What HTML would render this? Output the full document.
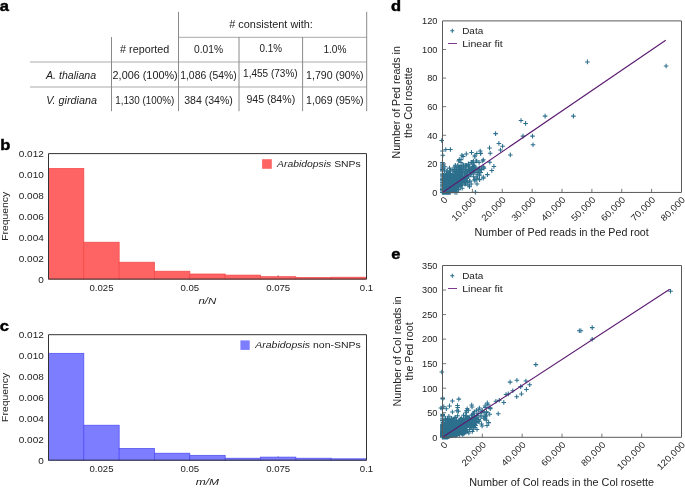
<!DOCTYPE html>
<html><head><meta charset="utf-8"><style>
html,body{margin:0;padding:0;background:#fff;overflow:hidden;}
svg{display:block;will-change:transform;}
text{font-family:"Liberation Sans", sans-serif;fill:#222;}
</style></head><body>
<svg width="685" height="488" viewBox="0 0 685 488">
<text x="-0.30" y="10.90" font-size="15" font-weight="bold" style="fill:#000;stroke:#000;stroke-width:0.45" textLength="9.18" lengthAdjust="spacingAndGlyphs">a</text>
<text x="0.20" y="149.60" font-size="15" font-weight="bold" style="fill:#000;stroke:#000;stroke-width:0.45" textLength="10.08" lengthAdjust="spacingAndGlyphs">b</text>
<text x="-0.20" y="331.00" font-size="15" font-weight="bold" style="fill:#000;stroke:#000;stroke-width:0.45" textLength="9.18" lengthAdjust="spacingAndGlyphs">c</text>
<text x="391.00" y="10.80" font-size="15" font-weight="bold" style="fill:#000;stroke:#000;stroke-width:0.45" textLength="10.08" lengthAdjust="spacingAndGlyphs">d</text>
<text x="391.20" y="258.90" font-size="15" font-weight="bold" style="fill:#000;stroke:#000;stroke-width:0.45" textLength="9.18" lengthAdjust="spacingAndGlyphs">e</text>
<line x1="178.50" y1="37.30" x2="366.70" y2="37.30" stroke="#ababab" stroke-width="1"/>
<line x1="30.00" y1="62.00" x2="366.70" y2="62.00" stroke="#ababab" stroke-width="1"/>
<line x1="30.00" y1="87.00" x2="366.70" y2="87.00" stroke="#ababab" stroke-width="1"/>
<line x1="111.50" y1="37.00" x2="111.50" y2="111.20" stroke="#8a8a8a" stroke-width="1"/>
<line x1="178.50" y1="11.80" x2="178.50" y2="111.20" stroke="#8a8a8a" stroke-width="1"/>
<line x1="239.00" y1="37.00" x2="239.00" y2="111.20" stroke="#8a8a8a" stroke-width="1"/>
<line x1="302.60" y1="37.00" x2="302.60" y2="111.20" stroke="#8a8a8a" stroke-width="1"/>
<line x1="366.70" y1="11.80" x2="366.70" y2="111.20" stroke="#8a8a8a" stroke-width="1"/>
<text x="229.30" y="28.20" font-size="10.2" textLength="83.50" lengthAdjust="spacingAndGlyphs"># consistent with:</text>
<text x="120.10" y="53.40" font-size="10.2" textLength="49.10" lengthAdjust="spacingAndGlyphs"># reported</text>
<text x="194.00" y="53.20" font-size="10.2" textLength="29.10" lengthAdjust="spacingAndGlyphs">0.01%</text>
<text x="259.50" y="51.80" font-size="10.2" textLength="22.50" lengthAdjust="spacingAndGlyphs">0.1%</text>
<text x="323.40" y="53.20" font-size="10.2" textLength="23.10" lengthAdjust="spacingAndGlyphs">1.0%</text>
<text x="46.00" y="78.60" font-size="10.2" font-style="italic" textLength="50.20" lengthAdjust="spacingAndGlyphs">A. thaliana</text>
<text x="46.20" y="103.80" font-size="10.2" font-style="italic" textLength="50.70" lengthAdjust="spacingAndGlyphs">V. girdiana</text>
<text x="112.60" y="78.80" font-size="10.2" textLength="65.10" lengthAdjust="spacingAndGlyphs">2,006 (100%)</text>
<text x="180.20" y="78.80" font-size="10.2" textLength="56.60" lengthAdjust="spacingAndGlyphs">1,086 (54%)</text>
<text x="243.10" y="77.40" font-size="10.2" textLength="54.60" lengthAdjust="spacingAndGlyphs">1,455 (73%)</text>
<text x="306.10" y="79.00" font-size="10.2" textLength="57.50" lengthAdjust="spacingAndGlyphs">1,790 (90%)</text>
<text x="115.20" y="104.00" font-size="10.2" textLength="59.10" lengthAdjust="spacingAndGlyphs">1,130 (100%)</text>
<text x="184.20" y="104.00" font-size="10.2" textLength="48.70" lengthAdjust="spacingAndGlyphs">384 (34%)</text>
<text x="246.40" y="102.50" font-size="10.2" textLength="48.80" lengthAdjust="spacingAndGlyphs">945 (84%)</text>
<text x="306.10" y="104.00" font-size="10.2" textLength="57.50" lengthAdjust="spacingAndGlyphs">1,069 (95%)</text>
<line x1="101.50" y1="279.10" x2="101.50" y2="275.30" stroke="#444" stroke-width="0.8"/>
<line x1="189.83" y1="279.10" x2="189.83" y2="275.30" stroke="#444" stroke-width="0.8"/>
<line x1="278.17" y1="279.10" x2="278.17" y2="275.30" stroke="#444" stroke-width="0.8"/>
<rect x="48.50" y="168.40" width="35.33" height="110.70" fill="#ff6464" stroke="#f24646" stroke-width="0.7"/>
<rect x="83.83" y="242.20" width="35.33" height="36.90" fill="#ff6464" stroke="#f24646" stroke-width="0.7"/>
<rect x="119.17" y="262.20" width="35.33" height="16.90" fill="#ff6464" stroke="#f24646" stroke-width="0.7"/>
<rect x="154.50" y="271.20" width="35.33" height="7.90" fill="#ff6464" stroke="#f24646" stroke-width="0.7"/>
<rect x="189.83" y="274.00" width="35.33" height="5.10" fill="#ff6464" stroke="#f24646" stroke-width="0.7"/>
<rect x="225.17" y="275.10" width="35.33" height="4.00" fill="#ff6464" stroke="#f24646" stroke-width="0.7"/>
<rect x="260.50" y="276.70" width="35.33" height="2.40" fill="#ff6464" stroke="#f24646" stroke-width="0.7"/>
<rect x="295.83" y="277.40" width="35.33" height="1.70" fill="#ff6464" stroke="#f24646" stroke-width="0.7"/>
<rect x="331.17" y="277.20" width="35.33" height="1.90" fill="#ff6464" stroke="#f24646" stroke-width="0.7"/>
<path d="M48.5 153.6 H366.5 V279.1 H48.5 Z" fill="none" stroke="#333" stroke-width="1"/>
<text x="101.50" y="290.80" font-size="9.6" text-anchor="middle" textLength="24.02" lengthAdjust="spacingAndGlyphs">0.025</text>
<text x="189.83" y="290.80" font-size="9.6" text-anchor="middle" textLength="18.68" lengthAdjust="spacingAndGlyphs">0.05</text>
<text x="278.17" y="290.80" font-size="9.6" text-anchor="middle" textLength="24.02" lengthAdjust="spacingAndGlyphs">0.075</text>
<text x="366.50" y="290.80" font-size="9.6" text-anchor="middle" textLength="13.34" lengthAdjust="spacingAndGlyphs">0.1</text>
<text x="43.80" y="282.60" font-size="9.8" text-anchor="end" textLength="5.56" lengthAdjust="spacingAndGlyphs">0</text>
<text x="43.80" y="261.68" font-size="9.8" text-anchor="end" textLength="25.01" lengthAdjust="spacingAndGlyphs">0.002</text>
<text x="43.80" y="240.77" font-size="9.8" text-anchor="end" textLength="25.01" lengthAdjust="spacingAndGlyphs">0.004</text>
<text x="43.80" y="219.85" font-size="9.8" text-anchor="end" textLength="25.01" lengthAdjust="spacingAndGlyphs">0.006</text>
<text x="43.80" y="198.93" font-size="9.8" text-anchor="end" textLength="25.01" lengthAdjust="spacingAndGlyphs">0.008</text>
<text x="43.80" y="178.02" font-size="9.8" text-anchor="end" textLength="25.01" lengthAdjust="spacingAndGlyphs">0.010</text>
<text x="43.80" y="157.10" font-size="9.8" text-anchor="end" textLength="25.01" lengthAdjust="spacingAndGlyphs">0.012</text>
<text x="0.00" y="0.00" font-size="9.3" text-anchor="middle" textLength="49.00" lengthAdjust="spacingAndGlyphs" transform="translate(8.1 216.3) rotate(-90)">Frequency</text>
<rect x="262.10" y="159.20" width="9.70" height="9.60" fill="#ff6464"/>
<text x="277.00" y="166.50" font-size="9.3" textLength="83.70" lengthAdjust="spacingAndGlyphs"><tspan font-style="italic">Arabidopsis</tspan> SNPs</text>
<text x="198.50" y="304.00" font-size="9.6" font-style="italic" textLength="17.80" lengthAdjust="spacingAndGlyphs">n/N</text>
<line x1="101.50" y1="460.20" x2="101.50" y2="456.40" stroke="#444" stroke-width="0.8"/>
<line x1="189.83" y1="460.20" x2="189.83" y2="456.40" stroke="#444" stroke-width="0.8"/>
<line x1="278.17" y1="460.20" x2="278.17" y2="456.40" stroke="#444" stroke-width="0.8"/>
<rect x="48.50" y="353.30" width="35.33" height="106.90" fill="#7d7dff" stroke="#4a4af2" stroke-width="0.7"/>
<rect x="83.83" y="425.20" width="35.33" height="35.00" fill="#7d7dff" stroke="#4a4af2" stroke-width="0.7"/>
<rect x="119.17" y="448.40" width="35.33" height="11.80" fill="#7d7dff" stroke="#4a4af2" stroke-width="0.7"/>
<rect x="154.50" y="453.20" width="35.33" height="7.00" fill="#7d7dff" stroke="#4a4af2" stroke-width="0.7"/>
<rect x="189.83" y="455.30" width="35.33" height="4.90" fill="#7d7dff" stroke="#4a4af2" stroke-width="0.7"/>
<rect x="225.17" y="458.20" width="35.33" height="2.00" fill="#7d7dff" stroke="#4a4af2" stroke-width="0.7"/>
<rect x="260.50" y="457.10" width="35.33" height="3.10" fill="#7d7dff" stroke="#4a4af2" stroke-width="0.7"/>
<rect x="295.83" y="458.20" width="35.33" height="2.00" fill="#7d7dff" stroke="#4a4af2" stroke-width="0.7"/>
<rect x="331.17" y="458.80" width="35.33" height="1.40" fill="#7d7dff" stroke="#4a4af2" stroke-width="0.7"/>
<path d="M48.5 334.7 H366.5 V460.2 H48.5 Z" fill="none" stroke="#333" stroke-width="1"/>
<text x="101.50" y="471.90" font-size="9.6" text-anchor="middle" textLength="24.02" lengthAdjust="spacingAndGlyphs">0.025</text>
<text x="189.83" y="471.90" font-size="9.6" text-anchor="middle" textLength="18.68" lengthAdjust="spacingAndGlyphs">0.05</text>
<text x="278.17" y="471.90" font-size="9.6" text-anchor="middle" textLength="24.02" lengthAdjust="spacingAndGlyphs">0.075</text>
<text x="366.50" y="471.90" font-size="9.6" text-anchor="middle" textLength="13.34" lengthAdjust="spacingAndGlyphs">0.1</text>
<text x="43.80" y="463.70" font-size="9.8" text-anchor="end" textLength="5.56" lengthAdjust="spacingAndGlyphs">0</text>
<text x="43.80" y="442.78" font-size="9.8" text-anchor="end" textLength="25.01" lengthAdjust="spacingAndGlyphs">0.002</text>
<text x="43.80" y="421.87" font-size="9.8" text-anchor="end" textLength="25.01" lengthAdjust="spacingAndGlyphs">0.004</text>
<text x="43.80" y="400.95" font-size="9.8" text-anchor="end" textLength="25.01" lengthAdjust="spacingAndGlyphs">0.006</text>
<text x="43.80" y="380.03" font-size="9.8" text-anchor="end" textLength="25.01" lengthAdjust="spacingAndGlyphs">0.008</text>
<text x="43.80" y="359.12" font-size="9.8" text-anchor="end" textLength="25.01" lengthAdjust="spacingAndGlyphs">0.010</text>
<text x="43.80" y="338.20" font-size="9.8" text-anchor="end" textLength="25.01" lengthAdjust="spacingAndGlyphs">0.012</text>
<text x="0.00" y="0.00" font-size="9.3" text-anchor="middle" textLength="49.00" lengthAdjust="spacingAndGlyphs" transform="translate(8.1 397.4) rotate(-90)">Frequency</text>
<rect x="240.40" y="340.40" width="9.30" height="9.50" fill="#7d7dff"/>
<text x="255.30" y="348.20" font-size="9.3" textLength="105.50" lengthAdjust="spacingAndGlyphs"><tspan font-style="italic">Arabidopsis</tspan> non-SNPs</text>
<text x="195.70" y="485.20" font-size="9.6" font-style="italic" textLength="23.40" lengthAdjust="spacingAndGlyphs">m/M</text>
<line x1="472.38" y1="192.45" x2="472.38" y2="188.85" stroke="#555" stroke-width="0.8"/>
<line x1="502.25" y1="192.45" x2="502.25" y2="188.85" stroke="#555" stroke-width="0.8"/>
<line x1="532.12" y1="192.45" x2="532.12" y2="188.85" stroke="#555" stroke-width="0.8"/>
<line x1="562.00" y1="192.45" x2="562.00" y2="188.85" stroke="#555" stroke-width="0.8"/>
<line x1="591.88" y1="192.45" x2="591.88" y2="188.85" stroke="#555" stroke-width="0.8"/>
<line x1="621.75" y1="192.45" x2="621.75" y2="188.85" stroke="#555" stroke-width="0.8"/>
<line x1="651.62" y1="192.45" x2="651.62" y2="188.85" stroke="#555" stroke-width="0.8"/>
<line x1="442.50" y1="163.86" x2="446.10" y2="163.86" stroke="#555" stroke-width="0.8"/>
<line x1="442.50" y1="135.27" x2="446.10" y2="135.27" stroke="#555" stroke-width="0.8"/>
<line x1="442.50" y1="106.67" x2="446.10" y2="106.67" stroke="#555" stroke-width="0.8"/>
<line x1="442.50" y1="78.08" x2="446.10" y2="78.08" stroke="#555" stroke-width="0.8"/>
<line x1="442.50" y1="49.49" x2="446.10" y2="49.49" stroke="#555" stroke-width="0.8"/>
<path d="M441.4 189.6h4.6M443.7 187.3v4.6M447.1 183.9h4.6M449.4 181.6v4.6M444.1 185.3h4.6M446.4 183.0v4.6M448.0 189.6h4.6M450.3 187.3v4.6M448.4 186.7h4.6M450.7 184.4v4.6M467.6 169.6h4.6M469.9 167.3v4.6M440.3 189.6h4.6M442.6 187.3v4.6M445.1 182.4h4.6M447.4 180.1v4.6M444.6 186.7h4.6M446.9 184.4v4.6M447.6 188.2h4.6M449.9 185.9v4.6M449.4 178.2h4.6M451.7 175.9v4.6M443.4 186.7h4.6M445.7 184.4v4.6M443.1 191.0h4.6M445.4 188.7v4.6M444.7 186.7h4.6M447.0 184.4v4.6M445.6 188.2h4.6M447.9 185.9v4.6M448.0 176.7h4.6M450.3 174.4v4.6M445.0 185.3h4.6M447.3 183.0v4.6M448.3 182.4h4.6M450.6 180.1v4.6M447.8 188.2h4.6M450.1 185.9v4.6M457.8 186.7h4.6M460.1 184.4v4.6M442.1 192.4h4.6M444.4 190.1v4.6M441.0 192.4h4.6M443.3 190.1v4.6M453.0 165.3h4.6M455.3 163.0v4.6M471.6 169.6h4.6M473.9 167.3v4.6M443.4 192.4h4.6M445.7 190.1v4.6M442.6 191.0h4.6M444.9 188.7v4.6M446.2 179.6h4.6M448.5 177.3v4.6M450.7 185.3h4.6M453.0 183.0v4.6M442.1 192.4h4.6M444.4 190.1v4.6M452.6 191.0h4.6M454.9 188.7v4.6M458.9 183.9h4.6M461.2 181.6v4.6M444.7 192.4h4.6M447.0 190.1v4.6M441.3 189.6h4.6M443.6 187.3v4.6M446.3 188.2h4.6M448.6 185.9v4.6M446.2 185.3h4.6M448.5 183.0v4.6M446.3 188.2h4.6M448.6 185.9v4.6M449.8 181.0h4.6M452.1 178.7v4.6M443.9 185.3h4.6M446.2 183.0v4.6M447.7 186.7h4.6M450.0 184.4v4.6M443.6 191.0h4.6M445.9 188.7v4.6M446.7 186.7h4.6M449.0 184.4v4.6M449.8 186.7h4.6M452.1 184.4v4.6M443.7 188.2h4.6M446.0 185.9v4.6M454.2 181.0h4.6M456.5 178.7v4.6M455.1 182.4h4.6M457.4 180.1v4.6M446.6 172.4h4.6M448.9 170.1v4.6M448.8 182.4h4.6M451.1 180.1v4.6M448.8 189.6h4.6M451.1 187.3v4.6M477.3 179.6h4.6M479.6 177.3v4.6M442.8 186.7h4.6M445.1 184.4v4.6M479.2 169.6h4.6M481.5 167.3v4.6M443.8 183.9h4.6M446.1 181.6v4.6M464.7 166.7h4.6M467.0 164.4v4.6M442.7 189.6h4.6M445.0 187.3v4.6M441.5 192.4h4.6M443.8 190.1v4.6M441.8 189.6h4.6M444.1 187.3v4.6M444.3 189.6h4.6M446.6 187.3v4.6M448.1 176.7h4.6M450.4 174.4v4.6M476.8 168.1h4.6M479.1 165.8v4.6M450.8 183.9h4.6M453.1 181.6v4.6M441.7 182.4h4.6M444.0 180.1v4.6M443.7 188.2h4.6M446.0 185.9v4.6M442.4 192.4h4.6M444.7 190.1v4.6M441.2 191.0h4.6M443.5 188.7v4.6M441.1 192.4h4.6M443.4 190.1v4.6M459.7 178.2h4.6M462.0 175.9v4.6M445.8 188.2h4.6M448.1 185.9v4.6M441.4 192.4h4.6M443.7 190.1v4.6M455.2 179.6h4.6M457.5 177.3v4.6M441.4 192.4h4.6M443.7 190.1v4.6M446.3 183.9h4.6M448.6 181.6v4.6M462.0 175.3h4.6M464.3 173.0v4.6M443.4 189.6h4.6M445.7 187.3v4.6M443.3 185.3h4.6M445.6 183.0v4.6M443.4 186.7h4.6M445.7 184.4v4.6M442.4 186.7h4.6M444.7 184.4v4.6M440.8 188.2h4.6M443.1 185.9v4.6M447.9 191.0h4.6M450.2 188.7v4.6M440.5 192.4h4.6M442.8 190.1v4.6M453.5 185.3h4.6M455.8 183.0v4.6M451.8 175.3h4.6M454.1 173.0v4.6M442.6 192.4h4.6M444.9 190.1v4.6M441.8 183.9h4.6M444.1 181.6v4.6M446.2 191.0h4.6M448.5 188.7v4.6M451.2 188.2h4.6M453.5 185.9v4.6M449.6 185.3h4.6M451.9 183.0v4.6M445.6 191.0h4.6M447.9 188.7v4.6M443.5 192.4h4.6M445.8 190.1v4.6M449.5 178.2h4.6M451.8 175.9v4.6M462.6 181.0h4.6M464.9 178.7v4.6M446.9 189.6h4.6M449.2 187.3v4.6M449.8 186.7h4.6M452.1 184.4v4.6M466.1 171.0h4.6M468.4 168.7v4.6M446.1 188.2h4.6M448.4 185.9v4.6M443.1 186.7h4.6M445.4 184.4v4.6M465.8 182.4h4.6M468.1 180.1v4.6M445.5 189.6h4.6M447.8 187.3v4.6M442.7 188.2h4.6M445.0 185.9v4.6M441.5 189.6h4.6M443.8 187.3v4.6M446.9 183.9h4.6M449.2 181.6v4.6M443.2 192.4h4.6M445.5 190.1v4.6M443.3 188.2h4.6M445.6 185.9v4.6M446.7 186.7h4.6M449.0 184.4v4.6M463.7 181.0h4.6M466.0 178.7v4.6M448.1 186.7h4.6M450.4 184.4v4.6M442.4 192.4h4.6M444.7 190.1v4.6M446.2 186.7h4.6M448.5 184.4v4.6M443.4 179.6h4.6M445.7 177.3v4.6M457.4 169.6h4.6M459.7 167.3v4.6M454.7 175.3h4.6M457.0 173.0v4.6M447.6 186.7h4.6M449.9 184.4v4.6M459.6 155.3h4.6M461.9 153.0v4.6M442.9 191.0h4.6M445.2 188.7v4.6M441.7 192.4h4.6M444.0 190.1v4.6M442.2 192.4h4.6M444.5 190.1v4.6M470.0 171.0h4.6M472.3 168.7v4.6M468.9 169.6h4.6M471.2 167.3v4.6M442.3 192.4h4.6M444.6 190.1v4.6M448.5 185.3h4.6M450.8 183.0v4.6M442.0 189.6h4.6M444.3 187.3v4.6M451.6 189.6h4.6M453.9 187.3v4.6M445.5 188.2h4.6M447.8 185.9v4.6M451.6 173.9h4.6M453.9 171.6v4.6M441.5 191.0h4.6M443.8 188.7v4.6M444.4 191.0h4.6M446.7 188.7v4.6M444.6 182.4h4.6M446.9 180.1v4.6M440.9 191.0h4.6M443.2 188.7v4.6M442.6 183.9h4.6M444.9 181.6v4.6M442.8 191.0h4.6M445.1 188.7v4.6M448.7 181.0h4.6M451.0 178.7v4.6M455.6 183.9h4.6M457.9 181.6v4.6M442.2 191.0h4.6M444.5 188.7v4.6M441.5 191.0h4.6M443.8 188.7v4.6M449.9 186.7h4.6M452.2 184.4v4.6M446.3 186.7h4.6M448.6 184.4v4.6M447.6 185.3h4.6M449.9 183.0v4.6M448.9 186.7h4.6M451.2 184.4v4.6M462.5 173.9h4.6M464.8 171.6v4.6M450.1 179.6h4.6M452.4 177.3v4.6M442.6 191.0h4.6M444.9 188.7v4.6M443.1 188.2h4.6M445.4 185.9v4.6M443.2 191.0h4.6M445.5 188.7v4.6M440.8 191.0h4.6M443.1 188.7v4.6M450.2 186.7h4.6M452.5 184.4v4.6M464.6 178.2h4.6M466.9 175.9v4.6M442.7 191.0h4.6M445.0 188.7v4.6M443.4 189.6h4.6M445.7 187.3v4.6M442.1 191.0h4.6M444.4 188.7v4.6M444.8 192.4h4.6M447.1 190.1v4.6M440.9 191.0h4.6M443.2 188.7v4.6M448.0 182.4h4.6M450.3 180.1v4.6M450.7 186.7h4.6M453.0 184.4v4.6M443.1 191.0h4.6M445.4 188.7v4.6M449.3 186.7h4.6M451.6 184.4v4.6M443.4 189.6h4.6M445.7 187.3v4.6M450.7 183.9h4.6M453.0 181.6v4.6M442.0 186.7h4.6M444.3 184.4v4.6M443.3 186.7h4.6M445.6 184.4v4.6M443.2 191.0h4.6M445.5 188.7v4.6M443.3 191.0h4.6M445.6 188.7v4.6M444.8 178.2h4.6M447.1 175.9v4.6M442.5 186.7h4.6M444.8 184.4v4.6M441.3 188.2h4.6M443.6 185.9v4.6M442.3 192.4h4.6M444.6 190.1v4.6M442.7 192.4h4.6M445.0 190.1v4.6M443.9 183.9h4.6M446.2 181.6v4.6M445.6 188.2h4.6M447.9 185.9v4.6M444.4 182.4h4.6M446.7 180.1v4.6M441.2 188.2h4.6M443.5 185.9v4.6M444.8 183.9h4.6M447.1 181.6v4.6M447.4 183.9h4.6M449.7 181.6v4.6M445.5 188.2h4.6M447.8 185.9v4.6M441.6 188.2h4.6M443.9 185.9v4.6M446.8 181.0h4.6M449.1 178.7v4.6M446.4 189.6h4.6M448.7 187.3v4.6M444.1 191.0h4.6M446.4 188.7v4.6M444.0 189.6h4.6M446.3 187.3v4.6M448.5 173.9h4.6M450.8 171.6v4.6M447.9 183.9h4.6M450.2 181.6v4.6M442.6 186.7h4.6M444.9 184.4v4.6M444.9 191.0h4.6M447.2 188.7v4.6M444.6 181.0h4.6M446.9 178.7v4.6M454.3 175.3h4.6M456.6 173.0v4.6M455.4 181.0h4.6M457.7 178.7v4.6M443.7 189.6h4.6M446.0 187.3v4.6M441.1 192.4h4.6M443.4 190.1v4.6M442.5 191.0h4.6M444.8 188.7v4.6M442.7 191.0h4.6M445.0 188.7v4.6M442.3 192.4h4.6M444.6 190.1v4.6M440.5 189.6h4.6M442.8 187.3v4.6M446.2 186.7h4.6M448.5 184.4v4.6M450.0 179.6h4.6M452.3 177.3v4.6M443.0 191.0h4.6M445.3 188.7v4.6M441.6 191.0h4.6M443.9 188.7v4.6M441.3 175.3h4.6M443.6 173.0v4.6M444.2 186.7h4.6M446.5 184.4v4.6M442.2 171.0h4.6M444.5 168.7v4.6M466.1 163.9h4.6M468.4 161.6v4.6M450.5 185.3h4.6M452.8 183.0v4.6M446.0 185.3h4.6M448.3 183.0v4.6M443.9 191.0h4.6M446.2 188.7v4.6M443.6 189.6h4.6M445.9 187.3v4.6M442.7 192.4h4.6M445.0 190.1v4.6M442.3 192.4h4.6M444.6 190.1v4.6M442.6 191.0h4.6M444.9 188.7v4.6M450.1 181.0h4.6M452.4 178.7v4.6M447.7 181.0h4.6M450.0 178.7v4.6M443.7 186.7h4.6M446.0 184.4v4.6M447.9 183.9h4.6M450.2 181.6v4.6M449.7 183.9h4.6M452.0 181.6v4.6M441.9 191.0h4.6M444.2 188.7v4.6M440.6 189.6h4.6M442.9 187.3v4.6M441.9 189.6h4.6M444.2 187.3v4.6M443.1 191.0h4.6M445.4 188.7v4.6M441.3 189.6h4.6M443.6 187.3v4.6M441.5 192.4h4.6M443.8 190.1v4.6M443.7 192.4h4.6M446.0 190.1v4.6M459.2 185.3h4.6M461.5 183.0v4.6M443.1 192.4h4.6M445.4 190.1v4.6M451.8 185.3h4.6M454.1 183.0v4.6M441.7 191.0h4.6M444.0 188.7v4.6M458.5 173.9h4.6M460.8 171.6v4.6M457.0 179.6h4.6M459.3 177.3v4.6M442.7 186.7h4.6M445.0 184.4v4.6M442.4 189.6h4.6M444.7 187.3v4.6M441.8 186.7h4.6M444.1 184.4v4.6M453.2 185.3h4.6M455.5 183.0v4.6M444.5 182.4h4.6M446.8 180.1v4.6M456.0 176.7h4.6M458.3 174.4v4.6M443.6 188.2h4.6M445.9 185.9v4.6M442.1 192.4h4.6M444.4 190.1v4.6M441.2 182.4h4.6M443.5 180.1v4.6M446.6 192.4h4.6M448.9 190.1v4.6M441.3 189.6h4.6M443.6 187.3v4.6M449.1 185.3h4.6M451.4 183.0v4.6M448.0 178.2h4.6M450.3 175.9v4.6M445.5 185.3h4.6M447.8 183.0v4.6M442.0 189.6h4.6M444.3 187.3v4.6M457.3 182.4h4.6M459.6 180.1v4.6M440.6 191.0h4.6M442.9 188.7v4.6M449.5 186.7h4.6M451.8 184.4v4.6M442.0 185.3h4.6M444.3 183.0v4.6M449.3 182.4h4.6M451.6 180.1v4.6M452.8 183.9h4.6M455.1 181.6v4.6M447.3 188.2h4.6M449.6 185.9v4.6M440.8 191.0h4.6M443.1 188.7v4.6M443.3 188.2h4.6M445.6 185.9v4.6M442.3 191.0h4.6M444.6 188.7v4.6M442.1 191.0h4.6M444.4 188.7v4.6M449.9 181.0h4.6M452.2 178.7v4.6M449.7 188.2h4.6M452.0 185.9v4.6M443.3 191.0h4.6M445.6 188.7v4.6M456.0 181.0h4.6M458.3 178.7v4.6M440.5 192.4h4.6M442.8 190.1v4.6M449.3 188.2h4.6M451.6 185.9v4.6M467.0 166.7h4.6M469.3 164.4v4.6M443.8 183.9h4.6M446.1 181.6v4.6M440.5 192.4h4.6M442.8 190.1v4.6M441.3 185.3h4.6M443.6 183.0v4.6M448.1 183.9h4.6M450.4 181.6v4.6M444.2 192.4h4.6M446.5 190.1v4.6M444.3 185.3h4.6M446.6 183.0v4.6M443.4 191.0h4.6M445.7 188.7v4.6M455.8 181.0h4.6M458.1 178.7v4.6M445.4 189.6h4.6M447.7 187.3v4.6M454.2 169.6h4.6M456.5 167.3v4.6M457.2 178.2h4.6M459.5 175.9v4.6M448.6 191.0h4.6M450.9 188.7v4.6M445.8 185.3h4.6M448.1 183.0v4.6M450.4 181.0h4.6M452.7 178.7v4.6M454.4 185.3h4.6M456.7 183.0v4.6M443.9 188.2h4.6M446.2 185.9v4.6M443.3 188.2h4.6M445.6 185.9v4.6M460.0 178.2h4.6M462.3 175.9v4.6M462.7 181.0h4.6M465.0 178.7v4.6M457.7 178.2h4.6M460.0 175.9v4.6M456.7 178.2h4.6M459.0 175.9v4.6M481.0 166.7h4.6M483.3 164.4v4.6M446.8 176.7h4.6M449.1 174.4v4.6M442.3 192.4h4.6M444.6 190.1v4.6M444.8 191.0h4.6M447.1 188.7v4.6M444.4 183.9h4.6M446.7 181.6v4.6M440.4 191.0h4.6M442.7 188.7v4.6M448.8 185.3h4.6M451.1 183.0v4.6M441.3 192.4h4.6M443.6 190.1v4.6M442.5 191.0h4.6M444.8 188.7v4.6M440.3 192.4h4.6M442.6 190.1v4.6M448.9 181.0h4.6M451.2 178.7v4.6M441.9 189.6h4.6M444.2 187.3v4.6M457.7 172.4h4.6M460.0 170.1v4.6M455.9 185.3h4.6M458.2 183.0v4.6M443.5 186.7h4.6M445.8 184.4v4.6M451.2 176.7h4.6M453.5 174.4v4.6M444.0 189.6h4.6M446.3 187.3v4.6M445.4 186.7h4.6M447.7 184.4v4.6M459.5 172.4h4.6M461.8 170.1v4.6M442.6 189.6h4.6M444.9 187.3v4.6M445.6 186.7h4.6M447.9 184.4v4.6M444.9 182.4h4.6M447.2 180.1v4.6M447.8 183.9h4.6M450.1 181.6v4.6M464.0 165.3h4.6M466.3 163.0v4.6M446.9 185.3h4.6M449.2 183.0v4.6M442.3 176.7h4.6M444.6 174.4v4.6M456.6 173.9h4.6M458.9 171.6v4.6M472.5 156.7h4.6M474.8 154.4v4.6M455.7 178.2h4.6M458.0 175.9v4.6M442.0 192.4h4.6M444.3 190.1v4.6M443.3 191.0h4.6M445.6 188.7v4.6M441.0 191.0h4.6M443.3 188.7v4.6M446.1 183.9h4.6M448.4 181.6v4.6M442.0 188.2h4.6M444.3 185.9v4.6M442.6 186.7h4.6M444.9 184.4v4.6M472.6 155.3h4.6M474.9 153.0v4.6M442.2 192.4h4.6M444.5 190.1v4.6M441.5 192.4h4.6M443.8 190.1v4.6M442.6 191.0h4.6M444.9 188.7v4.6M442.0 192.4h4.6M444.3 190.1v4.6M447.8 191.0h4.6M450.1 188.7v4.6M454.6 178.2h4.6M456.9 175.9v4.6M445.6 189.6h4.6M447.9 187.3v4.6M443.2 191.0h4.6M445.5 188.7v4.6M441.3 188.2h4.6M443.6 185.9v4.6M441.3 179.6h4.6M443.6 177.3v4.6M440.6 192.4h4.6M442.9 190.1v4.6M443.3 192.4h4.6M445.6 190.1v4.6M443.3 181.0h4.6M445.6 178.7v4.6M444.7 182.4h4.6M447.0 180.1v4.6M448.5 182.4h4.6M450.8 180.1v4.6M442.5 191.0h4.6M444.8 188.7v4.6M446.4 181.0h4.6M448.7 178.7v4.6M443.8 191.0h4.6M446.1 188.7v4.6M447.3 186.7h4.6M449.6 184.4v4.6M443.6 189.6h4.6M445.9 187.3v4.6M446.2 185.3h4.6M448.5 183.0v4.6M452.4 181.0h4.6M454.7 178.7v4.6M466.5 176.7h4.6M468.8 174.4v4.6M444.2 189.6h4.6M446.5 187.3v4.6M443.1 188.2h4.6M445.4 185.9v4.6M441.5 186.7h4.6M443.8 184.4v4.6M447.0 191.0h4.6M449.3 188.7v4.6M445.9 191.0h4.6M448.2 188.7v4.6M443.9 189.6h4.6M446.2 187.3v4.6M456.3 182.4h4.6M458.6 180.1v4.6M452.1 185.3h4.6M454.4 183.0v4.6M442.7 191.0h4.6M445.0 188.7v4.6M443.9 189.6h4.6M446.2 187.3v4.6M441.1 188.2h4.6M443.4 185.9v4.6M442.8 182.4h4.6M445.1 180.1v4.6M442.7 192.4h4.6M445.0 190.1v4.6M455.1 181.0h4.6M457.4 178.7v4.6M450.2 191.0h4.6M452.5 188.7v4.6M454.1 178.2h4.6M456.4 175.9v4.6M448.8 185.3h4.6M451.1 183.0v4.6M459.0 176.7h4.6M461.3 174.4v4.6M445.6 189.6h4.6M447.9 187.3v4.6M441.5 192.4h4.6M443.8 190.1v4.6M445.0 188.2h4.6M447.3 185.9v4.6M444.1 185.3h4.6M446.4 183.0v4.6M440.6 192.4h4.6M442.9 190.1v4.6M442.0 188.2h4.6M444.3 185.9v4.6M442.3 189.6h4.6M444.6 187.3v4.6M440.3 189.6h4.6M442.6 187.3v4.6M441.8 192.4h4.6M444.1 190.1v4.6M441.2 191.0h4.6M443.5 188.7v4.6M447.4 192.4h4.6M449.7 190.1v4.6M442.7 192.4h4.6M445.0 190.1v4.6M444.5 189.6h4.6M446.8 187.3v4.6M477.0 168.1h4.6M479.3 165.8v4.6M455.6 175.3h4.6M457.9 173.0v4.6M447.2 189.6h4.6M449.5 187.3v4.6M444.7 188.2h4.6M447.0 185.9v4.6M450.6 182.4h4.6M452.9 180.1v4.6M441.5 191.0h4.6M443.8 188.7v4.6M451.6 183.9h4.6M453.9 181.6v4.6M446.9 188.2h4.6M449.2 185.9v4.6M448.5 186.7h4.6M450.8 184.4v4.6M446.1 189.6h4.6M448.4 187.3v4.6M442.3 191.0h4.6M444.6 188.7v4.6M443.4 192.4h4.6M445.7 190.1v4.6M445.9 186.7h4.6M448.2 184.4v4.6M443.9 188.2h4.6M446.2 185.9v4.6M441.0 192.4h4.6M443.3 190.1v4.6M450.4 189.6h4.6M452.7 187.3v4.6M450.1 176.7h4.6M452.4 174.4v4.6M441.0 191.0h4.6M443.3 188.7v4.6M445.4 181.0h4.6M447.7 178.7v4.6M443.1 189.6h4.6M445.4 187.3v4.6M441.8 191.0h4.6M444.1 188.7v4.6M445.9 186.7h4.6M448.2 184.4v4.6M442.2 191.0h4.6M444.5 188.7v4.6M441.3 192.4h4.6M443.6 190.1v4.6M447.2 188.2h4.6M449.5 185.9v4.6M451.3 191.0h4.6M453.6 188.7v4.6M464.2 175.3h4.6M466.5 173.0v4.6M443.7 189.6h4.6M446.0 187.3v4.6M443.8 183.9h4.6M446.1 181.6v4.6M445.1 188.2h4.6M447.4 185.9v4.6M447.3 186.7h4.6M449.6 184.4v4.6M445.4 185.3h4.6M447.7 183.0v4.6M444.2 186.7h4.6M446.5 184.4v4.6M443.9 183.9h4.6M446.2 181.6v4.6M448.0 182.4h4.6M450.3 180.1v4.6M440.6 192.4h4.6M442.9 190.1v4.6M448.5 186.7h4.6M450.8 184.4v4.6M441.8 188.2h4.6M444.1 185.9v4.6M442.5 191.0h4.6M444.8 188.7v4.6M443.9 192.4h4.6M446.2 190.1v4.6M448.6 185.3h4.6M450.9 183.0v4.6M441.6 192.4h4.6M443.9 190.1v4.6M440.8 189.6h4.6M443.1 187.3v4.6M441.4 191.0h4.6M443.7 188.7v4.6M445.4 185.3h4.6M447.7 183.0v4.6M447.7 181.0h4.6M450.0 178.7v4.6M448.8 186.7h4.6M451.1 184.4v4.6M444.3 189.6h4.6M446.6 187.3v4.6M461.5 166.7h4.6M463.8 164.4v4.6M442.2 191.0h4.6M444.5 188.7v4.6M446.6 185.3h4.6M448.9 183.0v4.6M448.1 185.3h4.6M450.4 183.0v4.6M442.1 188.2h4.6M444.4 185.9v4.6M460.6 165.3h4.6M462.9 163.0v4.6M442.1 192.4h4.6M444.4 190.1v4.6M468.7 172.4h4.6M471.0 170.1v4.6M455.2 185.3h4.6M457.5 183.0v4.6M443.8 183.9h4.6M446.1 181.6v4.6M443.8 182.4h4.6M446.1 180.1v4.6M440.6 192.4h4.6M442.9 190.1v4.6M446.7 189.6h4.6M449.0 187.3v4.6M440.8 189.6h4.6M443.1 187.3v4.6M448.7 175.3h4.6M451.0 173.0v4.6M446.6 185.3h4.6M448.9 183.0v4.6M443.4 189.6h4.6M445.7 187.3v4.6M443.1 181.0h4.6M445.4 178.7v4.6M460.7 171.0h4.6M463.0 168.7v4.6M443.4 191.0h4.6M445.7 188.7v4.6M442.3 185.3h4.6M444.6 183.0v4.6M452.9 186.7h4.6M455.2 184.4v4.6M444.9 186.7h4.6M447.2 184.4v4.6M453.8 172.4h4.6M456.1 170.1v4.6M441.7 181.0h4.6M444.0 178.7v4.6M444.6 191.0h4.6M446.9 188.7v4.6M441.6 191.0h4.6M443.9 188.7v4.6M445.1 189.6h4.6M447.4 187.3v4.6M442.2 188.2h4.6M444.5 185.9v4.6M445.6 186.7h4.6M447.9 184.4v4.6M475.4 178.2h4.6M477.7 175.9v4.6M441.3 191.0h4.6M443.6 188.7v4.6M440.9 192.4h4.6M443.2 190.1v4.6M444.6 189.6h4.6M446.9 187.3v4.6M442.7 189.6h4.6M445.0 187.3v4.6M443.5 192.4h4.6M445.8 190.1v4.6M443.4 192.4h4.6M445.7 190.1v4.6M454.1 183.9h4.6M456.4 181.6v4.6M446.9 191.0h4.6M449.2 188.7v4.6M446.2 186.7h4.6M448.5 184.4v4.6M443.6 185.3h4.6M445.9 183.0v4.6M445.6 191.0h4.6M447.9 188.7v4.6M440.3 186.7h4.6M442.6 184.4v4.6M461.5 178.2h4.6M463.8 175.9v4.6M441.0 189.6h4.6M443.3 187.3v4.6M446.0 191.0h4.6M448.3 188.7v4.6M445.9 189.6h4.6M448.2 187.3v4.6M450.1 186.7h4.6M452.4 184.4v4.6M448.2 183.9h4.6M450.5 181.6v4.6M448.1 186.7h4.6M450.4 184.4v4.6M446.5 192.4h4.6M448.8 190.1v4.6M440.9 191.0h4.6M443.2 188.7v4.6M443.0 186.7h4.6M445.3 184.4v4.6M442.4 191.0h4.6M444.7 188.7v4.6M442.6 192.4h4.6M444.9 190.1v4.6M452.2 173.9h4.6M454.5 171.6v4.6M452.1 189.6h4.6M454.4 187.3v4.6M448.9 182.4h4.6M451.2 180.1v4.6M465.5 182.4h4.6M467.8 180.1v4.6M445.1 189.6h4.6M447.4 187.3v4.6M442.1 188.2h4.6M444.4 185.9v4.6M446.3 181.0h4.6M448.6 178.7v4.6M444.0 185.3h4.6M446.3 183.0v4.6M441.3 188.2h4.6M443.6 185.9v4.6M441.5 191.0h4.6M443.8 188.7v4.6M442.3 192.4h4.6M444.6 190.1v4.6M442.5 185.3h4.6M444.8 183.0v4.6M448.7 185.3h4.6M451.0 183.0v4.6M450.7 186.7h4.6M453.0 184.4v4.6M450.9 178.2h4.6M453.2 175.9v4.6M442.1 191.0h4.6M444.4 188.7v4.6M441.4 192.4h4.6M443.7 190.1v4.6M440.8 191.0h4.6M443.1 188.7v4.6M442.0 192.4h4.6M444.3 190.1v4.6M441.2 192.4h4.6M443.5 190.1v4.6M443.8 186.7h4.6M446.1 184.4v4.6M459.9 188.2h4.6M462.2 185.9v4.6M444.3 191.0h4.6M446.6 188.7v4.6M447.9 192.4h4.6M450.2 190.1v4.6M440.4 192.4h4.6M442.7 190.1v4.6M440.8 191.0h4.6M443.1 188.7v4.6M442.8 185.3h4.6M445.1 183.0v4.6M443.7 192.4h4.6M446.0 190.1v4.6M441.1 192.4h4.6M443.4 190.1v4.6M441.2 191.0h4.6M443.5 188.7v4.6M441.5 189.6h4.6M443.8 187.3v4.6M445.5 191.0h4.6M447.8 188.7v4.6M445.0 191.0h4.6M447.3 188.7v4.6M442.1 191.0h4.6M444.4 188.7v4.6M445.3 189.6h4.6M447.6 187.3v4.6M447.3 178.2h4.6M449.6 175.9v4.6M456.1 183.9h4.6M458.4 181.6v4.6M451.3 179.6h4.6M453.6 177.3v4.6M444.4 188.2h4.6M446.7 185.9v4.6M447.4 191.0h4.6M449.7 188.7v4.6M450.9 185.3h4.6M453.2 183.0v4.6M448.4 182.4h4.6M450.7 180.1v4.6M441.3 192.4h4.6M443.6 190.1v4.6M441.3 192.4h4.6M443.6 190.1v4.6M440.7 189.6h4.6M443.0 187.3v4.6M442.3 192.4h4.6M444.6 190.1v4.6M444.5 185.3h4.6M446.8 183.0v4.6M448.4 185.3h4.6M450.7 183.0v4.6M443.0 191.0h4.6M445.3 188.7v4.6M442.2 189.6h4.6M444.5 187.3v4.6M443.7 186.7h4.6M446.0 184.4v4.6M445.8 185.3h4.6M448.1 183.0v4.6M442.0 191.0h4.6M444.3 188.7v4.6M447.1 189.6h4.6M449.4 187.3v4.6M440.6 191.0h4.6M442.9 188.7v4.6M446.3 186.7h4.6M448.6 184.4v4.6M442.4 186.7h4.6M444.7 184.4v4.6M441.9 191.0h4.6M444.2 188.7v4.6M454.1 175.3h4.6M456.4 173.0v4.6M447.6 188.2h4.6M449.9 185.9v4.6M445.8 181.0h4.6M448.1 178.7v4.6M442.6 191.0h4.6M444.9 188.7v4.6M450.9 182.4h4.6M453.2 180.1v4.6M442.2 192.4h4.6M444.5 190.1v4.6M443.0 185.3h4.6M445.3 183.0v4.6M441.0 191.0h4.6M443.3 188.7v4.6M443.7 189.6h4.6M446.0 187.3v4.6M444.6 192.4h4.6M446.9 190.1v4.6M447.1 181.0h4.6M449.4 178.7v4.6M441.1 191.0h4.6M443.4 188.7v4.6M445.5 182.4h4.6M447.8 180.1v4.6M441.2 192.4h4.6M443.5 190.1v4.6M444.9 188.2h4.6M447.2 185.9v4.6M446.3 192.4h4.6M448.6 190.1v4.6M450.6 182.4h4.6M452.9 180.1v4.6M442.1 191.0h4.6M444.4 188.7v4.6M443.3 189.6h4.6M445.6 187.3v4.6M456.5 178.2h4.6M458.8 175.9v4.6M449.3 185.3h4.6M451.6 183.0v4.6M442.7 192.4h4.6M445.0 190.1v4.6M443.4 188.2h4.6M445.7 185.9v4.6M447.2 188.2h4.6M449.5 185.9v4.6M441.9 192.4h4.6M444.2 190.1v4.6M441.8 189.6h4.6M444.1 187.3v4.6M444.3 192.4h4.6M446.6 190.1v4.6M444.4 192.4h4.6M446.7 190.1v4.6M449.7 183.9h4.6M452.0 181.6v4.6M450.0 191.0h4.6M452.3 188.7v4.6M450.1 189.6h4.6M452.4 187.3v4.6M445.7 182.4h4.6M448.0 180.1v4.6M474.5 161.0h4.6M476.8 158.7v4.6M444.6 189.6h4.6M446.9 187.3v4.6M444.0 191.0h4.6M446.3 188.7v4.6M444.7 189.6h4.6M447.0 187.3v4.6M442.7 191.0h4.6M445.0 188.7v4.6M456.1 181.0h4.6M458.4 178.7v4.6M441.3 192.4h4.6M443.6 190.1v4.6M444.1 186.7h4.6M446.4 184.4v4.6M464.0 178.2h4.6M466.3 175.9v4.6M446.9 189.6h4.6M449.2 187.3v4.6M441.4 189.6h4.6M443.7 187.3v4.6M443.9 188.2h4.6M446.2 185.9v4.6M447.7 189.6h4.6M450.0 187.3v4.6M440.9 192.4h4.6M443.2 190.1v4.6M445.7 188.2h4.6M448.0 185.9v4.6M446.2 186.7h4.6M448.5 184.4v4.6M443.3 189.6h4.6M445.6 187.3v4.6M455.0 189.6h4.6M457.3 187.3v4.6M449.3 185.3h4.6M451.6 183.0v4.6M442.6 183.9h4.6M444.9 181.6v4.6M445.3 191.0h4.6M447.6 188.7v4.6M445.6 188.2h4.6M447.9 185.9v4.6M444.5 183.9h4.6M446.8 181.6v4.6M441.7 191.0h4.6M444.0 188.7v4.6M454.5 183.9h4.6M456.8 181.6v4.6M443.9 189.6h4.6M446.2 187.3v4.6M445.7 179.6h4.6M448.0 177.3v4.6M454.0 169.6h4.6M456.3 167.3v4.6M443.3 189.6h4.6M445.6 187.3v4.6M441.4 191.0h4.6M443.7 188.7v4.6M446.8 182.4h4.6M449.1 180.1v4.6M441.9 191.0h4.6M444.2 188.7v4.6M451.0 182.4h4.6M453.3 180.1v4.6M443.2 189.6h4.6M445.5 187.3v4.6M448.7 191.0h4.6M451.0 188.7v4.6M459.5 181.0h4.6M461.8 178.7v4.6M445.4 181.0h4.6M447.7 178.7v4.6M445.7 185.3h4.6M448.0 183.0v4.6M447.5 186.7h4.6M449.8 184.4v4.6M441.2 192.4h4.6M443.5 190.1v4.6M442.1 189.6h4.6M444.4 187.3v4.6M456.3 176.7h4.6M458.6 174.4v4.6M445.7 191.0h4.6M448.0 188.7v4.6M447.6 185.3h4.6M449.9 183.0v4.6M450.0 183.9h4.6M452.3 181.6v4.6M444.2 186.7h4.6M446.5 184.4v4.6M440.9 192.4h4.6M443.2 190.1v4.6M441.2 192.4h4.6M443.5 190.1v4.6M443.6 191.0h4.6M445.9 188.7v4.6M444.3 188.2h4.6M446.6 185.9v4.6M440.7 189.6h4.6M443.0 187.3v4.6M444.1 191.0h4.6M446.4 188.7v4.6M445.5 189.6h4.6M447.8 187.3v4.6M444.8 181.0h4.6M447.1 178.7v4.6M481.0 178.2h4.6M483.3 175.9v4.6M442.8 189.6h4.6M445.1 187.3v4.6M447.3 189.6h4.6M449.6 187.3v4.6M444.3 183.9h4.6M446.6 181.6v4.6M444.0 188.2h4.6M446.3 185.9v4.6M444.3 188.2h4.6M446.6 185.9v4.6M442.6 189.6h4.6M444.9 187.3v4.6M450.6 178.2h4.6M452.9 175.9v4.6M444.7 186.7h4.6M447.0 184.4v4.6M455.9 168.1h4.6M458.2 165.8v4.6M462.5 173.9h4.6M464.8 171.6v4.6M445.9 188.2h4.6M448.2 185.9v4.6M442.8 189.6h4.6M445.1 187.3v4.6M441.9 191.0h4.6M444.2 188.7v4.6M441.3 191.0h4.6M443.6 188.7v4.6M447.4 189.6h4.6M449.7 187.3v4.6M441.1 191.0h4.6M443.4 188.7v4.6M446.9 185.3h4.6M449.2 183.0v4.6M445.3 188.2h4.6M447.6 185.9v4.6M441.1 192.4h4.6M443.4 190.1v4.6M446.4 172.4h4.6M448.7 170.1v4.6M442.6 188.2h4.6M444.9 185.9v4.6M442.5 191.0h4.6M444.8 188.7v4.6M446.7 182.4h4.6M449.0 180.1v4.6M447.1 189.6h4.6M449.4 187.3v4.6M464.0 153.9h4.6M466.3 151.6v4.6M443.4 189.6h4.6M445.7 187.3v4.6M444.8 188.2h4.6M447.1 185.9v4.6M445.9 182.4h4.6M448.2 180.1v4.6M443.6 189.6h4.6M445.9 187.3v4.6M441.1 186.7h4.6M443.4 184.4v4.6M445.7 188.2h4.6M448.0 185.9v4.6M443.0 191.0h4.6M445.3 188.7v4.6M447.1 185.3h4.6M449.4 183.0v4.6M441.8 192.4h4.6M444.1 190.1v4.6M460.3 175.3h4.6M462.6 173.0v4.6M445.5 186.7h4.6M447.8 184.4v4.6M441.6 189.6h4.6M443.9 187.3v4.6M441.4 186.7h4.6M443.7 184.4v4.6M443.4 183.9h4.6M445.7 181.6v4.6M441.0 189.6h4.6M443.3 187.3v4.6M440.4 192.4h4.6M442.7 190.1v4.6M442.6 191.0h4.6M444.9 188.7v4.6M442.2 192.4h4.6M444.5 190.1v4.6M453.1 181.0h4.6M455.4 178.7v4.6M440.3 192.4h4.6M442.6 190.1v4.6M442.7 188.2h4.6M445.0 185.9v4.6M443.5 189.6h4.6M445.8 187.3v4.6M445.3 188.2h4.6M447.6 185.9v4.6M446.1 185.3h4.6M448.4 183.0v4.6M441.3 189.6h4.6M443.6 187.3v4.6M444.5 188.2h4.6M446.8 185.9v4.6M461.7 165.3h4.6M464.0 163.0v4.6M443.0 186.7h4.6M445.3 184.4v4.6M466.0 176.7h4.6M468.3 174.4v4.6M450.9 185.3h4.6M453.2 183.0v4.6M465.1 181.0h4.6M467.4 178.7v4.6M441.2 191.0h4.6M443.5 188.7v4.6M447.4 186.7h4.6M449.7 184.4v4.6M445.6 183.9h4.6M447.9 181.6v4.6M442.5 192.4h4.6M444.8 190.1v4.6M441.4 192.4h4.6M443.7 190.1v4.6M454.2 171.0h4.6M456.5 168.7v4.6M443.7 189.6h4.6M446.0 187.3v4.6M443.1 189.6h4.6M445.4 187.3v4.6M441.1 183.9h4.6M443.4 181.6v4.6M448.1 183.9h4.6M450.4 181.6v4.6M448.9 182.4h4.6M451.2 180.1v4.6M440.9 192.4h4.6M443.2 190.1v4.6M450.6 181.0h4.6M452.9 178.7v4.6M453.7 189.6h4.6M456.0 187.3v4.6M441.8 191.0h4.6M444.1 188.7v4.6M442.9 192.4h4.6M445.2 190.1v4.6M441.6 188.2h4.6M443.9 185.9v4.6M457.2 183.9h4.6M459.5 181.6v4.6M444.0 188.2h4.6M446.3 185.9v4.6M440.9 192.4h4.6M443.2 190.1v4.6M441.7 182.4h4.6M444.0 180.1v4.6M450.5 186.7h4.6M452.8 184.4v4.6M445.8 192.4h4.6M448.1 190.1v4.6M450.8 179.6h4.6M453.1 177.3v4.6M457.2 181.0h4.6M459.5 178.7v4.6M441.4 192.4h4.6M443.7 190.1v4.6M441.5 192.4h4.6M443.8 190.1v4.6M442.2 192.4h4.6M444.5 190.1v4.6M443.6 189.6h4.6M445.9 187.3v4.6M443.9 185.3h4.6M446.2 183.0v4.6M443.4 191.0h4.6M445.7 188.7v4.6M441.2 189.6h4.6M443.5 187.3v4.6M449.6 178.2h4.6M451.9 175.9v4.6M444.2 192.4h4.6M446.5 190.1v4.6M449.0 188.2h4.6M451.3 185.9v4.6M460.5 178.2h4.6M462.8 175.9v4.6M463.3 183.9h4.6M465.6 181.6v4.6M444.2 186.7h4.6M446.5 184.4v4.6M441.7 191.0h4.6M444.0 188.7v4.6M447.5 178.2h4.6M449.8 175.9v4.6M458.7 178.2h4.6M461.0 175.9v4.6M442.5 191.0h4.6M444.8 188.7v4.6M448.5 185.3h4.6M450.8 183.0v4.6M452.2 191.0h4.6M454.5 188.7v4.6M442.5 192.4h4.6M444.8 190.1v4.6M440.2 185.3h4.6M442.5 183.0v4.6M451.7 179.6h4.6M454.0 177.3v4.6M452.2 185.3h4.6M454.5 183.0v4.6M441.0 189.6h4.6M443.3 187.3v4.6M441.6 192.4h4.6M443.9 190.1v4.6M442.5 191.0h4.6M444.8 188.7v4.6M445.2 191.0h4.6M447.5 188.7v4.6M443.2 182.4h4.6M445.5 180.1v4.6M444.3 186.7h4.6M446.6 184.4v4.6M445.2 186.7h4.6M447.5 184.4v4.6M443.2 192.4h4.6M445.5 190.1v4.6M448.1 182.4h4.6M450.4 180.1v4.6M442.2 191.0h4.6M444.5 188.7v4.6M457.3 185.3h4.6M459.6 183.0v4.6M472.7 169.6h4.6M475.0 167.3v4.6M440.5 188.2h4.6M442.8 185.9v4.6M441.6 182.4h4.6M443.9 180.1v4.6M441.0 192.4h4.6M443.3 190.1v4.6M440.8 192.4h4.6M443.1 190.1v4.6M447.0 186.7h4.6M449.3 184.4v4.6M452.7 185.3h4.6M455.0 183.0v4.6M443.8 181.0h4.6M446.1 178.7v4.6M447.2 188.2h4.6M449.5 185.9v4.6M443.6 183.9h4.6M445.9 181.6v4.6M442.6 192.4h4.6M444.9 190.1v4.6M441.2 192.4h4.6M443.5 190.1v4.6M446.3 189.6h4.6M448.6 187.3v4.6M441.7 186.7h4.6M444.0 184.4v4.6M446.9 181.0h4.6M449.2 178.7v4.6M450.4 171.0h4.6M452.7 168.7v4.6M443.2 183.9h4.6M445.5 181.6v4.6M444.8 188.2h4.6M447.1 185.9v4.6M463.4 169.6h4.6M465.7 167.3v4.6M442.4 192.4h4.6M444.7 190.1v4.6M446.5 191.0h4.6M448.8 188.7v4.6M443.1 189.6h4.6M445.4 187.3v4.6M442.4 191.0h4.6M444.7 188.7v4.6M446.7 189.6h4.6M449.0 187.3v4.6M446.6 189.6h4.6M448.9 187.3v4.6M442.7 191.0h4.6M445.0 188.7v4.6M443.9 192.4h4.6M446.2 190.1v4.6M446.9 186.7h4.6M449.2 184.4v4.6M445.9 189.6h4.6M448.2 187.3v4.6M441.3 191.0h4.6M443.6 188.7v4.6M441.7 192.4h4.6M444.0 190.1v4.6M442.2 189.6h4.6M444.5 187.3v4.6M442.7 186.7h4.6M445.0 184.4v4.6M448.8 186.7h4.6M451.1 184.4v4.6M441.3 191.0h4.6M443.6 188.7v4.6M446.6 186.7h4.6M448.9 184.4v4.6M448.4 183.9h4.6M450.7 181.6v4.6M442.7 178.2h4.6M445.0 175.9v4.6M441.1 192.4h4.6M443.4 190.1v4.6M443.6 192.4h4.6M445.9 190.1v4.6M446.8 189.6h4.6M449.1 187.3v4.6M447.4 189.6h4.6M449.7 187.3v4.6M441.1 191.0h4.6M443.4 188.7v4.6M446.9 188.2h4.6M449.2 185.9v4.6M443.6 188.2h4.6M445.9 185.9v4.6M444.5 176.7h4.6M446.8 174.4v4.6M445.2 188.2h4.6M447.5 185.9v4.6M441.3 192.4h4.6M443.6 190.1v4.6M444.0 189.6h4.6M446.3 187.3v4.6M441.2 192.4h4.6M443.5 190.1v4.6M452.8 178.2h4.6M455.1 175.9v4.6M452.6 189.6h4.6M454.9 187.3v4.6M443.6 185.3h4.6M445.9 183.0v4.6M442.3 191.0h4.6M444.6 188.7v4.6M443.5 192.4h4.6M445.8 190.1v4.6M448.8 183.9h4.6M451.1 181.6v4.6M441.8 192.4h4.6M444.1 190.1v4.6M443.9 188.2h4.6M446.2 185.9v4.6M443.9 189.6h4.6M446.2 187.3v4.6M440.9 186.7h4.6M443.2 184.4v4.6M443.6 186.7h4.6M445.9 184.4v4.6M451.7 182.4h4.6M454.0 180.1v4.6M461.0 178.2h4.6M463.3 175.9v4.6M441.4 189.6h4.6M443.7 187.3v4.6M441.6 192.4h4.6M443.9 190.1v4.6M443.6 191.0h4.6M445.9 188.7v4.6M450.6 188.2h4.6M452.9 185.9v4.6M449.5 185.3h4.6M451.8 183.0v4.6M441.7 192.4h4.6M444.0 190.1v4.6M456.3 172.4h4.6M458.6 170.1v4.6M441.0 192.4h4.6M443.3 190.1v4.6M442.0 191.0h4.6M444.3 188.7v4.6M441.4 182.4h4.6M443.7 180.1v4.6M448.8 186.7h4.6M451.1 184.4v4.6M443.0 189.6h4.6M445.3 187.3v4.6M450.1 183.9h4.6M452.4 181.6v4.6M442.3 189.6h4.6M444.6 187.3v4.6M442.6 191.0h4.6M444.9 188.7v4.6M456.4 161.0h4.6M458.7 158.7v4.6M440.9 185.3h4.6M443.2 183.0v4.6M450.7 191.0h4.6M453.0 188.7v4.6M440.6 192.4h4.6M442.9 190.1v4.6M440.7 192.4h4.6M443.0 190.1v4.6M446.8 186.7h4.6M449.1 184.4v4.6M448.5 188.2h4.6M450.8 185.9v4.6M444.6 182.4h4.6M446.9 180.1v4.6M447.2 185.3h4.6M449.5 183.0v4.6M445.8 188.2h4.6M448.1 185.9v4.6M440.3 191.0h4.6M442.6 188.7v4.6M442.9 191.0h4.6M445.2 188.7v4.6M470.0 168.1h4.6M472.3 165.8v4.6M445.9 186.7h4.6M448.2 184.4v4.6M441.2 192.4h4.6M443.5 190.1v4.6M445.2 191.0h4.6M447.5 188.7v4.6M445.0 191.0h4.6M447.3 188.7v4.6M453.4 173.9h4.6M455.7 171.6v4.6M456.8 166.7h4.6M459.1 164.4v4.6M443.1 189.6h4.6M445.4 187.3v4.6M442.2 191.0h4.6M444.5 188.7v4.6M446.6 186.7h4.6M448.9 184.4v4.6M441.0 179.6h4.6M443.3 177.3v4.6M444.7 183.9h4.6M447.0 181.6v4.6M443.2 189.6h4.6M445.5 187.3v4.6M450.9 183.9h4.6M453.2 181.6v4.6M444.9 191.0h4.6M447.2 188.7v4.6M454.5 182.4h4.6M456.8 180.1v4.6M448.3 188.2h4.6M450.6 185.9v4.6M449.0 186.7h4.6M451.3 184.4v4.6M441.4 186.7h4.6M443.7 184.4v4.6M452.5 186.7h4.6M454.8 184.4v4.6M442.6 186.7h4.6M444.9 184.4v4.6M453.6 185.3h4.6M455.9 183.0v4.6M440.4 186.7h4.6M442.7 184.4v4.6M459.4 178.2h4.6M461.7 175.9v4.6M448.7 186.7h4.6M451.0 184.4v4.6M444.3 189.6h4.6M446.6 187.3v4.6M446.7 185.3h4.6M449.0 183.0v4.6M445.9 182.4h4.6M448.2 180.1v4.6M446.7 182.4h4.6M449.0 180.1v4.6M441.4 192.4h4.6M443.7 190.1v4.6M441.7 189.6h4.6M444.0 187.3v4.6M441.6 189.6h4.6M443.9 187.3v4.6M440.6 191.0h4.6M442.9 188.7v4.6M442.7 191.0h4.6M445.0 188.7v4.6M446.8 183.9h4.6M449.1 181.6v4.6M441.6 191.0h4.6M443.9 188.7v4.6M458.8 165.3h4.6M461.1 163.0v4.6M447.5 191.0h4.6M449.8 188.7v4.6M450.5 169.6h4.6M452.8 167.3v4.6M440.5 191.0h4.6M442.8 188.7v4.6M450.5 183.9h4.6M452.8 181.6v4.6M455.8 173.9h4.6M458.1 171.6v4.6M442.1 191.0h4.6M444.4 188.7v4.6M441.5 189.6h4.6M443.8 187.3v4.6M452.4 189.6h4.6M454.7 187.3v4.6M450.6 183.9h4.6M452.9 181.6v4.6M445.7 192.4h4.6M448.0 190.1v4.6M446.2 191.0h4.6M448.5 188.7v4.6M444.3 192.4h4.6M446.6 190.1v4.6M445.2 185.3h4.6M447.5 183.0v4.6M444.6 191.0h4.6M446.9 188.7v4.6M442.3 191.0h4.6M444.6 188.7v4.6M445.7 188.2h4.6M448.0 185.9v4.6M444.5 189.6h4.6M446.8 187.3v4.6M441.5 189.6h4.6M443.8 187.3v4.6M440.9 192.4h4.6M443.2 190.1v4.6M442.8 186.7h4.6M445.1 184.4v4.6M448.2 183.9h4.6M450.5 181.6v4.6M453.9 181.0h4.6M456.2 178.7v4.6M441.5 189.6h4.6M443.8 187.3v4.6M442.0 192.4h4.6M444.3 190.1v4.6M442.6 191.0h4.6M444.9 188.7v4.6M467.2 171.0h4.6M469.5 168.7v4.6M446.9 185.3h4.6M449.2 183.0v4.6M448.7 186.7h4.6M451.0 184.4v4.6M441.5 185.3h4.6M443.8 183.0v4.6M441.2 189.6h4.6M443.5 187.3v4.6M440.3 191.0h4.6M442.6 188.7v4.6M443.6 189.6h4.6M445.9 187.3v4.6M445.7 189.6h4.6M448.0 187.3v4.6M450.6 183.9h4.6M452.9 181.6v4.6M446.8 191.0h4.6M449.1 188.7v4.6M441.7 188.2h4.6M444.0 185.9v4.6M451.0 181.0h4.6M453.3 178.7v4.6M443.7 191.0h4.6M446.0 188.7v4.6M445.3 191.0h4.6M447.6 188.7v4.6M459.6 183.9h4.6M461.9 181.6v4.6M441.6 185.3h4.6M443.9 183.0v4.6M442.5 186.7h4.6M444.8 184.4v4.6M447.1 186.7h4.6M449.4 184.4v4.6M440.9 189.6h4.6M443.2 187.3v4.6M447.9 188.2h4.6M450.2 185.9v4.6M445.4 182.4h4.6M447.7 180.1v4.6M442.6 186.7h4.6M444.9 184.4v4.6M442.0 191.0h4.6M444.3 188.7v4.6M447.3 189.6h4.6M449.6 187.3v4.6M441.2 192.4h4.6M443.5 190.1v4.6M453.8 183.9h4.6M456.1 181.6v4.6M443.4 188.2h4.6M445.7 185.9v4.6M446.2 185.3h4.6M448.5 183.0v4.6M447.0 186.7h4.6M449.3 184.4v4.6M442.1 186.7h4.6M444.4 184.4v4.6M441.3 191.0h4.6M443.6 188.7v4.6M446.9 189.6h4.6M449.2 187.3v4.6M442.8 189.6h4.6M445.1 187.3v4.6M452.9 183.9h4.6M455.2 181.6v4.6M443.6 183.9h4.6M445.9 181.6v4.6M457.5 178.2h4.6M459.8 175.9v4.6M445.3 186.7h4.6M447.6 184.4v4.6M441.4 189.6h4.6M443.7 187.3v4.6M445.4 179.6h4.6M447.7 177.3v4.6M452.9 176.7h4.6M455.2 174.4v4.6M449.8 182.4h4.6M452.1 180.1v4.6M445.1 188.2h4.6M447.4 185.9v4.6M444.6 191.0h4.6M446.9 188.7v4.6M448.0 185.3h4.6M450.3 183.0v4.6M441.2 191.0h4.6M443.5 188.7v4.6M443.0 188.2h4.6M445.3 185.9v4.6M440.7 191.0h4.6M443.0 188.7v4.6M450.9 188.2h4.6M453.2 185.9v4.6M441.7 186.7h4.6M444.0 184.4v4.6M443.1 191.0h4.6M445.4 188.7v4.6M445.2 185.3h4.6M447.5 183.0v4.6M445.3 188.2h4.6M447.6 185.9v4.6M442.8 191.0h4.6M445.1 188.7v4.6M447.6 175.3h4.6M449.9 173.0v4.6M440.7 192.4h4.6M443.0 190.1v4.6M441.0 191.0h4.6M443.3 188.7v4.6M446.1 186.7h4.6M448.4 184.4v4.6M442.9 186.7h4.6M445.2 184.4v4.6M464.4 181.0h4.6M466.7 178.7v4.6M445.9 189.6h4.6M448.2 187.3v4.6M443.1 188.2h4.6M445.4 185.9v4.6M445.3 189.6h4.6M447.6 187.3v4.6M449.8 188.2h4.6M452.1 185.9v4.6M460.0 181.0h4.6M462.3 178.7v4.6M458.1 169.6h4.6M460.4 167.3v4.6M443.2 191.0h4.6M445.5 188.7v4.6M449.7 178.2h4.6M452.0 175.9v4.6M442.6 189.6h4.6M444.9 187.3v4.6M462.3 179.6h4.6M464.6 177.3v4.6M445.2 188.2h4.6M447.5 185.9v4.6M442.6 189.6h4.6M444.9 187.3v4.6M441.0 192.4h4.6M443.3 190.1v4.6M442.3 192.4h4.6M444.6 190.1v4.6M443.1 192.4h4.6M445.4 190.1v4.6M441.1 189.6h4.6M443.4 187.3v4.6M441.9 191.0h4.6M444.2 188.7v4.6M442.1 188.2h4.6M444.4 185.9v4.6M444.4 185.3h4.6M446.7 183.0v4.6M441.2 192.4h4.6M443.5 190.1v4.6M442.2 189.6h4.6M444.5 187.3v4.6M442.0 188.2h4.6M444.3 185.9v4.6M441.9 192.4h4.6M444.2 190.1v4.6M442.9 191.0h4.6M445.2 188.7v4.6M449.5 183.9h4.6M451.8 181.6v4.6M448.8 183.9h4.6M451.1 181.6v4.6M475.6 169.6h4.6M477.9 167.3v4.6M453.5 175.3h4.6M455.8 173.0v4.6M443.7 189.6h4.6M446.0 187.3v4.6M441.3 189.6h4.6M443.6 187.3v4.6M442.4 189.6h4.6M444.7 187.3v4.6M458.8 176.7h4.6M461.1 174.4v4.6M441.2 192.4h4.6M443.5 190.1v4.6M442.3 186.7h4.6M444.6 184.4v4.6M442.2 189.6h4.6M444.5 187.3v4.6M442.8 188.2h4.6M445.1 185.9v4.6M442.8 188.2h4.6M445.1 185.9v4.6M441.3 188.2h4.6M443.6 185.9v4.6M441.2 192.4h4.6M443.5 190.1v4.6M448.7 188.2h4.6M451.0 185.9v4.6M441.3 192.4h4.6M443.6 190.1v4.6M443.3 191.0h4.6M445.6 188.7v4.6M442.9 186.7h4.6M445.2 184.4v4.6M444.5 181.0h4.6M446.8 178.7v4.6M444.9 186.7h4.6M447.2 184.4v4.6M441.1 192.4h4.6M443.4 190.1v4.6M445.8 185.3h4.6M448.1 183.0v4.6M451.5 185.3h4.6M453.8 183.0v4.6M444.8 181.0h4.6M447.1 178.7v4.6M446.2 189.6h4.6M448.5 187.3v4.6M475.4 173.9h4.6M477.7 171.6v4.6M442.6 189.6h4.6M444.9 187.3v4.6M442.6 189.6h4.6M444.9 187.3v4.6M444.8 191.0h4.6M447.1 188.7v4.6M445.4 188.2h4.6M447.7 185.9v4.6M441.3 188.2h4.6M443.6 185.9v4.6M458.0 176.7h4.6M460.3 174.4v4.6M446.7 189.6h4.6M449.0 187.3v4.6M447.2 185.3h4.6M449.5 183.0v4.6M442.8 191.0h4.6M445.1 188.7v4.6M442.1 191.0h4.6M444.4 188.7v4.6M441.4 189.6h4.6M443.7 187.3v4.6M443.6 192.4h4.6M445.9 190.1v4.6M441.2 192.4h4.6M443.5 190.1v4.6M441.1 191.0h4.6M443.4 188.7v4.6M445.3 188.2h4.6M447.6 185.9v4.6M442.3 191.0h4.6M444.6 188.7v4.6M443.7 189.6h4.6M446.0 187.3v4.6M441.5 186.7h4.6M443.8 184.4v4.6M449.1 181.0h4.6M451.4 178.7v4.6M452.8 181.0h4.6M455.1 178.7v4.6M447.5 188.2h4.6M449.8 185.9v4.6M452.4 181.0h4.6M454.7 178.7v4.6M441.5 191.0h4.6M443.8 188.7v4.6M440.9 192.4h4.6M443.2 190.1v4.6M453.2 178.2h4.6M455.5 175.9v4.6M442.5 188.2h4.6M444.8 185.9v4.6M443.9 189.6h4.6M446.2 187.3v4.6M444.2 189.6h4.6M446.5 187.3v4.6M457.5 173.9h4.6M459.8 171.6v4.6M441.9 191.0h4.6M444.2 188.7v4.6M443.2 192.4h4.6M445.5 190.1v4.6M441.4 191.0h4.6M443.7 188.7v4.6M447.4 188.2h4.6M449.7 185.9v4.6M447.7 189.6h4.6M450.0 187.3v4.6M441.9 188.2h4.6M444.2 185.9v4.6M449.5 188.2h4.6M451.8 185.9v4.6M445.7 185.3h4.6M448.0 183.0v4.6M446.3 188.2h4.6M448.6 185.9v4.6M444.7 183.9h4.6M447.0 181.6v4.6M445.4 179.6h4.6M447.7 177.3v4.6M450.4 176.7h4.6M452.7 174.4v4.6M443.6 189.6h4.6M445.9 187.3v4.6M440.6 191.0h4.6M442.9 188.7v4.6M447.2 185.3h4.6M449.5 183.0v4.6M442.3 188.2h4.6M444.6 185.9v4.6M458.5 181.0h4.6M460.8 178.7v4.6M442.4 188.2h4.6M444.7 185.9v4.6M444.0 185.3h4.6M446.3 183.0v4.6M441.8 189.6h4.6M444.1 187.3v4.6M452.9 182.4h4.6M455.2 180.1v4.6M441.6 192.4h4.6M443.9 190.1v4.6M441.7 189.6h4.6M444.0 187.3v4.6M443.3 186.7h4.6M445.6 184.4v4.6M464.2 173.9h4.6M466.5 171.6v4.6M447.0 185.3h4.6M449.3 183.0v4.6M441.9 191.0h4.6M444.2 188.7v4.6M461.3 178.2h4.6M463.6 175.9v4.6M454.6 182.4h4.6M456.9 180.1v4.6M442.7 191.0h4.6M445.0 188.7v4.6M440.8 189.6h4.6M443.1 187.3v4.6M445.1 188.2h4.6M447.4 185.9v4.6M451.1 178.2h4.6M453.4 175.9v4.6M452.8 192.4h4.6M455.1 190.1v4.6M441.1 191.0h4.6M443.4 188.7v4.6M442.8 191.0h4.6M445.1 188.7v4.6M441.0 185.3h4.6M443.3 183.0v4.6M451.3 176.7h4.6M453.6 174.4v4.6M444.2 173.9h4.6M446.5 171.6v4.6M444.3 179.6h4.6M446.6 177.3v4.6M444.6 188.2h4.6M446.9 185.9v4.6M456.4 175.3h4.6M458.7 173.0v4.6M446.3 189.6h4.6M448.6 187.3v4.6M441.4 192.4h4.6M443.7 190.1v4.6M443.2 179.6h4.6M445.5 177.3v4.6M443.8 188.2h4.6M446.1 185.9v4.6M471.3 176.7h4.6M473.6 174.4v4.6M443.1 191.0h4.6M445.4 188.7v4.6M446.0 188.2h4.6M448.3 185.9v4.6M445.1 186.7h4.6M447.4 184.4v4.6M449.2 188.2h4.6M451.5 185.9v4.6M456.6 176.7h4.6M458.9 174.4v4.6M446.1 188.2h4.6M448.4 185.9v4.6M465.4 172.4h4.6M467.7 170.1v4.6M440.7 189.6h4.6M443.0 187.3v4.6M441.2 191.0h4.6M443.5 188.7v4.6M444.0 186.7h4.6M446.3 184.4v4.6M450.8 181.0h4.6M453.1 178.7v4.6M443.5 191.0h4.6M445.8 188.7v4.6M442.9 191.0h4.6M445.2 188.7v4.6M444.1 189.6h4.6M446.4 187.3v4.6M443.9 192.4h4.6M446.2 190.1v4.6M443.7 192.4h4.6M446.0 190.1v4.6M455.4 173.9h4.6M457.7 171.6v4.6M446.7 188.2h4.6M449.0 185.9v4.6M440.9 191.0h4.6M443.2 188.7v4.6M442.8 191.0h4.6M445.1 188.7v4.6M442.6 188.2h4.6M444.9 185.9v4.6M452.6 186.7h4.6M454.9 184.4v4.6M441.7 192.4h4.6M444.0 190.1v4.6M446.5 189.6h4.6M448.8 187.3v4.6M455.3 175.3h4.6M457.6 173.0v4.6M441.3 192.4h4.6M443.6 190.1v4.6M443.8 191.0h4.6M446.1 188.7v4.6M450.3 188.2h4.6M452.6 185.9v4.6M441.3 182.4h4.6M443.6 180.1v4.6M444.7 188.2h4.6M447.0 185.9v4.6M440.9 189.6h4.6M443.2 187.3v4.6M446.4 188.2h4.6M448.7 185.9v4.6M441.7 191.0h4.6M444.0 188.7v4.6M445.4 185.3h4.6M447.7 183.0v4.6M444.0 188.2h4.6M446.3 185.9v4.6M441.8 179.6h4.6M444.1 177.3v4.6M443.3 183.9h4.6M445.6 181.6v4.6M457.5 185.3h4.6M459.8 183.0v4.6M441.3 191.0h4.6M443.6 188.7v4.6M449.9 182.4h4.6M452.2 180.1v4.6M441.3 191.0h4.6M443.6 188.7v4.6M447.9 186.7h4.6M450.2 184.4v4.6M441.5 192.4h4.6M443.8 190.1v4.6M446.4 189.6h4.6M448.7 187.3v4.6M444.8 189.6h4.6M447.1 187.3v4.6M446.4 185.3h4.6M448.7 183.0v4.6M445.3 191.0h4.6M447.6 188.7v4.6M440.5 188.2h4.6M442.8 185.9v4.6M441.1 188.2h4.6M443.4 185.9v4.6M448.7 183.9h4.6M451.0 181.6v4.6M441.0 182.4h4.6M443.3 180.1v4.6M447.7 189.6h4.6M450.0 187.3v4.6M440.5 191.0h4.6M442.8 188.7v4.6M443.6 191.0h4.6M445.9 188.7v4.6M459.8 178.2h4.6M462.1 175.9v4.6M448.0 189.6h4.6M450.3 187.3v4.6M465.4 175.3h4.6M467.7 173.0v4.6M444.5 188.2h4.6M446.8 185.9v4.6M453.8 179.6h4.6M456.1 177.3v4.6M472.5 172.4h4.6M474.8 170.1v4.6M455.2 172.4h4.6M457.5 170.1v4.6M443.8 191.0h4.6M446.1 188.7v4.6M454.8 172.4h4.6M457.1 170.1v4.6M465.7 185.3h4.6M468.0 183.0v4.6M448.9 185.3h4.6M451.2 183.0v4.6M461.9 182.4h4.6M464.2 180.1v4.6M444.5 192.4h4.6M446.8 190.1v4.6M454.7 185.3h4.6M457.0 183.0v4.6M441.4 191.0h4.6M443.7 188.7v4.6M446.5 188.2h4.6M448.8 185.9v4.6M449.5 186.7h4.6M451.8 184.4v4.6M452.2 183.9h4.6M454.5 181.6v4.6M453.7 183.9h4.6M456.0 181.6v4.6M442.6 189.6h4.6M444.9 187.3v4.6M446.7 185.3h4.6M449.0 183.0v4.6M442.9 189.6h4.6M445.2 187.3v4.6M441.2 191.0h4.6M443.5 188.7v4.6M448.0 181.0h4.6M450.3 178.7v4.6M448.9 182.4h4.6M451.2 180.1v4.6M443.1 192.4h4.6M445.4 190.1v4.6M450.0 175.3h4.6M452.3 173.0v4.6M446.5 181.0h4.6M448.8 178.7v4.6M442.7 189.6h4.6M445.0 187.3v4.6M441.4 186.7h4.6M443.7 184.4v4.6M446.0 189.6h4.6M448.3 187.3v4.6M441.2 191.0h4.6M443.5 188.7v4.6M442.3 192.4h4.6M444.6 190.1v4.6M443.9 192.4h4.6M446.2 190.1v4.6M444.9 189.6h4.6M447.2 187.3v4.6M441.6 192.4h4.6M443.9 190.1v4.6M443.7 191.0h4.6M446.0 188.7v4.6M444.5 191.0h4.6M446.8 188.7v4.6M445.9 188.2h4.6M448.2 185.9v4.6M442.5 191.0h4.6M444.8 188.7v4.6M446.6 188.2h4.6M448.9 185.9v4.6M441.6 191.0h4.6M443.9 188.7v4.6M442.2 186.7h4.6M444.5 184.4v4.6M440.4 192.4h4.6M442.7 190.1v4.6M452.6 182.4h4.6M454.9 180.1v4.6M445.7 191.0h4.6M448.0 188.7v4.6M440.4 192.4h4.6M442.7 190.1v4.6M453.6 181.0h4.6M455.9 178.7v4.6M444.9 191.0h4.6M447.2 188.7v4.6M445.2 181.0h4.6M447.5 178.7v4.6M444.3 189.6h4.6M446.6 187.3v4.6M445.6 191.0h4.6M447.9 188.7v4.6M442.7 189.6h4.6M445.0 187.3v4.6M442.8 191.0h4.6M445.1 188.7v4.6M444.6 188.2h4.6M446.9 185.9v4.6M450.9 182.4h4.6M453.2 180.1v4.6M454.3 183.9h4.6M456.6 181.6v4.6M444.0 178.2h4.6M446.3 175.9v4.6M442.0 191.0h4.6M444.3 188.7v4.6M442.2 192.4h4.6M444.5 190.1v4.6M440.4 192.4h4.6M442.7 190.1v4.6M447.5 188.2h4.6M449.8 185.9v4.6M447.8 185.3h4.6M450.1 183.0v4.6M469.6 172.4h4.6M471.9 170.1v4.6M451.4 188.2h4.6M453.7 185.9v4.6M455.4 182.4h4.6M457.7 180.1v4.6M441.2 192.4h4.6M443.5 190.1v4.6M447.6 188.2h4.6M449.9 185.9v4.6M442.3 191.0h4.6M444.6 188.7v4.6M442.5 189.6h4.6M444.8 187.3v4.6M441.5 189.6h4.6M443.8 187.3v4.6M442.5 186.7h4.6M444.8 184.4v4.6M441.0 192.4h4.6M443.3 190.1v4.6M448.1 185.3h4.6M450.4 183.0v4.6M448.1 186.7h4.6M450.4 184.4v4.6M449.1 188.2h4.6M451.4 185.9v4.6M442.1 189.6h4.6M444.4 187.3v4.6M443.0 186.7h4.6M445.3 184.4v4.6M451.5 188.2h4.6M453.8 185.9v4.6M447.7 186.7h4.6M450.0 184.4v4.6M445.9 186.7h4.6M448.2 184.4v4.6M452.2 188.2h4.6M454.5 185.9v4.6M445.3 183.9h4.6M447.6 181.6v4.6M441.6 189.6h4.6M443.9 187.3v4.6M440.4 182.4h4.6M442.7 180.1v4.6M446.1 189.6h4.6M448.4 187.3v4.6M442.8 186.7h4.6M445.1 184.4v4.6M452.9 185.3h4.6M455.2 183.0v4.6M440.7 185.3h4.6M443.0 183.0v4.6M450.0 183.9h4.6M452.3 181.6v4.6M446.3 188.2h4.6M448.6 185.9v4.6M442.6 188.2h4.6M444.9 185.9v4.6M445.7 191.0h4.6M448.0 188.7v4.6M441.6 191.0h4.6M443.9 188.7v4.6M473.9 176.7h4.6M476.2 174.4v4.6M449.6 182.4h4.6M451.9 180.1v4.6M442.2 189.6h4.6M444.5 187.3v4.6M459.1 168.1h4.6M461.4 165.8v4.6M448.7 176.7h4.6M451.0 174.4v4.6M445.4 191.0h4.6M447.7 188.7v4.6M442.7 191.0h4.6M445.0 188.7v4.6M446.5 191.0h4.6M448.8 188.7v4.6M443.1 189.6h4.6M445.4 187.3v4.6M480.4 161.0h4.6M482.7 158.7v4.6M448.6 183.9h4.6M450.9 181.6v4.6M463.9 176.7h4.6M466.2 174.4v4.6M440.2 191.0h4.6M442.5 188.7v4.6M443.6 192.4h4.6M445.9 190.1v4.6M445.1 185.3h4.6M447.4 183.0v4.6M453.7 181.0h4.6M456.0 178.7v4.6M449.7 185.3h4.6M452.0 183.0v4.6M447.0 181.0h4.6M449.3 178.7v4.6M444.3 191.0h4.6M446.6 188.7v4.6M441.7 192.4h4.6M444.0 190.1v4.6M440.9 191.0h4.6M443.2 188.7v4.6M449.5 185.3h4.6M451.8 183.0v4.6M450.5 183.9h4.6M452.8 181.6v4.6M444.1 191.0h4.6M446.4 188.7v4.6M443.6 176.7h4.6M445.9 174.4v4.6M444.6 188.2h4.6M446.9 185.9v4.6M441.8 185.3h4.6M444.1 183.0v4.6M445.1 188.2h4.6M447.4 185.9v4.6M463.0 178.2h4.6M465.3 175.9v4.6M445.2 185.3h4.6M447.5 183.0v4.6M443.3 192.4h4.6M445.6 190.1v4.6M444.4 179.6h4.6M446.7 177.3v4.6M442.8 183.9h4.6M445.1 181.6v4.6M442.8 188.2h4.6M445.1 185.9v4.6M448.5 186.7h4.6M450.8 184.4v4.6M443.7 188.2h4.6M446.0 185.9v4.6M451.4 191.0h4.6M453.7 188.7v4.6M468.1 173.9h4.6M470.4 171.6v4.6M448.3 183.9h4.6M450.6 181.6v4.6M443.8 179.6h4.6M446.1 177.3v4.6M443.6 185.3h4.6M445.9 183.0v4.6M445.6 192.4h4.6M447.9 190.1v4.6M442.3 191.0h4.6M444.6 188.7v4.6M444.0 191.0h4.6M446.3 188.7v4.6M445.0 183.9h4.6M447.3 181.6v4.6M446.5 192.4h4.6M448.8 190.1v4.6M444.0 181.0h4.6M446.3 178.7v4.6M444.7 189.6h4.6M447.0 187.3v4.6M444.4 186.7h4.6M446.7 184.4v4.6M441.0 192.4h4.6M443.3 190.1v4.6M443.5 186.7h4.6M445.8 184.4v4.6M469.1 168.1h4.6M471.4 165.8v4.6M442.1 191.0h4.6M444.4 188.7v4.6M445.5 182.4h4.6M447.8 180.1v4.6M447.7 186.7h4.6M450.0 184.4v4.6M445.5 189.6h4.6M447.8 187.3v4.6M444.8 189.6h4.6M447.1 187.3v4.6M444.5 191.0h4.6M446.8 188.7v4.6M457.9 181.0h4.6M460.2 178.7v4.6M443.9 189.6h4.6M446.2 187.3v4.6M444.3 191.0h4.6M446.6 188.7v4.6M443.3 189.6h4.6M445.6 187.3v4.6M445.3 186.7h4.6M447.6 184.4v4.6M442.8 189.6h4.6M445.1 187.3v4.6M448.3 189.6h4.6M450.6 187.3v4.6M452.5 183.9h4.6M454.8 181.6v4.6M449.9 186.7h4.6M452.2 184.4v4.6M468.8 162.4h4.6M471.1 160.1v4.6M456.7 185.3h4.6M459.0 183.0v4.6M446.2 191.0h4.6M448.5 188.7v4.6M441.0 186.7h4.6M443.3 184.4v4.6M443.3 188.2h4.6M445.6 185.9v4.6M441.6 186.7h4.6M443.9 184.4v4.6M447.7 191.0h4.6M450.0 188.7v4.6M447.2 179.6h4.6M449.5 177.3v4.6M443.9 192.4h4.6M446.2 190.1v4.6M445.1 192.4h4.6M447.4 190.1v4.6M441.1 186.7h4.6M443.4 184.4v4.6M443.3 191.0h4.6M445.6 188.7v4.6M443.5 189.6h4.6M445.8 187.3v4.6M467.6 181.0h4.6M469.9 178.7v4.6M445.7 188.2h4.6M448.0 185.9v4.6M440.9 191.0h4.6M443.2 188.7v4.6M448.6 186.7h4.6M450.9 184.4v4.6M450.3 189.6h4.6M452.6 187.3v4.6M443.9 191.0h4.6M446.2 188.7v4.6M447.2 186.7h4.6M449.5 184.4v4.6M440.9 189.6h4.6M443.2 187.3v4.6M450.0 191.0h4.6M452.3 188.7v4.6M441.4 189.6h4.6M443.7 187.3v4.6M449.9 185.3h4.6M452.2 183.0v4.6M440.9 192.4h4.6M443.2 190.1v4.6M442.5 189.6h4.6M444.8 187.3v4.6M446.3 192.4h4.6M448.6 190.1v4.6M459.3 181.0h4.6M461.6 178.7v4.6M445.0 191.0h4.6M447.3 188.7v4.6M445.3 192.4h4.6M447.6 190.1v4.6M449.0 188.2h4.6M451.3 185.9v4.6M440.6 188.2h4.6M442.9 185.9v4.6M442.2 188.2h4.6M444.5 185.9v4.6M448.1 183.9h4.6M450.4 181.6v4.6M441.7 192.4h4.6M444.0 190.1v4.6M443.9 188.2h4.6M446.2 185.9v4.6M442.5 189.6h4.6M444.8 187.3v4.6M441.9 192.4h4.6M444.2 190.1v4.6M440.4 192.4h4.6M442.7 190.1v4.6M442.8 191.0h4.6M445.1 188.7v4.6M445.8 188.2h4.6M448.1 185.9v4.6M445.1 186.7h4.6M447.4 184.4v4.6M447.3 176.7h4.6M449.6 174.4v4.6M443.5 192.4h4.6M445.8 190.1v4.6M446.1 186.7h4.6M448.4 184.4v4.6M442.8 189.6h4.6M445.1 187.3v4.6M450.4 178.2h4.6M452.7 175.9v4.6M445.8 183.9h4.6M448.1 181.6v4.6M466.0 165.3h4.6M468.3 163.0v4.6M445.6 189.6h4.6M447.9 187.3v4.6M447.6 183.9h4.6M449.9 181.6v4.6M442.5 192.4h4.6M444.8 190.1v4.6M441.6 186.7h4.6M443.9 184.4v4.6M440.6 189.6h4.6M442.9 187.3v4.6M441.9 191.0h4.6M444.2 188.7v4.6M443.8 171.0h4.6M446.1 168.7v4.6M455.3 179.6h4.6M457.6 177.3v4.6M442.7 189.6h4.6M445.0 187.3v4.6M449.9 182.4h4.6M452.2 180.1v4.6M456.9 175.3h4.6M459.2 173.0v4.6M442.3 186.7h4.6M444.6 184.4v4.6M441.0 192.4h4.6M443.3 190.1v4.6M473.9 169.6h4.6M476.2 167.3v4.6M441.1 189.6h4.6M443.4 187.3v4.6M441.6 186.7h4.6M443.9 184.4v4.6M443.4 186.7h4.6M445.7 184.4v4.6M440.7 192.4h4.6M443.0 190.1v4.6M456.4 183.9h4.6M458.7 181.6v4.6M442.9 181.0h4.6M445.2 178.7v4.6M441.3 188.2h4.6M443.6 185.9v4.6M444.5 185.3h4.6M446.8 183.0v4.6M446.3 188.2h4.6M448.6 185.9v4.6M445.5 185.3h4.6M447.8 183.0v4.6M445.6 189.6h4.6M447.9 187.3v4.6M444.9 191.0h4.6M447.2 188.7v4.6M442.8 189.6h4.6M445.1 187.3v4.6M445.8 188.2h4.6M448.1 185.9v4.6M458.2 175.3h4.6M460.5 173.0v4.6M443.6 192.4h4.6M445.9 190.1v4.6M451.6 173.9h4.6M453.9 171.6v4.6M442.0 186.7h4.6M444.3 184.4v4.6M442.6 192.4h4.6M444.9 190.1v4.6M445.7 191.0h4.6M448.0 188.7v4.6M445.6 191.0h4.6M447.9 188.7v4.6M443.4 186.7h4.6M445.7 184.4v4.6M443.1 188.2h4.6M445.4 185.9v4.6M443.4 189.6h4.6M445.7 187.3v4.6M442.2 179.6h4.6M444.5 177.3v4.6M448.4 183.9h4.6M450.7 181.6v4.6M442.5 191.0h4.6M444.8 188.7v4.6M441.1 183.9h4.6M443.4 181.6v4.6M443.0 192.4h4.6M445.3 190.1v4.6M469.2 152.4h4.6M471.5 150.1v4.6M446.7 185.3h4.6M449.0 183.0v4.6M462.1 176.7h4.6M464.4 174.4v4.6M443.2 191.0h4.6M445.5 188.7v4.6M443.2 188.2h4.6M445.5 185.9v4.6M443.1 191.0h4.6M445.4 188.7v4.6M443.8 188.2h4.6M446.1 185.9v4.6M446.1 188.2h4.6M448.4 185.9v4.6M447.4 186.7h4.6M449.7 184.4v4.6M444.2 191.0h4.6M446.5 188.7v4.6M442.5 191.0h4.6M444.8 188.7v4.6M457.8 185.3h4.6M460.1 183.0v4.6M442.1 186.7h4.6M444.4 184.4v4.6M451.0 182.4h4.6M453.3 180.1v4.6M454.0 186.7h4.6M456.3 184.4v4.6M453.0 179.6h4.6M455.3 177.3v4.6M440.6 192.4h4.6M442.9 190.1v4.6M443.8 189.6h4.6M446.1 187.3v4.6M441.0 192.4h4.6M443.3 190.1v4.6M440.7 191.0h4.6M443.0 188.7v4.6M472.4 179.6h4.6M474.7 177.3v4.6M447.0 181.0h4.6M449.3 178.7v4.6M440.8 189.6h4.6M443.1 187.3v4.6M443.9 189.6h4.6M446.2 187.3v4.6M445.4 188.2h4.6M447.7 185.9v4.6M456.8 169.6h4.6M459.1 167.3v4.6M465.6 172.4h4.6M467.9 170.1v4.6M443.1 188.2h4.6M445.4 185.9v4.6M442.4 186.7h4.6M444.7 184.4v4.6M442.4 192.4h4.6M444.7 190.1v4.6M457.4 169.6h4.6M459.7 167.3v4.6M442.3 186.7h4.6M444.6 184.4v4.6M441.0 192.4h4.6M443.3 190.1v4.6M457.8 178.2h4.6M460.1 175.9v4.6M443.8 188.2h4.6M446.1 185.9v4.6M456.1 172.4h4.6M458.4 170.1v4.6M445.2 192.4h4.6M447.5 190.1v4.6M445.7 186.7h4.6M448.0 184.4v4.6M442.4 188.2h4.6M444.7 185.9v4.6M449.9 189.6h4.6M452.2 187.3v4.6M444.9 188.2h4.6M447.2 185.9v4.6M449.3 185.3h4.6M451.6 183.0v4.6M443.8 191.0h4.6M446.1 188.7v4.6M444.7 189.6h4.6M447.0 187.3v4.6M445.5 186.7h4.6M447.8 184.4v4.6M457.6 168.1h4.6M459.9 165.8v4.6M441.7 191.0h4.6M444.0 188.7v4.6M449.1 186.7h4.6M451.4 184.4v4.6M441.2 182.4h4.6M443.5 180.1v4.6M440.6 191.0h4.6M442.9 188.7v4.6M447.1 189.6h4.6M449.4 187.3v4.6M461.9 173.9h4.6M464.2 171.6v4.6M441.8 189.6h4.6M444.1 187.3v4.6M442.2 191.0h4.6M444.5 188.7v4.6M442.9 191.0h4.6M445.2 188.7v4.6M450.0 181.0h4.6M452.3 178.7v4.6M448.5 179.6h4.6M450.8 177.3v4.6M445.7 188.2h4.6M448.0 185.9v4.6M441.7 192.4h4.6M444.0 190.1v4.6M441.8 182.4h4.6M444.1 180.1v4.6M443.5 189.6h4.6M445.8 187.3v4.6M444.0 191.0h4.6M446.3 188.7v4.6M441.4 192.4h4.6M443.7 190.1v4.6M456.9 183.9h4.6M459.2 181.6v4.6M443.7 185.3h4.6M446.0 183.0v4.6M450.1 189.6h4.6M452.4 187.3v4.6M441.1 188.2h4.6M443.4 185.9v4.6M441.3 186.7h4.6M443.6 184.4v4.6M440.9 192.4h4.6M443.2 190.1v4.6M449.0 188.2h4.6M451.3 185.9v4.6M455.1 186.7h4.6M457.4 184.4v4.6M444.0 191.0h4.6M446.3 188.7v4.6M442.2 179.6h4.6M444.5 177.3v4.6M442.2 188.2h4.6M444.5 185.9v4.6M447.3 173.9h4.6M449.6 171.6v4.6M444.0 192.4h4.6M446.3 190.1v4.6M457.5 179.6h4.6M459.8 177.3v4.6M443.1 186.7h4.6M445.4 184.4v4.6M443.1 189.6h4.6M445.4 187.3v4.6M444.1 191.0h4.6M446.4 188.7v4.6M445.7 176.7h4.6M448.0 174.4v4.6M443.1 186.7h4.6M445.4 184.4v4.6M461.3 179.6h4.6M463.6 177.3v4.6M443.5 189.6h4.6M445.8 187.3v4.6M445.1 192.4h4.6M447.4 190.1v4.6M449.3 185.3h4.6M451.6 183.0v4.6M440.6 191.0h4.6M442.9 188.7v4.6M445.2 182.4h4.6M447.5 180.1v4.6M444.8 186.7h4.6M447.1 184.4v4.6M441.6 188.2h4.6M443.9 185.9v4.6M444.9 191.0h4.6M447.2 188.7v4.6M440.3 189.6h4.6M442.6 187.3v4.6M443.3 191.0h4.6M445.6 188.7v4.6M447.3 182.4h4.6M449.6 180.1v4.6M466.2 166.7h4.6M468.5 164.4v4.6M443.9 188.2h4.6M446.2 185.9v4.6M449.1 183.9h4.6M451.4 181.6v4.6M454.7 178.2h4.6M457.0 175.9v4.6M442.7 192.4h4.6M445.0 190.1v4.6M447.8 188.2h4.6M450.1 185.9v4.6M443.3 191.0h4.6M445.6 188.7v4.6M444.1 188.2h4.6M446.4 185.9v4.6M445.0 191.0h4.6M447.3 188.7v4.6M443.5 188.2h4.6M445.8 185.9v4.6M445.3 191.0h4.6M447.6 188.7v4.6M442.8 188.2h4.6M445.1 185.9v4.6M453.2 188.2h4.6M455.5 185.9v4.6M447.3 183.9h4.6M449.6 181.6v4.6M444.3 189.6h4.6M446.6 187.3v4.6M441.3 189.6h4.6M443.6 187.3v4.6M441.1 191.0h4.6M443.4 188.7v4.6M449.0 186.7h4.6M451.3 184.4v4.6M442.0 186.7h4.6M444.3 184.4v4.6M445.3 192.4h4.6M447.6 190.1v4.6M444.0 189.6h4.6M446.3 187.3v4.6M441.8 189.6h4.6M444.1 187.3v4.6M443.4 189.6h4.6M445.7 187.3v4.6M446.9 188.2h4.6M449.2 185.9v4.6M441.9 189.6h4.6M444.2 187.3v4.6M443.7 189.6h4.6M446.0 187.3v4.6M452.7 185.3h4.6M455.0 183.0v4.6M440.3 192.4h4.6M442.6 190.1v4.6M453.5 183.9h4.6M455.8 181.6v4.6M441.9 188.2h4.6M444.2 185.9v4.6M442.2 189.6h4.6M444.5 187.3v4.6M443.0 191.0h4.6M445.3 188.7v4.6M441.9 186.7h4.6M444.2 184.4v4.6M443.9 185.3h4.6M446.2 183.0v4.6M442.2 189.6h4.6M444.5 187.3v4.6M444.8 191.0h4.6M447.1 188.7v4.6M441.9 191.0h4.6M444.2 188.7v4.6M443.5 191.0h4.6M445.8 188.7v4.6M450.1 182.4h4.6M452.4 180.1v4.6M443.5 185.3h4.6M445.8 183.0v4.6M443.8 185.3h4.6M446.1 183.0v4.6M452.8 179.6h4.6M455.1 177.3v4.6M446.4 186.7h4.6M448.7 184.4v4.6M448.9 175.3h4.6M451.2 173.0v4.6M441.8 188.2h4.6M444.1 185.9v4.6M441.4 188.2h4.6M443.7 185.9v4.6M448.3 188.2h4.6M450.6 185.9v4.6M441.0 189.6h4.6M443.3 187.3v4.6M442.1 192.4h4.6M444.4 190.1v4.6M466.3 163.9h4.6M468.6 161.6v4.6M441.0 185.3h4.6M443.3 183.0v4.6M442.0 191.0h4.6M444.3 188.7v4.6M442.7 183.9h4.6M445.0 181.6v4.6M442.1 185.3h4.6M444.4 183.0v4.6M441.7 192.4h4.6M444.0 190.1v4.6M443.0 186.7h4.6M445.3 184.4v4.6M444.0 188.2h4.6M446.3 185.9v4.6M440.8 191.0h4.6M443.1 188.7v4.6M441.2 188.2h4.6M443.5 185.9v4.6M444.1 185.3h4.6M446.4 183.0v4.6M446.0 186.7h4.6M448.3 184.4v4.6M449.7 186.7h4.6M452.0 184.4v4.6M453.8 166.7h4.6M456.1 164.4v4.6M452.8 183.9h4.6M455.1 181.6v4.6M445.5 186.7h4.6M447.8 184.4v4.6M447.9 182.4h4.6M450.2 180.1v4.6M444.0 191.0h4.6M446.3 188.7v4.6M441.1 191.0h4.6M443.4 188.7v4.6M444.4 186.7h4.6M446.7 184.4v4.6M444.3 191.0h4.6M446.6 188.7v4.6M444.6 186.7h4.6M446.9 184.4v4.6M442.4 188.2h4.6M444.7 185.9v4.6M450.9 189.6h4.6M453.2 187.3v4.6M442.7 191.0h4.6M445.0 188.7v4.6M452.9 181.0h4.6M455.2 178.7v4.6M444.9 189.6h4.6M447.2 187.3v4.6M442.5 189.6h4.6M444.8 187.3v4.6M440.8 192.4h4.6M443.1 190.1v4.6M459.7 182.4h4.6M462.0 180.1v4.6M445.5 189.6h4.6M447.8 187.3v4.6M446.4 186.7h4.6M448.7 184.4v4.6M446.9 189.6h4.6M449.2 187.3v4.6M440.9 186.7h4.6M443.2 184.4v4.6M442.1 191.0h4.6M444.4 188.7v4.6M447.8 185.3h4.6M450.1 183.0v4.6M448.9 185.3h4.6M451.2 183.0v4.6M444.1 189.6h4.6M446.4 187.3v4.6M448.4 189.6h4.6M450.7 187.3v4.6M442.8 191.0h4.6M445.1 188.7v4.6M443.9 186.7h4.6M446.2 184.4v4.6M443.6 189.6h4.6M445.9 187.3v4.6M446.4 188.2h4.6M448.7 185.9v4.6M440.5 188.2h4.6M442.8 185.9v4.6M443.6 186.7h4.6M445.9 184.4v4.6M444.4 191.0h4.6M446.7 188.7v4.6M446.6 188.2h4.6M448.9 185.9v4.6M443.2 189.6h4.6M445.5 187.3v4.6M444.9 185.3h4.6M447.2 183.0v4.6M445.9 182.4h4.6M448.2 180.1v4.6M462.2 179.6h4.6M464.5 177.3v4.6M443.8 182.4h4.6M446.1 180.1v4.6M441.5 189.6h4.6M443.8 187.3v4.6M443.7 191.0h4.6M446.0 188.7v4.6M445.8 183.9h4.6M448.1 181.6v4.6M444.7 189.6h4.6M447.0 187.3v4.6M453.0 188.2h4.6M455.3 185.9v4.6M443.7 186.7h4.6M446.0 184.4v4.6M449.4 186.7h4.6M451.7 184.4v4.6M444.2 189.6h4.6M446.5 187.3v4.6M443.0 186.7h4.6M445.3 184.4v4.6M444.2 181.0h4.6M446.5 178.7v4.6M446.4 183.9h4.6M448.7 181.6v4.6M443.2 182.4h4.6M445.5 180.1v4.6M445.1 186.7h4.6M447.4 184.4v4.6M451.6 191.0h4.6M453.9 188.7v4.6M447.6 185.3h4.6M449.9 183.0v4.6M441.7 188.2h4.6M444.0 185.9v4.6M448.8 189.6h4.6M451.1 187.3v4.6M441.9 186.7h4.6M444.2 184.4v4.6M446.0 183.9h4.6M448.3 181.6v4.6M453.6 181.0h4.6M455.9 178.7v4.6M442.7 192.4h4.6M445.0 190.1v4.6M447.9 181.0h4.6M450.2 178.7v4.6M440.9 188.2h4.6M443.2 185.9v4.6M441.7 192.4h4.6M444.0 190.1v4.6M440.2 192.4h4.6M442.5 190.1v4.6M440.3 168.1h4.6M442.6 165.8v4.6M444.5 186.7h4.6M446.8 184.4v4.6M442.2 185.3h4.6M444.5 183.0v4.6M442.6 189.6h4.6M444.9 187.3v4.6M449.1 186.7h4.6M451.4 184.4v4.6M441.5 189.6h4.6M443.8 187.3v4.6M443.5 185.3h4.6M445.8 183.0v4.6M444.7 181.0h4.6M447.0 178.7v4.6M453.4 182.4h4.6M455.7 180.1v4.6M440.3 192.4h4.6M442.6 190.1v4.6M440.5 188.2h4.6M442.8 185.9v4.6M472.6 181.0h4.6M474.9 178.7v4.6M446.0 188.2h4.6M448.3 185.9v4.6M444.9 188.2h4.6M447.2 185.9v4.6M442.0 192.4h4.6M444.3 190.1v4.6M447.2 168.1h4.6M449.5 165.8v4.6M441.7 182.4h4.6M444.0 180.1v4.6M451.6 182.4h4.6M453.9 180.1v4.6M443.4 191.0h4.6M445.7 188.7v4.6M441.9 191.0h4.6M444.2 188.7v4.6M443.8 189.6h4.6M446.1 187.3v4.6M444.2 188.2h4.6M446.5 185.9v4.6M442.1 192.4h4.6M444.4 190.1v4.6M452.1 182.4h4.6M454.4 180.1v4.6M448.7 181.0h4.6M451.0 178.7v4.6M443.3 189.6h4.6M445.6 187.3v4.6M441.5 191.0h4.6M443.8 188.7v4.6M443.0 186.7h4.6M445.3 184.4v4.6M443.1 183.9h4.6M445.4 181.6v4.6M443.0 189.6h4.6M445.3 187.3v4.6M453.2 183.9h4.6M455.5 181.6v4.6M445.7 186.7h4.6M448.0 184.4v4.6M442.6 188.2h4.6M444.9 185.9v4.6M444.0 191.0h4.6M446.3 188.7v4.6M442.1 191.0h4.6M444.4 188.7v4.6M451.7 182.4h4.6M454.0 180.1v4.6M446.1 189.6h4.6M448.4 187.3v4.6M452.0 181.0h4.6M454.3 178.7v4.6M442.2 188.2h4.6M444.5 185.9v4.6M449.6 181.0h4.6M451.9 178.7v4.6M449.7 186.7h4.6M452.0 184.4v4.6M442.3 191.0h4.6M444.6 188.7v4.6M445.5 191.0h4.6M447.8 188.7v4.6M451.0 179.6h4.6M453.3 177.3v4.6M458.9 172.4h4.6M461.2 170.1v4.6M442.8 186.7h4.6M445.1 184.4v4.6M445.0 189.6h4.6M447.3 187.3v4.6M457.5 181.0h4.6M459.8 178.7v4.6M460.1 173.9h4.6M462.4 171.6v4.6M442.8 189.6h4.6M445.1 187.3v4.6M446.3 191.0h4.6M448.6 188.7v4.6M443.2 192.4h4.6M445.5 190.1v4.6M443.6 188.2h4.6M445.9 185.9v4.6M451.5 183.9h4.6M453.8 181.6v4.6M444.5 189.6h4.6M446.8 187.3v4.6M443.8 185.3h4.6M446.1 183.0v4.6M444.0 185.3h4.6M446.3 183.0v4.6M441.4 189.6h4.6M443.7 187.3v4.6M445.6 191.0h4.6M447.9 188.7v4.6M453.7 179.6h4.6M456.0 177.3v4.6M441.9 189.6h4.6M444.2 187.3v4.6M442.6 185.3h4.6M444.9 183.0v4.6M442.2 189.6h4.6M444.5 187.3v4.6M440.9 192.4h4.6M443.2 190.1v4.6M445.7 188.2h4.6M448.0 185.9v4.6M442.7 192.4h4.6M445.0 190.1v4.6M452.6 185.3h4.6M454.9 183.0v4.6M442.7 181.0h4.6M445.0 178.7v4.6M445.7 181.0h4.6M448.0 178.7v4.6M441.9 185.3h4.6M444.2 183.0v4.6M446.9 188.2h4.6M449.2 185.9v4.6M449.4 185.3h4.6M451.7 183.0v4.6M444.3 191.0h4.6M446.6 188.7v4.6M449.0 185.3h4.6M451.3 183.0v4.6M471.9 165.3h4.6M474.2 163.0v4.6M442.4 189.6h4.6M444.7 187.3v4.6M442.3 192.4h4.6M444.6 190.1v4.6M452.6 166.7h4.6M454.9 164.4v4.6M445.6 189.6h4.6M447.9 187.3v4.6M449.6 186.7h4.6M451.9 184.4v4.6M450.7 181.0h4.6M453.0 178.7v4.6M454.9 185.3h4.6M457.2 183.0v4.6M448.8 188.2h4.6M451.1 185.9v4.6M444.5 188.2h4.6M446.8 185.9v4.6M441.9 191.0h4.6M444.2 188.7v4.6M441.9 192.4h4.6M444.2 190.1v4.6M444.2 189.6h4.6M446.5 187.3v4.6M446.5 188.2h4.6M448.8 185.9v4.6M441.4 189.6h4.6M443.7 187.3v4.6M442.5 188.2h4.6M444.8 185.9v4.6M455.7 182.4h4.6M458.0 180.1v4.6M442.1 192.4h4.6M444.4 190.1v4.6M449.9 175.3h4.6M452.2 173.0v4.6M452.5 185.3h4.6M454.8 183.0v4.6M447.8 183.9h4.6M450.1 181.6v4.6M441.8 191.0h4.6M444.1 188.7v4.6M452.8 188.2h4.6M455.1 185.9v4.6M447.7 182.4h4.6M450.0 180.1v4.6M444.2 192.4h4.6M446.5 190.1v4.6M457.0 169.6h4.6M459.3 167.3v4.6M451.5 186.7h4.6M453.8 184.4v4.6M443.8 185.3h4.6M446.1 183.0v4.6M441.6 188.2h4.6M443.9 185.9v4.6M442.0 192.4h4.6M444.3 190.1v4.6M459.9 176.7h4.6M462.2 174.4v4.6M445.6 188.2h4.6M447.9 185.9v4.6M441.2 192.4h4.6M443.5 190.1v4.6M444.2 188.2h4.6M446.5 185.9v4.6M447.3 186.7h4.6M449.6 184.4v4.6M456.9 175.3h4.6M459.2 173.0v4.6M452.7 181.0h4.6M455.0 178.7v4.6M463.6 175.3h4.6M465.9 173.0v4.6M443.5 189.6h4.6M445.8 187.3v4.6M452.9 179.6h4.6M455.2 177.3v4.6M441.8 192.4h4.6M444.1 190.1v4.6M442.7 192.4h4.6M445.0 190.1v4.6M443.0 189.6h4.6M445.3 187.3v4.6M471.1 168.1h4.6M473.4 165.8v4.6M456.7 183.9h4.6M459.0 181.6v4.6M442.4 189.6h4.6M444.7 187.3v4.6M441.1 191.0h4.6M443.4 188.7v4.6M471.0 162.4h4.6M473.3 160.1v4.6M455.6 182.4h4.6M457.9 180.1v4.6M442.8 189.6h4.6M445.1 187.3v4.6M442.4 189.6h4.6M444.7 187.3v4.6M443.5 191.0h4.6M445.8 188.7v4.6M450.1 182.4h4.6M452.4 180.1v4.6M449.2 181.0h4.6M451.5 178.7v4.6M440.5 192.4h4.6M442.8 190.1v4.6M449.0 183.9h4.6M451.3 181.6v4.6M481.7 168.1h4.6M484.0 165.8v4.6M444.5 192.4h4.6M446.8 190.1v4.6M444.0 176.7h4.6M446.3 174.4v4.6M441.5 192.4h4.6M443.8 190.1v4.6M443.3 185.3h4.6M445.6 183.0v4.6M463.3 165.3h4.6M465.6 163.0v4.6M442.5 191.0h4.6M444.8 188.7v4.6M444.6 189.6h4.6M446.9 187.3v4.6M441.3 192.4h4.6M443.6 190.1v4.6M441.7 192.4h4.6M444.0 190.1v4.6M443.6 192.4h4.6M445.9 190.1v4.6M442.4 191.0h4.6M444.7 188.7v4.6M449.0 188.2h4.6M451.3 185.9v4.6M443.2 183.9h4.6M445.5 181.6v4.6M442.7 191.0h4.6M445.0 188.7v4.6M448.1 179.6h4.6M450.4 177.3v4.6M443.0 189.6h4.6M445.3 187.3v4.6M446.0 182.4h4.6M448.3 180.1v4.6M444.3 188.2h4.6M446.6 185.9v4.6M444.2 183.9h4.6M446.5 181.6v4.6M446.6 182.4h4.6M448.9 180.1v4.6M440.9 186.7h4.6M443.2 184.4v4.6M461.6 166.7h4.6M463.9 164.4v4.6M445.3 188.2h4.6M447.6 185.9v4.6M446.0 188.2h4.6M448.3 185.9v4.6M441.7 192.4h4.6M444.0 190.1v4.6M442.7 191.0h4.6M445.0 188.7v4.6M447.3 181.0h4.6M449.6 178.7v4.6M445.8 179.6h4.6M448.1 177.3v4.6M442.1 191.0h4.6M444.4 188.7v4.6M441.0 192.4h4.6M443.3 190.1v4.6M442.4 192.4h4.6M444.7 190.1v4.6M447.7 186.7h4.6M450.0 184.4v4.6M441.1 186.7h4.6M443.4 184.4v4.6M450.9 183.9h4.6M453.2 181.6v4.6M444.9 189.6h4.6M447.2 187.3v4.6M446.4 188.2h4.6M448.7 185.9v4.6M441.7 191.0h4.6M444.0 188.7v4.6M442.3 192.4h4.6M444.6 190.1v4.6M442.9 192.4h4.6M445.2 190.1v4.6M442.6 192.4h4.6M444.9 190.1v4.6M453.7 172.4h4.6M456.0 170.1v4.6M444.0 176.7h4.6M446.3 174.4v4.6M441.6 189.6h4.6M443.9 187.3v4.6M442.9 191.0h4.6M445.2 188.7v4.6M443.4 191.0h4.6M445.7 188.7v4.6M447.2 188.2h4.6M449.5 185.9v4.6M448.8 176.7h4.6M451.1 174.4v4.6M447.2 185.3h4.6M449.5 183.0v4.6M440.5 186.7h4.6M442.8 184.4v4.6M440.9 191.0h4.6M443.2 188.7v4.6M440.8 182.4h4.6M443.1 180.1v4.6M445.3 189.6h4.6M447.6 187.3v4.6M440.7 188.2h4.6M443.0 185.9v4.6M441.7 192.4h4.6M444.0 190.1v4.6M444.6 183.9h4.6M446.9 181.6v4.6M445.5 192.4h4.6M447.8 190.1v4.6M441.1 192.4h4.6M443.4 190.1v4.6M448.1 185.3h4.6M450.4 183.0v4.6M441.3 191.0h4.6M443.6 188.7v4.6M443.5 189.6h4.6M445.8 187.3v4.6M441.4 189.6h4.6M443.7 187.3v4.6M440.8 191.0h4.6M443.1 188.7v4.6M444.2 192.4h4.6M446.5 190.1v4.6M449.2 179.6h4.6M451.5 177.3v4.6M451.5 182.4h4.6M453.8 180.1v4.6M444.6 192.4h4.6M446.9 190.1v4.6M442.6 189.6h4.6M444.9 187.3v4.6M444.2 191.0h4.6M446.5 188.7v4.6M446.3 186.7h4.6M448.6 184.4v4.6M443.3 189.6h4.6M445.6 187.3v4.6M443.0 189.6h4.6M445.3 187.3v4.6M441.7 191.0h4.6M444.0 188.7v4.6M440.7 191.0h4.6M443.0 188.7v4.6M447.6 188.2h4.6M449.9 185.9v4.6M445.7 186.7h4.6M448.0 184.4v4.6M441.2 191.0h4.6M443.5 188.7v4.6M443.2 175.3h4.6M445.5 173.0v4.6M454.6 192.4h4.6M456.9 190.1v4.6M449.3 189.6h4.6M451.6 187.3v4.6M444.5 189.6h4.6M446.8 187.3v4.6M442.5 188.2h4.6M444.8 185.9v4.6M446.0 189.6h4.6M448.3 187.3v4.6M441.4 189.6h4.6M443.7 187.3v4.6M442.4 189.6h4.6M444.7 187.3v4.6M450.3 185.3h4.6M452.6 183.0v4.6M442.8 189.6h4.6M445.1 187.3v4.6M444.4 188.2h4.6M446.7 185.9v4.6M453.7 185.3h4.6M456.0 183.0v4.6M442.5 189.6h4.6M444.8 187.3v4.6M441.5 192.4h4.6M443.8 190.1v4.6M446.3 183.9h4.6M448.6 181.6v4.6M444.0 191.0h4.6M446.3 188.7v4.6M475.5 178.2h4.6M477.8 175.9v4.6M441.3 188.2h4.6M443.6 185.9v4.6M448.8 185.3h4.6M451.1 183.0v4.6M445.8 185.3h4.6M448.1 183.0v4.6M443.2 192.4h4.6M445.5 190.1v4.6M441.2 191.0h4.6M443.5 188.7v4.6M445.0 186.7h4.6M447.3 184.4v4.6M450.5 183.9h4.6M452.8 181.6v4.6M441.4 191.0h4.6M443.7 188.7v4.6M442.0 191.0h4.6M444.3 188.7v4.6M441.9 191.0h4.6M444.2 188.7v4.6M442.7 191.0h4.6M445.0 188.7v4.6M443.3 192.4h4.6M445.6 190.1v4.6M455.7 182.4h4.6M458.0 180.1v4.6M449.3 188.2h4.6M451.6 185.9v4.6M454.2 179.6h4.6M456.5 177.3v4.6M454.2 181.0h4.6M456.5 178.7v4.6M441.1 192.4h4.6M443.4 190.1v4.6M461.3 179.6h4.6M463.6 177.3v4.6M441.8 191.0h4.6M444.1 188.7v4.6M451.0 181.0h4.6M453.3 178.7v4.6M446.2 186.7h4.6M448.5 184.4v4.6M443.0 189.6h4.6M445.3 187.3v4.6M441.6 189.6h4.6M443.9 187.3v4.6M444.1 192.4h4.6M446.4 190.1v4.6M445.9 189.6h4.6M448.2 187.3v4.6M446.0 186.7h4.6M448.3 184.4v4.6M455.1 185.3h4.6M457.4 183.0v4.6M441.7 192.4h4.6M444.0 190.1v4.6M456.9 166.7h4.6M459.2 164.4v4.6M441.7 189.6h4.6M444.0 187.3v4.6M444.4 188.2h4.6M446.7 185.9v4.6M457.4 176.7h4.6M459.7 174.4v4.6M445.4 183.9h4.6M447.7 181.6v4.6M441.6 189.6h4.6M443.9 187.3v4.6M453.5 186.7h4.6M455.8 184.4v4.6M443.8 186.7h4.6M446.1 184.4v4.6M445.1 186.7h4.6M447.4 184.4v4.6M441.6 192.4h4.6M443.9 190.1v4.6M443.8 191.0h4.6M446.1 188.7v4.6M465.0 171.0h4.6M467.3 168.7v4.6M441.9 181.0h4.6M444.2 178.7v4.6M443.8 188.2h4.6M446.1 185.9v4.6M443.0 185.3h4.6M445.3 183.0v4.6M446.8 185.3h4.6M449.1 183.0v4.6M453.9 176.7h4.6M456.2 174.4v4.6M447.8 189.6h4.6M450.1 187.3v4.6M450.7 183.9h4.6M453.0 181.6v4.6M442.3 188.2h4.6M444.6 185.9v4.6M443.2 191.0h4.6M445.5 188.7v4.6M445.8 192.4h4.6M448.1 190.1v4.6M441.2 188.2h4.6M443.5 185.9v4.6M446.6 182.4h4.6M448.9 180.1v4.6M450.0 186.7h4.6M452.3 184.4v4.6M446.4 182.4h4.6M448.7 180.1v4.6M441.7 186.7h4.6M444.0 184.4v4.6M450.3 183.9h4.6M452.6 181.6v4.6M456.7 178.2h4.6M459.0 175.9v4.6M451.0 185.3h4.6M453.3 183.0v4.6M443.3 188.2h4.6M445.6 185.9v4.6M445.0 179.6h4.6M447.3 177.3v4.6M441.3 188.2h4.6M443.6 185.9v4.6M451.7 182.4h4.6M454.0 180.1v4.6M451.8 185.3h4.6M454.1 183.0v4.6M446.1 182.4h4.6M448.4 180.1v4.6M444.3 191.0h4.6M446.6 188.7v4.6M441.7 188.2h4.6M444.0 185.9v4.6M456.2 166.7h4.6M458.5 164.4v4.6M450.4 186.7h4.6M452.7 184.4v4.6M455.9 178.2h4.6M458.2 175.9v4.6M443.7 188.2h4.6M446.0 185.9v4.6M471.1 161.0h4.6M473.4 158.7v4.6M445.2 191.0h4.6M447.5 188.7v4.6M442.6 166.7h4.6M444.9 164.4v4.6M442.3 189.6h4.6M444.6 187.3v4.6M446.7 185.3h4.6M449.0 183.0v4.6M445.2 189.6h4.6M447.5 187.3v4.6M440.6 192.4h4.6M442.9 190.1v4.6M444.0 191.0h4.6M446.3 188.7v4.6M443.9 188.2h4.6M446.2 185.9v4.6M452.5 181.0h4.6M454.8 178.7v4.6M446.2 183.9h4.6M448.5 181.6v4.6M447.2 189.6h4.6M449.5 187.3v4.6M444.2 183.9h4.6M446.5 181.6v4.6M445.4 189.6h4.6M447.7 187.3v4.6M445.6 189.6h4.6M447.9 187.3v4.6M449.9 185.3h4.6M452.2 183.0v4.6M456.3 176.7h4.6M458.6 174.4v4.6M444.7 191.0h4.6M447.0 188.7v4.6M445.9 188.2h4.6M448.2 185.9v4.6M449.4 185.3h4.6M451.7 183.0v4.6M456.4 179.6h4.6M458.7 177.3v4.6M447.6 186.7h4.6M449.9 184.4v4.6M440.8 191.0h4.6M443.1 188.7v4.6M444.7 188.2h4.6M447.0 185.9v4.6M451.9 169.6h4.6M454.2 167.3v4.6M441.1 189.6h4.6M443.4 187.3v4.6M443.0 192.4h4.6M445.3 190.1v4.6M441.4 191.0h4.6M443.7 188.7v4.6M452.0 182.4h4.6M454.3 180.1v4.6M449.7 183.9h4.6M452.0 181.6v4.6M462.8 181.0h4.6M465.1 178.7v4.6M440.3 191.0h4.6M442.6 188.7v4.6M443.7 189.6h4.6M446.0 187.3v4.6M443.4 189.6h4.6M445.7 187.3v4.6M444.8 186.7h4.6M447.1 184.4v4.6M444.9 189.6h4.6M447.2 187.3v4.6M449.2 183.9h4.6M451.5 181.6v4.6M449.4 178.2h4.6M451.7 175.9v4.6M442.9 191.0h4.6M445.2 188.7v4.6M447.5 192.4h4.6M449.8 190.1v4.6M442.8 192.4h4.6M445.1 190.1v4.6M443.4 191.0h4.6M445.7 188.7v4.6M441.2 192.4h4.6M443.5 190.1v4.6M443.2 186.7h4.6M445.5 184.4v4.6M443.3 183.9h4.6M445.6 181.6v4.6M442.6 192.4h4.6M444.9 190.1v4.6M458.7 162.4h4.6M461.0 160.1v4.6M442.8 189.6h4.6M445.1 187.3v4.6M441.6 192.4h4.6M443.9 190.1v4.6M456.1 183.9h4.6M458.4 181.6v4.6M469.8 162.4h4.6M472.1 160.1v4.6M445.6 191.0h4.6M447.9 188.7v4.6M443.6 191.0h4.6M445.9 188.7v4.6M440.9 192.4h4.6M443.2 190.1v4.6M443.8 188.2h4.6M446.1 185.9v4.6M462.8 169.6h4.6M465.1 167.3v4.6M454.3 178.2h4.6M456.6 175.9v4.6M450.7 183.9h4.6M453.0 181.6v4.6M442.7 191.0h4.6M445.0 188.7v4.6M458.2 185.3h4.6M460.5 183.0v4.6M449.7 181.0h4.6M452.0 178.7v4.6M442.5 183.9h4.6M444.8 181.6v4.6M443.1 192.4h4.6M445.4 190.1v4.6M441.2 183.9h4.6M443.5 181.6v4.6M448.5 186.7h4.6M450.8 184.4v4.6M441.7 183.9h4.6M444.0 181.6v4.6M443.4 191.0h4.6M445.7 188.7v4.6M450.6 188.2h4.6M452.9 185.9v4.6M442.4 189.6h4.6M444.7 187.3v4.6M445.8 185.3h4.6M448.1 183.0v4.6M452.7 186.7h4.6M455.0 184.4v4.6M441.2 192.4h4.6M443.5 190.1v4.6M456.8 181.0h4.6M459.1 178.7v4.6M442.9 191.0h4.6M445.2 188.7v4.6M446.0 189.6h4.6M448.3 187.3v4.6M444.2 185.3h4.6M446.5 183.0v4.6M441.9 185.3h4.6M444.2 183.0v4.6M440.9 191.0h4.6M443.2 188.7v4.6M442.7 191.0h4.6M445.0 188.7v4.6M444.7 189.6h4.6M447.0 187.3v4.6M446.0 188.2h4.6M448.3 185.9v4.6M444.6 189.6h4.6M446.9 187.3v4.6M457.9 183.9h4.6M460.2 181.6v4.6M442.2 191.0h4.6M444.5 188.7v4.6M447.9 181.0h4.6M450.2 178.7v4.6M462.3 176.7h4.6M464.6 174.4v4.6M448.6 181.0h4.6M450.9 178.7v4.6M446.6 179.6h4.6M448.9 177.3v4.6M449.4 186.7h4.6M451.7 184.4v4.6M474.7 183.9h4.6M477.0 181.6v4.6M440.8 192.4h4.6M443.1 190.1v4.6M445.2 186.7h4.6M447.5 184.4v4.6M440.4 191.0h4.6M442.7 188.7v4.6M447.4 186.7h4.6M449.7 184.4v4.6M444.6 191.0h4.6M446.9 188.7v4.6M447.5 189.6h4.6M449.8 187.3v4.6M445.0 191.0h4.6M447.3 188.7v4.6M443.5 188.2h4.6M445.8 185.9v4.6M446.2 188.2h4.6M448.5 185.9v4.6M443.3 191.0h4.6M445.6 188.7v4.6M454.3 183.9h4.6M456.6 181.6v4.6M443.8 192.4h4.6M446.1 190.1v4.6M441.8 191.0h4.6M444.1 188.7v4.6M457.0 173.9h4.6M459.3 171.6v4.6M462.1 173.9h4.6M464.4 171.6v4.6M449.3 181.0h4.6M451.6 178.7v4.6M442.3 191.0h4.6M444.6 188.7v4.6M449.0 191.0h4.6M451.3 188.7v4.6M470.9 172.4h4.6M473.2 170.1v4.6M444.0 192.4h4.6M446.3 190.1v4.6M441.2 192.4h4.6M443.5 190.1v4.6M440.8 192.4h4.6M443.1 190.1v4.6M469.8 171.0h4.6M472.1 168.7v4.6M447.2 186.7h4.6M449.5 184.4v4.6M451.5 179.6h4.6M453.8 177.3v4.6M456.1 185.3h4.6M458.4 183.0v4.6M451.1 183.9h4.6M453.4 181.6v4.6M458.7 159.6h4.6M461.0 157.3v4.6M440.4 186.7h4.6M442.7 184.4v4.6M455.9 182.4h4.6M458.2 180.1v4.6M441.3 191.0h4.6M443.6 188.7v4.6M443.0 186.7h4.6M445.3 184.4v4.6M440.2 182.4h4.6M442.5 180.1v4.6M446.5 183.9h4.6M448.8 181.6v4.6M451.0 186.7h4.6M453.3 184.4v4.6M442.6 189.6h4.6M444.9 187.3v4.6M442.3 191.0h4.6M444.6 188.7v4.6M447.8 185.3h4.6M450.1 183.0v4.6M441.4 191.0h4.6M443.7 188.7v4.6M441.9 191.0h4.6M444.2 188.7v4.6M445.3 188.2h4.6M447.6 185.9v4.6M451.3 179.6h4.6M453.6 177.3v4.6M451.9 185.3h4.6M454.2 183.0v4.6M445.0 171.0h4.6M447.3 168.7v4.6M440.9 192.4h4.6M443.2 190.1v4.6M445.5 185.3h4.6M447.8 183.0v4.6M441.2 189.6h4.6M443.5 187.3v4.6M440.9 192.4h4.6M443.2 190.1v4.6M447.9 189.6h4.6M450.2 187.3v4.6M440.8 192.4h4.6M443.1 190.1v4.6M449.3 189.6h4.6M451.6 187.3v4.6M441.6 189.6h4.6M443.9 187.3v4.6M442.5 188.2h4.6M444.8 185.9v4.6M441.5 186.7h4.6M443.8 184.4v4.6M450.6 179.6h4.6M452.9 177.3v4.6M444.5 189.6h4.6M446.8 187.3v4.6M442.1 189.6h4.6M444.4 187.3v4.6M442.0 192.4h4.6M444.3 190.1v4.6M442.0 189.6h4.6M444.3 187.3v4.6M449.0 188.2h4.6M451.3 185.9v4.6M445.6 191.0h4.6M447.9 188.7v4.6M441.6 192.4h4.6M443.9 190.1v4.6M440.7 192.4h4.6M443.0 190.1v4.6M442.4 186.7h4.6M444.7 184.4v4.6M443.4 192.4h4.6M445.7 190.1v4.6M442.2 192.4h4.6M444.5 190.1v4.6M441.6 191.0h4.6M443.9 188.7v4.6M441.1 192.4h4.6M443.4 190.1v4.6M445.3 189.6h4.6M447.6 187.3v4.6M442.2 185.3h4.6M444.5 183.0v4.6M442.8 188.2h4.6M445.1 185.9v4.6M441.8 192.4h4.6M444.1 190.1v4.6M442.1 189.6h4.6M444.4 187.3v4.6M443.8 188.2h4.6M446.1 185.9v4.6M446.1 183.9h4.6M448.4 181.6v4.6M448.0 186.7h4.6M450.3 184.4v4.6M455.1 185.3h4.6M457.4 183.0v4.6M446.2 186.7h4.6M448.5 184.4v4.6M477.2 175.3h4.6M479.5 173.0v4.6M444.0 189.6h4.6M446.3 187.3v4.6M443.5 185.3h4.6M445.8 183.0v4.6M448.1 186.7h4.6M450.4 184.4v4.6M446.1 179.6h4.6M448.4 177.3v4.6M442.7 185.3h4.6M445.0 183.0v4.6M446.0 183.9h4.6M448.3 181.6v4.6M442.5 188.2h4.6M444.8 185.9v4.6M441.4 188.2h4.6M443.7 185.9v4.6M441.4 189.6h4.6M443.7 187.3v4.6M445.3 191.0h4.6M447.6 188.7v4.6M441.2 189.6h4.6M443.5 187.3v4.6M447.9 185.3h4.6M450.2 183.0v4.6M446.9 189.6h4.6M449.2 187.3v4.6M441.9 191.0h4.6M444.2 188.7v4.6M449.8 185.3h4.6M452.1 183.0v4.6M448.7 186.7h4.6M451.0 184.4v4.6M445.1 186.7h4.6M447.4 184.4v4.6M441.9 186.7h4.6M444.2 184.4v4.6M445.8 189.6h4.6M448.1 187.3v4.6M458.1 182.4h4.6M460.4 180.1v4.6M450.8 179.6h4.6M453.1 177.3v4.6M440.9 192.4h4.6M443.2 190.1v4.6M448.8 188.2h4.6M451.1 185.9v4.6M460.3 183.9h4.6M462.6 181.6v4.6M453.0 182.4h4.6M455.3 180.1v4.6M443.0 192.4h4.6M445.3 190.1v4.6M446.6 191.0h4.6M448.9 188.7v4.6M443.7 186.7h4.6M446.0 184.4v4.6M446.6 188.2h4.6M448.9 185.9v4.6M447.4 182.4h4.6M449.7 180.1v4.6M443.9 185.3h4.6M446.2 183.0v4.6M451.0 189.6h4.6M453.3 187.3v4.6M447.3 183.9h4.6M449.6 181.6v4.6M446.7 179.6h4.6M449.0 177.3v4.6M442.8 189.6h4.6M445.1 187.3v4.6M443.2 189.6h4.6M445.5 187.3v4.6M442.9 189.6h4.6M445.2 187.3v4.6M442.3 185.3h4.6M444.6 183.0v4.6M445.3 188.2h4.6M447.6 185.9v4.6M452.3 183.9h4.6M454.6 181.6v4.6M447.9 183.9h4.6M450.2 181.6v4.6M441.5 189.6h4.6M443.8 187.3v4.6M459.0 173.9h4.6M461.3 171.6v4.6M446.6 179.6h4.6M448.9 177.3v4.6M462.4 183.9h4.6M464.7 181.6v4.6M477.9 151.0h4.6M480.2 148.7v4.6M446.4 192.4h4.6M448.7 190.1v4.6M461.2 181.0h4.6M463.5 178.7v4.6M453.4 182.4h4.6M455.7 180.1v4.6M444.5 188.2h4.6M446.8 185.9v4.6M442.3 192.4h4.6M444.6 190.1v4.6M445.9 192.4h4.6M448.2 190.1v4.6M451.1 186.7h4.6M453.4 184.4v4.6M444.4 189.6h4.6M446.7 187.3v4.6M444.8 185.3h4.6M447.1 183.0v4.6M440.7 191.0h4.6M443.0 188.7v4.6M455.9 186.7h4.6M458.2 184.4v4.6M441.7 191.0h4.6M444.0 188.7v4.6M445.5 189.6h4.6M447.8 187.3v4.6M442.1 188.2h4.6M444.4 185.9v4.6M447.2 185.3h4.6M449.5 183.0v4.6M440.9 186.7h4.6M443.2 184.4v4.6M441.3 188.2h4.6M443.6 185.9v4.6M442.0 188.2h4.6M444.3 185.9v4.6M443.3 188.2h4.6M445.6 185.9v4.6M445.0 191.0h4.6M447.3 188.7v4.6M446.1 185.3h4.6M448.4 183.0v4.6M445.6 189.6h4.6M447.9 187.3v4.6M442.9 191.0h4.6M445.2 188.7v4.6M455.1 175.3h4.6M457.4 173.0v4.6M444.4 189.6h4.6M446.7 187.3v4.6M443.1 192.4h4.6M445.4 190.1v4.6M442.0 182.4h4.6M444.3 180.1v4.6M444.9 191.0h4.6M447.2 188.7v4.6M455.3 172.4h4.6M457.6 170.1v4.6M448.3 182.4h4.6M450.6 180.1v4.6M443.6 191.0h4.6M445.9 188.7v4.6M445.6 182.4h4.6M447.9 180.1v4.6M455.9 178.2h4.6M458.2 175.9v4.6M443.5 189.6h4.6M445.8 187.3v4.6M452.0 188.2h4.6M454.3 185.9v4.6M440.9 191.0h4.6M443.2 188.7v4.6M442.2 189.6h4.6M444.5 187.3v4.6M453.2 185.3h4.6M455.5 183.0v4.6M441.6 192.4h4.6M443.9 190.1v4.6M441.0 191.0h4.6M443.3 188.7v4.6M440.6 189.6h4.6M442.9 187.3v4.6M442.7 191.0h4.6M445.0 188.7v4.6M441.2 189.6h4.6M443.5 187.3v4.6M442.2 191.0h4.6M444.5 188.7v4.6M442.5 192.4h4.6M444.8 190.1v4.6M445.4 189.6h4.6M447.7 187.3v4.6M443.3 188.2h4.6M445.6 185.9v4.6M447.9 185.3h4.6M450.2 183.0v4.6M452.4 185.3h4.6M454.7 183.0v4.6M442.0 189.6h4.6M444.3 187.3v4.6M444.2 178.2h4.6M446.5 175.9v4.6M448.0 183.9h4.6M450.3 181.6v4.6M447.8 183.9h4.6M450.1 181.6v4.6M446.8 188.2h4.6M449.1 185.9v4.6M449.9 181.0h4.6M452.2 178.7v4.6M444.9 176.7h4.6M447.2 174.4v4.6M443.4 192.4h4.6M445.7 190.1v4.6M448.6 186.7h4.6M450.9 184.4v4.6M441.6 192.4h4.6M443.9 190.1v4.6M443.7 189.6h4.6M446.0 187.3v4.6M444.1 189.6h4.6M446.4 187.3v4.6M444.6 183.9h4.6M446.9 181.6v4.6M458.1 183.9h4.6M460.4 181.6v4.6M447.3 181.0h4.6M449.6 178.7v4.6M446.8 188.2h4.6M449.1 185.9v4.6M442.2 191.0h4.6M444.5 188.7v4.6M448.8 183.9h4.6M451.1 181.6v4.6M444.9 186.7h4.6M447.2 184.4v4.6M453.5 181.0h4.6M455.8 178.7v4.6M444.3 189.6h4.6M446.6 187.3v4.6M444.2 191.0h4.6M446.5 188.7v4.6M448.4 186.7h4.6M450.7 184.4v4.6M440.7 185.3h4.6M443.0 183.0v4.6M452.6 185.3h4.6M454.9 183.0v4.6M448.3 186.7h4.6M450.6 184.4v4.6M442.0 192.4h4.6M444.3 190.1v4.6M442.3 191.0h4.6M444.6 188.7v4.6M472.7 166.7h4.6M475.0 164.4v4.6M456.3 179.6h4.6M458.6 177.3v4.6M443.9 185.3h4.6M446.2 183.0v4.6M448.4 189.6h4.6M450.7 187.3v4.6M447.8 176.7h4.6M450.1 174.4v4.6M441.4 191.0h4.6M443.7 188.7v4.6M449.3 191.0h4.6M451.6 188.7v4.6M447.9 191.0h4.6M450.2 188.7v4.6M444.9 189.6h4.6M447.2 187.3v4.6M441.9 189.6h4.6M444.2 187.3v4.6M478.5 172.4h4.6M480.8 170.1v4.6M441.0 192.4h4.6M443.3 190.1v4.6M445.8 185.3h4.6M448.1 183.0v4.6M443.6 189.6h4.6M445.9 187.3v4.6M448.0 185.3h4.6M450.3 183.0v4.6M440.9 185.3h4.6M443.2 183.0v4.6M449.9 185.3h4.6M452.2 183.0v4.6M446.2 192.4h4.6M448.5 190.1v4.6M451.5 188.2h4.6M453.8 185.9v4.6M445.1 191.0h4.6M447.4 188.7v4.6M442.4 192.4h4.6M444.7 190.1v4.6M443.6 191.0h4.6M445.9 188.7v4.6M441.3 192.4h4.6M443.6 190.1v4.6M441.2 191.0h4.6M443.5 188.7v4.6M452.5 181.0h4.6M454.8 178.7v4.6M445.1 192.4h4.6M447.4 190.1v4.6M456.3 176.7h4.6M458.6 174.4v4.6M442.3 183.9h4.6M444.6 181.6v4.6M448.9 189.6h4.6M451.2 187.3v4.6M441.6 192.4h4.6M443.9 190.1v4.6M447.7 188.2h4.6M450.0 185.9v4.6M440.7 192.4h4.6M443.0 190.1v4.6M442.5 191.0h4.6M444.8 188.7v4.6M449.3 175.3h4.6M451.6 173.0v4.6M444.3 185.3h4.6M446.6 183.0v4.6M445.9 182.4h4.6M448.2 180.1v4.6M445.3 189.6h4.6M447.6 187.3v4.6M440.3 191.0h4.6M442.6 188.7v4.6M447.0 186.7h4.6M449.3 184.4v4.6M450.0 185.3h4.6M452.3 183.0v4.6M446.2 186.7h4.6M448.5 184.4v4.6M446.8 182.4h4.6M449.1 180.1v4.6M441.4 192.4h4.6M443.7 190.1v4.6M452.1 173.9h4.6M454.4 171.6v4.6M444.3 189.6h4.6M446.6 187.3v4.6M441.0 191.0h4.6M443.3 188.7v4.6M444.2 189.6h4.6M446.5 187.3v4.6M452.6 176.7h4.6M454.9 174.4v4.6M442.5 191.0h4.6M444.8 188.7v4.6M442.9 189.6h4.6M445.2 187.3v4.6M441.9 192.4h4.6M444.2 190.1v4.6M445.1 191.0h4.6M447.4 188.7v4.6M456.8 178.2h4.6M459.1 175.9v4.6M441.7 192.4h4.6M444.0 190.1v4.6M443.4 188.2h4.6M445.7 185.9v4.6M443.3 183.9h4.6M445.6 181.6v4.6M442.3 191.0h4.6M444.6 188.7v4.6M448.8 186.7h4.6M451.1 184.4v4.6M442.6 191.0h4.6M444.9 188.7v4.6M442.3 186.7h4.6M444.6 184.4v4.6M441.7 192.4h4.6M444.0 190.1v4.6M457.7 179.6h4.6M460.0 177.3v4.6M443.4 192.4h4.6M445.7 190.1v4.6M442.2 189.6h4.6M444.5 187.3v4.6M448.6 183.9h4.6M450.9 181.6v4.6M447.1 192.4h4.6M449.4 190.1v4.6M445.4 175.3h4.6M447.7 173.0v4.6M440.6 192.4h4.6M442.9 190.1v4.6M477.4 168.1h4.6M479.7 165.8v4.6M442.8 183.9h4.6M445.1 181.6v4.6M442.0 189.6h4.6M444.3 187.3v4.6M452.0 179.6h4.6M454.3 177.3v4.6M441.5 189.6h4.6M443.8 187.3v4.6M441.9 191.0h4.6M444.2 188.7v4.6M448.7 182.4h4.6M451.0 180.1v4.6M459.2 172.4h4.6M461.5 170.1v4.6M441.1 191.0h4.6M443.4 188.7v4.6M459.3 181.0h4.6M461.6 178.7v4.6M449.8 182.4h4.6M452.1 180.1v4.6M448.4 188.2h4.6M450.7 185.9v4.6M443.8 188.2h4.6M446.1 185.9v4.6M445.2 185.3h4.6M447.5 183.0v4.6M440.9 191.0h4.6M443.2 188.7v4.6M442.3 192.4h4.6M444.6 190.1v4.6M442.1 189.6h4.6M444.4 187.3v4.6M442.8 188.2h4.6M445.1 185.9v4.6M447.6 189.6h4.6M449.9 187.3v4.6M452.0 181.0h4.6M454.3 178.7v4.6M442.5 186.7h4.6M444.8 184.4v4.6M443.5 185.3h4.6M445.8 183.0v4.6M447.4 179.6h4.6M449.7 177.3v4.6M442.1 191.0h4.6M444.4 188.7v4.6M450.0 182.4h4.6M452.3 180.1v4.6M445.3 188.2h4.6M447.6 185.9v4.6M455.1 186.7h4.6M457.4 184.4v4.6M443.8 191.0h4.6M446.1 188.7v4.6M444.7 186.7h4.6M447.0 184.4v4.6M447.7 178.2h4.6M450.0 175.9v4.6M442.8 188.2h4.6M445.1 185.9v4.6M458.3 181.0h4.6M460.6 178.7v4.6M452.7 188.2h4.6M455.0 185.9v4.6M442.7 189.6h4.6M445.0 187.3v4.6M469.5 173.9h4.6M471.8 171.6v4.6M447.5 191.0h4.6M449.8 188.7v4.6M441.0 186.7h4.6M443.3 184.4v4.6M441.1 192.4h4.6M443.4 190.1v4.6M441.7 191.0h4.6M444.0 188.7v4.6M445.9 185.3h4.6M448.2 183.0v4.6M444.8 179.6h4.6M447.1 177.3v4.6M444.6 185.3h4.6M446.9 183.0v4.6M444.6 192.4h4.6M446.9 190.1v4.6M453.3 182.4h4.6M455.6 180.1v4.6M454.7 178.2h4.6M457.0 175.9v4.6M443.5 191.0h4.6M445.8 188.7v4.6M443.1 191.0h4.6M445.4 188.7v4.6M443.0 189.6h4.6M445.3 187.3v4.6M443.6 191.0h4.6M445.9 188.7v4.6M441.3 191.0h4.6M443.6 188.7v4.6M451.2 185.3h4.6M453.5 183.0v4.6M477.0 172.4h4.6M479.3 170.1v4.6M441.8 189.6h4.6M444.1 187.3v4.6M440.6 185.3h4.6M442.9 183.0v4.6M446.0 176.7h4.6M448.3 174.4v4.6M444.7 188.2h4.6M447.0 185.9v4.6M442.3 188.2h4.6M444.6 185.9v4.6M445.7 189.6h4.6M448.0 187.3v4.6M445.4 189.6h4.6M447.7 187.3v4.6M450.1 188.2h4.6M452.4 185.9v4.6M445.9 185.3h4.6M448.2 183.0v4.6M442.4 185.3h4.6M444.7 183.0v4.6M440.7 185.3h4.6M443.0 183.0v4.6M445.0 171.0h4.6M447.3 168.7v4.6M447.4 185.3h4.6M449.7 183.0v4.6M442.8 188.2h4.6M445.1 185.9v4.6M443.6 191.0h4.6M445.9 188.7v4.6M451.7 185.3h4.6M454.0 183.0v4.6M441.6 191.0h4.6M443.9 188.7v4.6M452.4 181.0h4.6M454.7 178.7v4.6M449.4 179.6h4.6M451.7 177.3v4.6M444.3 192.4h4.6M446.6 190.1v4.6M444.5 186.7h4.6M446.8 184.4v4.6M440.3 188.2h4.6M442.6 185.9v4.6M442.9 188.2h4.6M445.2 185.9v4.6M441.0 189.6h4.6M443.3 187.3v4.6M443.9 189.6h4.6M446.2 187.3v4.6M440.9 189.6h4.6M443.2 187.3v4.6M443.6 183.9h4.6M445.9 181.6v4.6M445.1 189.6h4.6M447.4 187.3v4.6M449.7 175.3h4.6M452.0 173.0v4.6M447.9 189.6h4.6M450.2 187.3v4.6M449.8 183.9h4.6M452.1 181.6v4.6M445.0 183.9h4.6M447.3 181.6v4.6M440.6 192.4h4.6M442.9 190.1v4.6M451.3 185.3h4.6M453.6 183.0v4.6M444.4 182.4h4.6M446.7 180.1v4.6M442.0 191.0h4.6M444.3 188.7v4.6M454.9 182.4h4.6M457.2 180.1v4.6M442.5 188.2h4.6M444.8 185.9v4.6M443.5 191.0h4.6M445.8 188.7v4.6M440.8 188.2h4.6M443.1 185.9v4.6M443.7 189.6h4.6M446.0 187.3v4.6M443.7 189.6h4.6M446.0 187.3v4.6M443.8 191.0h4.6M446.1 188.7v4.6M441.7 186.7h4.6M444.0 184.4v4.6M449.8 186.7h4.6M452.1 184.4v4.6M443.4 189.6h4.6M445.7 187.3v4.6M442.0 191.0h4.6M444.3 188.7v4.6M443.9 186.7h4.6M446.2 184.4v4.6M443.6 185.3h4.6M445.9 183.0v4.6M440.6 192.4h4.6M442.9 190.1v4.6M443.2 191.0h4.6M445.5 188.7v4.6M443.9 189.6h4.6M446.2 187.3v4.6M449.0 186.7h4.6M451.3 184.4v4.6M443.9 189.6h4.6M446.2 187.3v4.6M443.2 192.4h4.6M445.5 190.1v4.6M442.7 192.4h4.6M445.0 190.1v4.6M441.4 181.0h4.6M443.7 178.7v4.6M441.1 189.6h4.6M443.4 187.3v4.6M447.2 188.2h4.6M449.5 185.9v4.6M455.2 183.9h4.6M457.5 181.6v4.6M441.6 192.4h4.6M443.9 190.1v4.6M443.0 188.2h4.6M445.3 185.9v4.6M451.0 179.6h4.6M453.3 177.3v4.6M443.4 189.6h4.6M445.7 187.3v4.6M446.7 186.7h4.6M449.0 184.4v4.6M444.1 188.2h4.6M446.4 185.9v4.6M442.9 181.0h4.6M445.2 178.7v4.6M452.2 185.3h4.6M454.5 183.0v4.6M441.9 191.0h4.6M444.2 188.7v4.6M441.8 191.0h4.6M444.1 188.7v4.6M441.4 189.6h4.6M443.7 187.3v4.6M444.4 188.2h4.6M446.7 185.9v4.6M476.8 171.0h4.6M479.1 168.7v4.6M441.4 192.4h4.6M443.7 190.1v4.6M446.3 182.4h4.6M448.6 180.1v4.6M443.8 186.7h4.6M446.1 184.4v4.6M448.1 189.6h4.6M450.4 187.3v4.6M456.3 189.6h4.6M458.6 187.3v4.6M442.2 191.0h4.6M444.5 188.7v4.6M443.3 181.0h4.6M445.6 178.7v4.6M447.7 178.2h4.6M450.0 175.9v4.6M445.6 191.0h4.6M447.9 188.7v4.6M442.7 189.6h4.6M445.0 187.3v4.6M455.4 165.3h4.6M457.7 163.0v4.6M446.7 188.2h4.6M449.0 185.9v4.6M452.9 182.4h4.6M455.2 180.1v4.6M442.5 192.4h4.6M444.8 190.1v4.6M447.8 186.7h4.6M450.1 184.4v4.6M442.9 192.4h4.6M445.2 190.1v4.6M444.0 183.9h4.6M446.3 181.6v4.6M443.5 191.0h4.6M445.8 188.7v4.6M453.7 173.9h4.6M456.0 171.6v4.6M445.6 189.6h4.6M447.9 187.3v4.6M441.1 189.6h4.6M443.4 187.3v4.6M446.6 183.9h4.6M448.9 181.6v4.6M446.1 186.7h4.6M448.4 184.4v4.6M444.1 188.2h4.6M446.4 185.9v4.6M445.5 191.0h4.6M447.8 188.7v4.6M443.2 185.3h4.6M445.5 183.0v4.6M452.2 183.9h4.6M454.5 181.6v4.6M459.1 181.0h4.6M461.4 178.7v4.6M443.5 179.6h4.6M445.8 177.3v4.6M447.7 178.2h4.6M450.0 175.9v4.6M444.0 189.6h4.6M446.3 187.3v4.6M448.4 191.0h4.6M450.7 188.7v4.6M442.3 191.0h4.6M444.6 188.7v4.6M447.9 186.7h4.6M450.2 184.4v4.6M444.7 186.7h4.6M447.0 184.4v4.6M442.2 191.0h4.6M444.5 188.7v4.6M444.0 189.6h4.6M446.3 187.3v4.6M442.8 183.9h4.6M445.1 181.6v4.6M441.9 192.4h4.6M444.2 190.1v4.6M443.7 188.2h4.6M446.0 185.9v4.6M443.5 178.2h4.6M445.8 175.9v4.6M441.6 189.6h4.6M443.9 187.3v4.6M447.0 185.3h4.6M449.3 183.0v4.6M457.8 181.0h4.6M460.1 178.7v4.6M442.1 192.4h4.6M444.4 190.1v4.6M442.9 191.0h4.6M445.2 188.7v4.6M444.7 189.6h4.6M447.0 187.3v4.6M440.4 192.4h4.6M442.7 190.1v4.6M443.3 186.7h4.6M445.6 184.4v4.6M463.8 171.0h4.6M466.1 168.7v4.6M442.7 192.4h4.6M445.0 190.1v4.6M444.1 191.0h4.6M446.4 188.7v4.6M442.4 192.4h4.6M444.7 190.1v4.6M449.1 178.2h4.6M451.4 175.9v4.6M443.7 185.3h4.6M446.0 183.0v4.6M448.8 179.6h4.6M451.1 177.3v4.6M442.7 191.0h4.6M445.0 188.7v4.6M444.8 189.6h4.6M447.1 187.3v4.6M441.4 192.4h4.6M443.7 190.1v4.6M447.4 173.9h4.6M449.7 171.6v4.6M443.3 182.4h4.6M445.6 180.1v4.6M449.0 191.0h4.6M451.3 188.7v4.6M442.1 183.9h4.6M444.4 181.6v4.6M441.9 191.0h4.6M444.2 188.7v4.6M443.6 188.2h4.6M445.9 185.9v4.6M445.9 189.6h4.6M448.2 187.3v4.6M443.2 192.4h4.6M445.5 190.1v4.6M444.0 188.2h4.6M446.3 185.9v4.6M442.3 189.6h4.6M444.6 187.3v4.6M442.5 192.4h4.6M444.8 190.1v4.6M443.1 189.6h4.6M445.4 187.3v4.6M444.5 192.4h4.6M446.8 190.1v4.6M449.2 188.2h4.6M451.5 185.9v4.6M440.7 192.4h4.6M443.0 190.1v4.6M444.0 185.3h4.6M446.3 183.0v4.6M443.4 186.7h4.6M445.7 184.4v4.6M442.5 188.2h4.6M444.8 185.9v4.6M441.5 191.0h4.6M443.8 188.7v4.6M447.7 186.7h4.6M450.0 184.4v4.6M453.3 172.4h4.6M455.6 170.1v4.6M453.1 183.9h4.6M455.4 181.6v4.6M443.9 192.4h4.6M446.2 190.1v4.6M440.5 192.4h4.6M442.8 190.1v4.6M443.6 188.2h4.6M445.9 185.9v4.6M443.7 183.9h4.6M446.0 181.6v4.6M442.0 192.4h4.6M444.3 190.1v4.6M441.1 192.4h4.6M443.4 190.1v4.6M473.7 161.0h4.6M476.0 158.7v4.6M442.1 188.2h4.6M444.4 185.9v4.6M445.5 189.6h4.6M447.8 187.3v4.6M454.2 178.2h4.6M456.5 175.9v4.6M445.8 189.6h4.6M448.1 187.3v4.6M443.7 185.3h4.6M446.0 183.0v4.6M443.0 192.4h4.6M445.3 190.1v4.6M443.8 181.0h4.6M446.1 178.7v4.6M441.5 188.2h4.6M443.8 185.9v4.6M442.2 189.6h4.6M444.5 187.3v4.6M447.3 188.2h4.6M449.6 185.9v4.6M449.5 186.7h4.6M451.8 184.4v4.6M442.9 189.6h4.6M445.2 187.3v4.6M445.7 185.3h4.6M448.0 183.0v4.6M446.8 182.4h4.6M449.1 180.1v4.6M442.0 192.4h4.6M444.3 190.1v4.6M446.6 189.6h4.6M448.9 187.3v4.6M442.7 192.4h4.6M445.0 190.1v4.6M449.9 186.7h4.6M452.2 184.4v4.6M449.6 179.6h4.6M451.9 177.3v4.6M446.8 188.2h4.6M449.1 185.9v4.6M451.7 173.9h4.6M454.0 171.6v4.6M446.4 183.9h4.6M448.7 181.6v4.6M445.1 189.6h4.6M447.4 187.3v4.6M441.0 192.4h4.6M443.3 190.1v4.6M443.4 189.6h4.6M445.7 187.3v4.6M444.1 189.6h4.6M446.4 187.3v4.6M443.8 189.6h4.6M446.1 187.3v4.6M442.8 192.4h4.6M445.1 190.1v4.6M454.0 176.7h4.6M456.3 174.4v4.6M448.1 171.0h4.6M450.4 168.7v4.6M447.1 191.0h4.6M449.4 188.7v4.6M442.3 186.7h4.6M444.6 184.4v4.6M445.1 189.6h4.6M447.4 187.3v4.6M441.1 192.4h4.6M443.4 190.1v4.6M452.1 181.0h4.6M454.4 178.7v4.6M444.5 189.6h4.6M446.8 187.3v4.6M441.5 192.4h4.6M443.8 190.1v4.6M468.9 183.9h4.6M471.2 181.6v4.6M443.2 189.6h4.6M445.5 187.3v4.6M446.9 186.7h4.6M449.2 184.4v4.6M457.0 159.6h4.6M459.3 157.3v4.6M456.3 175.3h4.6M458.6 173.0v4.6M456.1 173.9h4.6M458.4 171.6v4.6M441.6 191.0h4.6M443.9 188.7v4.6M440.3 185.3h4.6M442.6 183.0v4.6M442.0 189.6h4.6M444.3 187.3v4.6M447.2 182.4h4.6M449.5 180.1v4.6M442.8 188.2h4.6M445.1 185.9v4.6M444.6 186.7h4.6M446.9 184.4v4.6M446.9 189.6h4.6M449.2 187.3v4.6M441.5 188.2h4.6M443.8 185.9v4.6M441.3 192.4h4.6M443.6 190.1v4.6M443.8 192.4h4.6M446.1 190.1v4.6M442.7 188.2h4.6M445.0 185.9v4.6M441.9 189.6h4.6M444.2 187.3v4.6M447.0 188.2h4.6M449.3 185.9v4.6M444.6 189.6h4.6M446.9 187.3v4.6M442.7 189.6h4.6M445.0 187.3v4.6M448.2 188.2h4.6M450.5 185.9v4.6M446.4 188.2h4.6M448.7 185.9v4.6M451.1 182.4h4.6M453.4 180.1v4.6M444.4 185.3h4.6M446.7 183.0v4.6M444.7 192.4h4.6M447.0 190.1v4.6M467.2 186.7h4.6M469.5 184.4v4.6M445.1 188.2h4.6M447.4 185.9v4.6M445.1 186.7h4.6M447.4 184.4v4.6M450.4 185.3h4.6M452.7 183.0v4.6M449.2 188.2h4.6M451.5 185.9v4.6M447.9 179.6h4.6M450.2 177.3v4.6M443.2 191.0h4.6M445.5 188.7v4.6M452.4 188.2h4.6M454.7 185.9v4.6M445.4 183.9h4.6M447.7 181.6v4.6M441.0 192.4h4.6M443.3 190.1v4.6M442.3 188.2h4.6M444.6 185.9v4.6M458.4 179.6h4.6M460.7 177.3v4.6M445.5 188.2h4.6M447.8 185.9v4.6M442.1 192.4h4.6M444.4 190.1v4.6M463.4 181.0h4.6M465.7 178.7v4.6M447.8 185.3h4.6M450.1 183.0v4.6M440.7 191.0h4.6M443.0 188.7v4.6M443.2 191.0h4.6M445.5 188.7v4.6M448.0 191.0h4.6M450.3 188.7v4.6M442.2 189.6h4.6M444.5 187.3v4.6M448.3 189.6h4.6M450.6 187.3v4.6M444.4 183.9h4.6M446.7 181.6v4.6M445.5 186.7h4.6M447.8 184.4v4.6M441.7 191.0h4.6M444.0 188.7v4.6M442.9 191.0h4.6M445.2 188.7v4.6M446.4 186.7h4.6M448.7 184.4v4.6M441.0 191.0h4.6M443.3 188.7v4.6M451.8 173.9h4.6M454.1 171.6v4.6M448.5 188.2h4.6M450.8 185.9v4.6M448.1 183.9h4.6M450.4 181.6v4.6M467.2 181.0h4.6M469.5 178.7v4.6M442.8 185.3h4.6M445.1 183.0v4.6M446.2 183.9h4.6M448.5 181.6v4.6M447.5 189.6h4.6M449.8 187.3v4.6M450.9 185.3h4.6M453.2 183.0v4.6M442.9 185.3h4.6M445.2 183.0v4.6M443.0 191.0h4.6M445.3 188.7v4.6M441.1 192.4h4.6M443.4 190.1v4.6M476.8 162.4h4.6M479.1 160.1v4.6M441.4 188.2h4.6M443.7 185.9v4.6M441.8 185.3h4.6M444.1 183.0v4.6M443.3 186.7h4.6M445.6 184.4v4.6M456.7 179.6h4.6M459.0 177.3v4.6M445.7 186.7h4.6M448.0 184.4v4.6M452.8 181.0h4.6M455.1 178.7v4.6M440.9 192.4h4.6M443.2 190.1v4.6M442.5 188.2h4.6M444.8 185.9v4.6M441.7 192.4h4.6M444.0 190.1v4.6M442.9 191.0h4.6M445.2 188.7v4.6M445.8 186.7h4.6M448.1 184.4v4.6M453.9 178.2h4.6M456.2 175.9v4.6M463.2 179.6h4.6M465.5 177.3v4.6M441.6 189.6h4.6M443.9 187.3v4.6M440.2 191.0h4.6M442.5 188.7v4.6M440.4 173.9h4.6M442.7 171.6v4.6M441.0 192.4h4.6M443.3 190.1v4.6M440.8 191.0h4.6M443.1 188.7v4.6M441.1 189.6h4.6M443.4 187.3v4.6M440.2 185.3h4.6M442.5 183.0v4.6M440.4 192.4h4.6M442.7 190.1v4.6M440.1 175.3h4.6M442.4 173.0v4.6M440.3 188.2h4.6M442.6 185.9v4.6M440.4 175.3h4.6M442.7 173.0v4.6M440.1 192.4h4.6M442.4 190.1v4.6M440.6 189.6h4.6M442.9 187.3v4.6M440.9 176.7h4.6M443.2 174.4v4.6M440.2 169.6h4.6M442.5 167.3v4.6M441.3 189.6h4.6M443.6 187.3v4.6M440.0 189.6h4.6M442.3 187.3v4.6M440.4 191.0h4.6M442.7 188.7v4.6M440.3 179.6h4.6M442.6 177.3v4.6M440.1 189.6h4.6M442.4 187.3v4.6M440.2 192.4h4.6M442.5 190.1v4.6M440.2 192.4h4.6M442.5 190.1v4.6M440.8 189.6h4.6M443.1 187.3v4.6M440.9 191.0h4.6M443.2 188.7v4.6M440.6 189.6h4.6M442.9 187.3v4.6M440.1 192.4h4.6M442.4 190.1v4.6M440.5 189.6h4.6M442.8 187.3v4.6M440.4 186.7h4.6M442.7 184.4v4.6M440.1 183.9h4.6M442.4 181.6v4.6M440.0 188.2h4.6M442.3 185.9v4.6M440.7 186.7h4.6M443.0 184.4v4.6M440.6 182.4h4.6M442.9 180.1v4.6M440.1 185.3h4.6M442.4 183.0v4.6M440.9 179.6h4.6M443.2 177.3v4.6M440.8 178.2h4.6M443.1 175.9v4.6M440.6 191.0h4.6M442.9 188.7v4.6M440.1 192.4h4.6M442.4 190.1v4.6M440.8 188.2h4.6M443.1 185.9v4.6M440.3 181.0h4.6M442.6 178.7v4.6M440.5 155.3h4.6M442.8 153.0v4.6M440.3 191.0h4.6M442.6 188.7v4.6M440.1 188.2h4.6M442.4 185.9v4.6M440.4 173.9h4.6M442.7 171.6v4.6M440.3 182.4h4.6M442.6 180.1v4.6M440.3 178.2h4.6M442.6 175.9v4.6M440.3 192.4h4.6M442.6 190.1v4.6M441.4 189.6h4.6M443.7 187.3v4.6M440.1 191.0h4.6M442.4 188.7v4.6M440.1 186.7h4.6M442.4 184.4v4.6M440.5 182.4h4.6M442.8 180.1v4.6M440.0 189.6h4.6M442.3 187.3v4.6M440.1 188.2h4.6M442.4 185.9v4.6M441.2 189.6h4.6M443.5 187.3v4.6M440.8 179.6h4.6M443.1 177.3v4.6M440.6 188.2h4.6M442.9 185.9v4.6M440.5 175.3h4.6M442.8 173.0v4.6M441.0 188.2h4.6M443.3 185.9v4.6M440.3 181.0h4.6M442.6 178.7v4.6M440.2 192.4h4.6M442.5 190.1v4.6M440.4 183.9h4.6M442.7 181.6v4.6M440.9 175.3h4.6M443.2 173.0v4.6M440.2 168.1h4.6M442.5 165.8v4.6M440.8 191.0h4.6M443.1 188.7v4.6M440.1 163.9h4.6M442.4 161.6v4.6M440.1 186.7h4.6M442.4 184.4v4.6M440.2 186.7h4.6M442.5 184.4v4.6M443.2 191.0h4.6M445.5 188.7v4.6M440.4 171.0h4.6M442.7 168.7v4.6M440.4 189.6h4.6M442.7 187.3v4.6M440.6 168.1h4.6M442.9 165.8v4.6M440.1 175.3h4.6M442.4 173.0v4.6M441.5 191.0h4.6M443.8 188.7v4.6M440.4 169.6h4.6M442.7 167.3v4.6M440.0 169.6h4.6M442.3 167.3v4.6M440.8 191.0h4.6M443.1 188.7v4.6M440.2 183.9h4.6M442.5 181.6v4.6M440.6 165.3h4.6M442.9 163.0v4.6M440.2 178.2h4.6M442.5 175.9v4.6M440.3 188.2h4.6M442.6 185.9v4.6M441.7 192.4h4.6M444.0 190.1v4.6M440.2 188.2h4.6M442.5 185.9v4.6M440.5 192.4h4.6M442.8 190.1v4.6M440.7 182.4h4.6M443.0 180.1v4.6M440.0 183.9h4.6M442.3 181.6v4.6M440.0 191.0h4.6M442.3 188.7v4.6M440.0 189.6h4.6M442.3 187.3v4.6M440.4 182.4h4.6M442.7 180.1v4.6M441.2 181.0h4.6M443.5 178.7v4.6M440.5 175.3h4.6M442.8 173.0v4.6M440.0 191.0h4.6M442.3 188.7v4.6M440.4 192.4h4.6M442.7 190.1v4.6M440.3 192.4h4.6M442.6 190.1v4.6M440.2 181.0h4.6M442.5 178.7v4.6M441.3 192.4h4.6M443.6 190.1v4.6M440.5 179.6h4.6M442.8 177.3v4.6M440.2 186.7h4.6M442.5 184.4v4.6M440.5 165.3h4.6M442.8 163.0v4.6M440.0 171.0h4.6M442.3 168.7v4.6M440.1 188.2h4.6M442.4 185.9v4.6M440.5 182.4h4.6M442.8 180.1v4.6M440.4 189.6h4.6M442.7 187.3v4.6M440.2 191.0h4.6M442.5 188.7v4.6M441.1 188.2h4.6M443.4 185.9v4.6M441.1 191.0h4.6M443.4 188.7v4.6M440.4 192.4h4.6M442.7 190.1v4.6M440.1 192.4h4.6M442.4 190.1v4.6M440.2 151.0h4.6M442.5 148.7v4.6M440.2 191.0h4.6M442.5 188.7v4.6M440.0 185.3h4.6M442.3 183.0v4.6M440.1 179.6h4.6M442.4 177.3v4.6M440.8 183.9h4.6M443.1 181.6v4.6M440.1 188.2h4.6M442.4 185.9v4.6M440.3 176.7h4.6M442.6 174.4v4.6M440.2 191.0h4.6M442.5 188.7v4.6M440.6 183.9h4.6M442.9 181.6v4.6M440.6 175.3h4.6M442.9 173.0v4.6M440.2 182.4h4.6M442.5 180.1v4.6M440.0 188.2h4.6M442.3 185.9v4.6M440.0 191.0h4.6M442.3 188.7v4.6M440.2 178.2h4.6M442.5 175.9v4.6M440.1 162.4h4.6M442.4 160.1v4.6M440.2 175.3h4.6M442.5 173.0v4.6M440.1 189.6h4.6M442.4 187.3v4.6M440.2 169.6h4.6M442.5 167.3v4.6M440.5 188.2h4.6M442.8 185.9v4.6M440.2 183.9h4.6M442.5 181.6v4.6M440.9 166.7h4.6M443.2 164.4v4.6M440.0 188.2h4.6M442.3 185.9v4.6M440.1 188.2h4.6M442.4 185.9v4.6M441.4 186.7h4.6M443.7 184.4v4.6M440.1 192.4h4.6M442.4 190.1v4.6M440.1 163.9h4.6M442.4 161.6v4.6M440.2 162.4h4.6M442.5 160.1v4.6M441.7 181.0h4.6M444.0 178.7v4.6M440.6 183.9h4.6M442.9 181.6v4.6M440.1 192.4h4.6M442.4 190.1v4.6M440.1 192.4h4.6M442.4 190.1v4.6M440.2 166.7h4.6M442.5 164.4v4.6M440.4 189.6h4.6M442.7 187.3v4.6M440.2 189.6h4.6M442.5 187.3v4.6M440.0 181.0h4.6M442.3 178.7v4.6M440.2 188.2h4.6M442.5 185.9v4.6M440.1 191.0h4.6M442.4 188.7v4.6M440.1 169.6h4.6M442.4 167.3v4.6M440.3 182.4h4.6M442.6 180.1v4.6M440.3 186.7h4.6M442.6 184.4v4.6M440.6 176.7h4.6M442.9 174.4v4.6M440.0 173.9h4.6M442.3 171.6v4.6M440.2 188.2h4.6M442.5 185.9v4.6M440.8 176.7h4.6M443.1 174.4v4.6M440.6 191.0h4.6M442.9 188.7v4.6M440.4 192.4h4.6M442.7 190.1v4.6M440.3 182.4h4.6M442.6 180.1v4.6M440.3 183.9h4.6M442.6 181.6v4.6M440.1 185.3h4.6M442.4 183.0v4.6M440.1 192.4h4.6M442.4 190.1v4.6M440.6 188.2h4.6M442.9 185.9v4.6M440.1 178.2h4.6M442.4 175.9v4.6M440.6 175.3h4.6M442.9 173.0v4.6M440.3 188.2h4.6M442.6 185.9v4.6M440.1 183.9h4.6M442.4 181.6v4.6M440.4 189.6h4.6M442.7 187.3v4.6M440.2 165.3h4.6M442.5 163.0v4.6M440.1 189.6h4.6M442.4 187.3v4.6M440.0 192.4h4.6M442.3 190.1v4.6M440.6 191.0h4.6M442.9 188.7v4.6M440.2 168.1h4.6M442.5 165.8v4.6M440.1 189.6h4.6M442.4 187.3v4.6M440.3 183.9h4.6M442.6 181.6v4.6M440.4 176.7h4.6M442.7 174.4v4.6M440.1 192.4h4.6M442.4 190.1v4.6M518.7 120.5h4.6M521.0 118.2v4.6M523.3 123.4h4.6M525.6 121.1v4.6M542.8 116.1h4.6M545.1 113.8v4.6M571.1 116.1h4.6M573.4 113.8v4.6M493.3 133.6h4.6M495.6 131.3v4.6M520.7 136.1h4.6M523.0 133.8v4.6M530.2 136.1h4.6M532.5 133.8v4.6M530.7 144.8h4.6M533.0 142.5v4.6M496.6 143.4h4.6M498.9 141.1v4.6M500.3 146.2h4.6M502.6 143.9v4.6M498.2 150.0h4.6M500.5 147.7v4.6M487.2 147.9h4.6M489.5 145.6v4.6M487.9 153.3h4.6M490.2 151.0v4.6M508.0 154.9h4.6M510.3 152.6v4.6M478.5 153.3h4.6M480.8 151.0v4.6M491.6 166.4h4.6M493.9 164.1v4.6M489.5 170.5h4.6M491.8 168.2v4.6M485.1 174.6h4.6M487.4 172.3v4.6M487.5 162.3h4.6M489.8 160.0v4.6M481.0 159.8h4.6M483.3 157.5v4.6M481.0 177.0h4.6M483.3 174.7v4.6M460.8 156.4h4.6M463.1 154.1v4.6M439.4 140.5h4.6M441.7 138.2v4.6M443.5 149.5h4.6M445.8 147.2v4.6M448.1 149.5h4.6M450.4 147.2v4.6M473.1 192.2h4.6M475.4 189.9v4.6M585.1 61.9h4.6M587.4 59.6v4.6M663.8 66.0h4.6M666.1 63.7v4.6M474.5 153.5h4.6M476.8 151.2v4.6M478.2 153.5h4.6M480.5 151.2v4.6" stroke="#2c6f8d" stroke-width="1.05" fill="none"/>
<line x1="442.5" y1="192.45" x2="665.7" y2="40.2" stroke="#5a1a70" stroke-width="1.1"/>
<path d="M442.5 20.9 H681.5 V192.45 H442.5 Z" fill="none" stroke="#5a5a5a" stroke-width="1"/>
<text x="0.00" y="0.00" font-size="9.0" text-anchor="end" textLength="5.51" lengthAdjust="spacingAndGlyphs" transform="translate(448.20 200.45) rotate(-45)">0</text>
<text x="0.00" y="0.00" font-size="9.0" text-anchor="end" textLength="30.28" lengthAdjust="spacingAndGlyphs" transform="translate(476.57 200.45) rotate(-45)">10,000</text>
<text x="0.00" y="0.00" font-size="9.0" text-anchor="end" textLength="30.28" lengthAdjust="spacingAndGlyphs" transform="translate(506.45 200.45) rotate(-45)">20,000</text>
<text x="0.00" y="0.00" font-size="9.0" text-anchor="end" textLength="30.28" lengthAdjust="spacingAndGlyphs" transform="translate(536.33 200.45) rotate(-45)">30,000</text>
<text x="0.00" y="0.00" font-size="9.0" text-anchor="end" textLength="30.28" lengthAdjust="spacingAndGlyphs" transform="translate(566.20 200.45) rotate(-45)">40,000</text>
<text x="0.00" y="0.00" font-size="9.0" text-anchor="end" textLength="30.28" lengthAdjust="spacingAndGlyphs" transform="translate(596.08 200.45) rotate(-45)">50,000</text>
<text x="0.00" y="0.00" font-size="9.0" text-anchor="end" textLength="30.28" lengthAdjust="spacingAndGlyphs" transform="translate(625.95 200.45) rotate(-45)">60,000</text>
<text x="0.00" y="0.00" font-size="9.0" text-anchor="end" textLength="30.28" lengthAdjust="spacingAndGlyphs" transform="translate(655.83 200.45) rotate(-45)">70,000</text>
<text x="0.00" y="0.00" font-size="9.0" text-anchor="end" textLength="30.28" lengthAdjust="spacingAndGlyphs" transform="translate(685.70 200.45) rotate(-45)">80,000</text>
<text x="437.40" y="195.75" font-size="9.2" text-anchor="end" textLength="5.12" lengthAdjust="spacingAndGlyphs">0</text>
<text x="437.40" y="167.16" font-size="9.2" text-anchor="end" textLength="10.23" lengthAdjust="spacingAndGlyphs">20</text>
<text x="437.40" y="138.57" font-size="9.2" text-anchor="end" textLength="10.23" lengthAdjust="spacingAndGlyphs">40</text>
<text x="437.40" y="109.97" font-size="9.2" text-anchor="end" textLength="10.23" lengthAdjust="spacingAndGlyphs">60</text>
<text x="437.40" y="81.38" font-size="9.2" text-anchor="end" textLength="10.23" lengthAdjust="spacingAndGlyphs">80</text>
<text x="437.40" y="52.79" font-size="9.2" text-anchor="end" textLength="15.35" lengthAdjust="spacingAndGlyphs">100</text>
<text x="437.40" y="24.20" font-size="9.2" text-anchor="end" textLength="15.35" lengthAdjust="spacingAndGlyphs">120</text>
<text x="0.00" y="0.00" font-size="10.1" text-anchor="middle" textLength="112.30" lengthAdjust="spacingAndGlyphs" transform="translate(400.00 102.35) rotate(-90)">Number of Ped reads in</text>
<text x="0.00" y="0.00" font-size="10.1" text-anchor="middle" textLength="70.90" lengthAdjust="spacingAndGlyphs" transform="translate(412.20 102.55) rotate(-90)">the Col rosette</text>
<text x="474.60" y="236.10" font-size="10.2" textLength="174.20" lengthAdjust="spacingAndGlyphs">Number of Ped reads in the Ped root</text>
<path d="M450.3 30.8h4M452.3 28.8v4" stroke="#2c6f8d" stroke-width="1.1"/>
<line x1="448.00" y1="43.50" x2="457.00" y2="43.50" stroke="#7a3a90" stroke-width="1"/>
<text x="462.20" y="34.20" font-size="9.9" textLength="21.00" lengthAdjust="spacingAndGlyphs">Data</text>
<text x="462.20" y="46.60" font-size="9.9" textLength="40.60" lengthAdjust="spacingAndGlyphs">Linear fit</text>
<line x1="482.33" y1="437.30" x2="482.33" y2="433.70" stroke="#555" stroke-width="0.8"/>
<line x1="522.17" y1="437.30" x2="522.17" y2="433.70" stroke="#555" stroke-width="0.8"/>
<line x1="562.00" y1="437.30" x2="562.00" y2="433.70" stroke="#555" stroke-width="0.8"/>
<line x1="601.83" y1="437.30" x2="601.83" y2="433.70" stroke="#555" stroke-width="0.8"/>
<line x1="641.67" y1="437.30" x2="641.67" y2="433.70" stroke="#555" stroke-width="0.8"/>
<line x1="442.50" y1="412.76" x2="446.10" y2="412.76" stroke="#555" stroke-width="0.8"/>
<line x1="442.50" y1="388.21" x2="446.10" y2="388.21" stroke="#555" stroke-width="0.8"/>
<line x1="442.50" y1="363.67" x2="446.10" y2="363.67" stroke="#555" stroke-width="0.8"/>
<line x1="442.50" y1="339.13" x2="446.10" y2="339.13" stroke="#555" stroke-width="0.8"/>
<line x1="442.50" y1="314.59" x2="446.10" y2="314.59" stroke="#555" stroke-width="0.8"/>
<line x1="442.50" y1="290.04" x2="446.10" y2="290.04" stroke="#555" stroke-width="0.8"/>
<path d="M441.7 428.5h4.6M444.0 426.2v4.6M441.5 436.8h4.6M443.8 434.5v4.6M441.6 436.8h4.6M443.9 434.5v4.6M461.0 433.4h4.6M463.3 431.1v4.6M448.9 432.4h4.6M451.2 430.1v4.6M443.4 437.3h4.6M445.7 435.0v4.6M443.4 434.8h4.6M445.7 432.5v4.6M464.8 427.0h4.6M467.1 424.7v4.6M450.7 420.6h4.6M453.0 418.3v4.6M442.0 436.8h4.6M444.3 434.5v4.6M442.0 437.3h4.6M444.3 435.0v4.6M455.3 415.7h4.6M457.6 413.4v4.6M458.8 426.0h4.6M461.1 423.7v4.6M443.1 435.3h4.6M445.4 433.0v4.6M447.8 430.4h4.6M450.1 428.1v4.6M441.5 436.8h4.6M443.8 434.5v4.6M441.9 435.8h4.6M444.2 433.5v4.6M443.5 435.8h4.6M445.8 433.5v4.6M448.4 433.4h4.6M450.7 431.1v4.6M442.9 436.3h4.6M445.2 434.0v4.6M443.5 436.3h4.6M445.8 434.0v4.6M453.9 429.0h4.6M456.2 426.7v4.6M443.5 426.5h4.6M445.8 424.2v4.6M440.9 436.3h4.6M443.2 434.0v4.6M441.9 434.8h4.6M444.2 432.5v4.6M453.5 425.0h4.6M455.8 422.7v4.6M443.6 434.8h4.6M445.9 432.5v4.6M450.5 430.9h4.6M452.8 428.6v4.6M446.7 431.4h4.6M449.0 429.1v4.6M444.0 435.8h4.6M446.3 433.5v4.6M447.4 434.8h4.6M449.7 432.5v4.6M446.7 431.4h4.6M449.0 429.1v4.6M446.9 429.9h4.6M449.2 427.6v4.6M451.3 429.4h4.6M453.6 427.1v4.6M447.8 426.0h4.6M450.1 423.7v4.6M443.9 435.3h4.6M446.2 433.0v4.6M443.4 435.3h4.6M445.7 433.0v4.6M441.9 436.3h4.6M444.2 434.0v4.6M441.3 436.3h4.6M443.6 434.0v4.6M475.7 421.6h4.6M478.0 419.3v4.6M446.3 429.4h4.6M448.6 427.1v4.6M442.2 436.3h4.6M444.5 434.0v4.6M449.4 431.4h4.6M451.7 429.1v4.6M445.3 434.4h4.6M447.6 432.1v4.6M447.6 434.4h4.6M449.9 432.1v4.6M449.5 432.9h4.6M451.8 430.6v4.6M446.0 427.0h4.6M448.3 424.7v4.6M446.3 429.0h4.6M448.6 426.7v4.6M454.4 434.4h4.6M456.7 432.1v4.6M441.8 435.8h4.6M444.1 433.5v4.6M443.4 435.8h4.6M445.7 433.5v4.6M452.2 434.4h4.6M454.5 432.1v4.6M448.9 428.5h4.6M451.2 426.2v4.6M449.2 434.4h4.6M451.5 432.1v4.6M442.6 433.4h4.6M444.9 431.1v4.6M440.9 437.3h4.6M443.2 435.0v4.6M441.3 430.4h4.6M443.6 428.1v4.6M441.9 435.8h4.6M444.2 433.5v4.6M446.6 435.3h4.6M448.9 433.0v4.6M444.0 436.3h4.6M446.3 434.0v4.6M446.5 433.9h4.6M448.8 431.6v4.6M443.7 433.9h4.6M446.0 431.6v4.6M442.0 435.3h4.6M444.3 433.0v4.6M443.6 435.8h4.6M445.9 433.5v4.6M445.7 432.4h4.6M448.0 430.1v4.6M452.3 432.9h4.6M454.6 430.6v4.6M441.8 428.5h4.6M444.1 426.2v4.6M450.4 434.4h4.6M452.7 432.1v4.6M441.2 436.3h4.6M443.5 434.0v4.6M444.5 434.8h4.6M446.8 432.5v4.6M453.3 432.9h4.6M455.6 430.6v4.6M441.6 435.3h4.6M443.9 433.0v4.6M442.1 432.4h4.6M444.4 430.1v4.6M451.5 430.4h4.6M453.8 428.1v4.6M458.4 424.0h4.6M460.7 421.7v4.6M444.5 436.3h4.6M446.8 434.0v4.6M451.7 429.9h4.6M454.0 427.6v4.6M450.2 432.9h4.6M452.5 430.6v4.6M444.6 426.0h4.6M446.9 423.7v4.6M441.9 429.4h4.6M444.2 427.1v4.6M443.3 433.9h4.6M445.6 431.6v4.6M441.6 432.4h4.6M443.9 430.1v4.6M441.0 435.3h4.6M443.3 433.0v4.6M453.9 429.0h4.6M456.2 426.7v4.6M458.0 427.5h4.6M460.3 425.2v4.6M442.7 433.4h4.6M445.0 431.1v4.6M444.9 436.3h4.6M447.2 434.0v4.6M441.9 436.3h4.6M444.2 434.0v4.6M442.7 435.8h4.6M445.0 433.5v4.6M441.5 434.4h4.6M443.8 432.1v4.6M484.2 412.8h4.6M486.5 410.5v4.6M444.9 431.4h4.6M447.2 429.1v4.6M448.4 431.4h4.6M450.7 429.1v4.6M454.2 430.9h4.6M456.5 428.6v4.6M442.5 436.8h4.6M444.8 434.5v4.6M441.9 432.9h4.6M444.2 430.6v4.6M454.4 431.9h4.6M456.7 429.6v4.6M446.3 429.0h4.6M448.6 426.7v4.6M444.2 436.3h4.6M446.5 434.0v4.6M447.7 432.4h4.6M450.0 430.1v4.6M443.2 433.9h4.6M445.5 431.6v4.6M442.5 435.8h4.6M444.8 433.5v4.6M443.2 435.8h4.6M445.5 433.5v4.6M447.6 432.4h4.6M449.9 430.1v4.6M452.7 433.4h4.6M455.0 431.1v4.6M454.4 427.0h4.6M456.7 424.7v4.6M446.4 432.9h4.6M448.7 430.6v4.6M443.4 432.9h4.6M445.7 430.6v4.6M442.5 434.8h4.6M444.8 432.5v4.6M443.3 434.8h4.6M445.6 432.5v4.6M441.4 437.3h4.6M443.7 435.0v4.6M452.6 429.0h4.6M454.9 426.7v4.6M455.9 431.4h4.6M458.2 429.1v4.6M468.9 423.6h4.6M471.2 421.3v4.6M440.9 437.3h4.6M443.2 435.0v4.6M446.7 426.0h4.6M449.0 423.7v4.6M449.9 433.9h4.6M452.2 431.6v4.6M445.0 433.9h4.6M447.3 431.6v4.6M442.0 433.4h4.6M444.3 431.1v4.6M446.2 435.3h4.6M448.5 433.0v4.6M441.0 434.4h4.6M443.3 432.1v4.6M442.8 435.8h4.6M445.1 433.5v4.6M447.7 431.9h4.6M450.0 429.6v4.6M445.5 433.9h4.6M447.8 431.6v4.6M441.8 436.3h4.6M444.1 434.0v4.6M451.4 430.4h4.6M453.7 428.1v4.6M441.7 435.8h4.6M444.0 433.5v4.6M442.6 436.3h4.6M444.9 434.0v4.6M446.3 428.0h4.6M448.6 425.7v4.6M451.4 431.4h4.6M453.7 429.1v4.6M448.2 428.5h4.6M450.5 426.2v4.6M445.1 431.4h4.6M447.4 429.1v4.6M452.1 432.9h4.6M454.4 430.6v4.6M444.2 434.8h4.6M446.5 432.5v4.6M441.7 435.8h4.6M444.0 433.5v4.6M457.3 425.0h4.6M459.6 422.7v4.6M456.4 429.9h4.6M458.7 427.6v4.6M447.1 431.9h4.6M449.4 429.6v4.6M440.6 437.3h4.6M442.9 435.0v4.6M445.2 432.9h4.6M447.5 430.6v4.6M441.5 436.8h4.6M443.8 434.5v4.6M446.8 435.3h4.6M449.1 433.0v4.6M446.0 435.8h4.6M448.3 433.5v4.6M441.4 437.3h4.6M443.7 435.0v4.6M449.9 430.4h4.6M452.2 428.1v4.6M443.5 434.8h4.6M445.8 432.5v4.6M444.6 436.3h4.6M446.9 434.0v4.6M442.2 429.9h4.6M444.5 427.6v4.6M443.5 436.8h4.6M445.8 434.5v4.6M446.0 436.8h4.6M448.3 434.5v4.6M457.6 428.5h4.6M459.9 426.2v4.6M444.5 434.4h4.6M446.8 432.1v4.6M453.7 425.5h4.6M456.0 423.2v4.6M444.1 430.4h4.6M446.4 428.1v4.6M440.5 437.3h4.6M442.8 435.0v4.6M443.0 434.8h4.6M445.3 432.5v4.6M443.9 429.4h4.6M446.2 427.1v4.6M444.6 433.4h4.6M446.9 431.1v4.6M451.4 431.4h4.6M453.7 429.1v4.6M445.2 422.1h4.6M447.5 419.8v4.6M449.7 434.4h4.6M452.0 432.1v4.6M441.1 435.8h4.6M443.4 433.5v4.6M443.9 435.3h4.6M446.2 433.0v4.6M446.6 432.9h4.6M448.9 430.6v4.6M443.4 430.4h4.6M445.7 428.1v4.6M442.6 436.8h4.6M444.9 434.5v4.6M458.9 430.4h4.6M461.2 428.1v4.6M450.7 430.4h4.6M453.0 428.1v4.6M443.7 428.5h4.6M446.0 426.2v4.6M441.4 436.8h4.6M443.7 434.5v4.6M448.7 432.9h4.6M451.0 430.6v4.6M452.0 431.9h4.6M454.3 429.6v4.6M443.4 432.4h4.6M445.7 430.1v4.6M447.3 432.4h4.6M449.6 430.1v4.6M442.7 434.8h4.6M445.0 432.5v4.6M443.2 435.8h4.6M445.5 433.5v4.6M443.8 433.9h4.6M446.1 431.6v4.6M445.0 432.4h4.6M447.3 430.1v4.6M445.6 435.3h4.6M447.9 433.0v4.6M443.4 432.4h4.6M445.7 430.1v4.6M445.1 436.8h4.6M447.4 434.5v4.6M447.0 433.9h4.6M449.3 431.6v4.6M441.6 434.8h4.6M443.9 432.5v4.6M455.4 428.0h4.6M457.7 425.7v4.6M443.4 430.4h4.6M445.7 428.1v4.6M448.1 432.9h4.6M450.4 430.6v4.6M467.5 419.6h4.6M469.8 417.3v4.6M448.5 435.3h4.6M450.8 433.0v4.6M445.3 432.9h4.6M447.6 430.6v4.6M442.0 436.8h4.6M444.3 434.5v4.6M445.3 434.8h4.6M447.6 432.5v4.6M443.1 435.8h4.6M445.4 433.5v4.6M443.5 436.3h4.6M445.8 434.0v4.6M441.6 436.8h4.6M443.9 434.5v4.6M441.8 433.4h4.6M444.1 431.1v4.6M446.0 434.4h4.6M448.3 432.1v4.6M450.5 430.4h4.6M452.8 428.1v4.6M443.7 434.4h4.6M446.0 432.1v4.6M457.9 425.5h4.6M460.2 423.2v4.6M448.7 428.5h4.6M451.0 426.2v4.6M443.4 436.8h4.6M445.7 434.5v4.6M444.0 436.3h4.6M446.3 434.0v4.6M442.8 435.3h4.6M445.1 433.0v4.6M441.1 437.3h4.6M443.4 435.0v4.6M459.3 429.4h4.6M461.6 427.1v4.6M443.9 433.4h4.6M446.2 431.1v4.6M442.4 436.3h4.6M444.7 434.0v4.6M441.6 434.4h4.6M443.9 432.1v4.6M454.4 425.5h4.6M456.7 423.2v4.6M443.0 434.8h4.6M445.3 432.5v4.6M445.9 432.9h4.6M448.2 430.6v4.6M478.6 416.7h4.6M480.9 414.4v4.6M457.6 429.9h4.6M459.9 427.6v4.6M442.0 434.4h4.6M444.3 432.1v4.6M442.2 435.3h4.6M444.5 433.0v4.6M447.5 434.4h4.6M449.8 432.1v4.6M441.3 437.3h4.6M443.6 435.0v4.6M443.2 432.4h4.6M445.5 430.1v4.6M442.5 435.8h4.6M444.8 433.5v4.6M442.6 435.8h4.6M444.9 433.5v4.6M444.4 434.8h4.6M446.7 432.5v4.6M447.9 435.3h4.6M450.2 433.0v4.6M442.7 434.8h4.6M445.0 432.5v4.6M441.4 434.8h4.6M443.7 432.5v4.6M446.7 433.9h4.6M449.0 431.6v4.6M444.4 435.3h4.6M446.7 433.0v4.6M444.9 434.8h4.6M447.2 432.5v4.6M446.1 433.4h4.6M448.4 431.1v4.6M446.4 433.4h4.6M448.7 431.1v4.6M447.2 435.3h4.6M449.5 433.0v4.6M447.2 430.9h4.6M449.5 428.6v4.6M444.1 432.4h4.6M446.4 430.1v4.6M442.4 436.8h4.6M444.7 434.5v4.6M447.6 433.9h4.6M449.9 431.6v4.6M443.8 433.9h4.6M446.1 431.6v4.6M447.2 434.4h4.6M449.5 432.1v4.6M457.6 421.6h4.6M459.9 419.3v4.6M442.1 435.8h4.6M444.4 433.5v4.6M444.1 432.4h4.6M446.4 430.1v4.6M446.1 431.4h4.6M448.4 429.1v4.6M447.0 434.4h4.6M449.3 432.1v4.6M441.6 433.9h4.6M443.9 431.6v4.6M459.6 425.5h4.6M461.9 423.2v4.6M442.3 433.4h4.6M444.6 431.1v4.6M446.0 429.4h4.6M448.3 427.1v4.6M444.4 435.8h4.6M446.7 433.5v4.6M443.0 435.3h4.6M445.3 433.0v4.6M452.1 433.4h4.6M454.4 431.1v4.6M445.1 429.0h4.6M447.4 426.7v4.6M443.9 434.4h4.6M446.2 432.1v4.6M444.3 432.4h4.6M446.6 430.1v4.6M442.3 436.3h4.6M444.6 434.0v4.6M445.1 433.4h4.6M447.4 431.1v4.6M457.3 423.1h4.6M459.6 420.8v4.6M447.7 434.8h4.6M450.0 432.5v4.6M448.4 435.3h4.6M450.7 433.0v4.6M442.8 432.9h4.6M445.1 430.6v4.6M441.2 437.3h4.6M443.5 435.0v4.6M447.5 428.5h4.6M449.8 426.2v4.6M444.1 433.9h4.6M446.4 431.6v4.6M455.9 431.9h4.6M458.2 429.6v4.6M442.0 436.3h4.6M444.3 434.0v4.6M447.9 430.4h4.6M450.2 428.1v4.6M456.6 426.0h4.6M458.9 423.7v4.6M446.7 429.4h4.6M449.0 427.1v4.6M445.0 429.0h4.6M447.3 426.7v4.6M442.6 437.3h4.6M444.9 435.0v4.6M444.1 428.5h4.6M446.4 426.2v4.6M455.9 429.9h4.6M458.2 427.6v4.6M441.1 437.3h4.6M443.4 435.0v4.6M447.0 429.4h4.6M449.3 427.1v4.6M444.7 431.9h4.6M447.0 429.6v4.6M468.8 421.1h4.6M471.1 418.8v4.6M442.6 437.3h4.6M444.9 435.0v4.6M450.2 425.5h4.6M452.5 423.2v4.6M447.5 433.4h4.6M449.8 431.1v4.6M448.0 429.9h4.6M450.3 427.6v4.6M474.5 415.7h4.6M476.8 413.4v4.6M442.0 435.3h4.6M444.3 433.0v4.6M442.9 435.3h4.6M445.2 433.0v4.6M447.5 433.4h4.6M449.8 431.1v4.6M441.7 437.3h4.6M444.0 435.0v4.6M455.0 423.1h4.6M457.3 420.8v4.6M441.4 437.3h4.6M443.7 435.0v4.6M463.5 422.6h4.6M465.8 420.3v4.6M446.5 431.4h4.6M448.8 429.1v4.6M460.4 423.1h4.6M462.7 420.8v4.6M441.0 433.9h4.6M443.3 431.6v4.6M442.3 436.8h4.6M444.6 434.5v4.6M443.6 436.8h4.6M445.9 434.5v4.6M443.0 437.3h4.6M445.3 435.0v4.6M443.6 436.8h4.6M445.9 434.5v4.6M446.7 431.4h4.6M449.0 429.1v4.6M444.5 435.8h4.6M446.8 433.5v4.6M451.4 431.4h4.6M453.7 429.1v4.6M472.2 418.2h4.6M474.5 415.9v4.6M444.7 428.5h4.6M447.0 426.2v4.6M448.2 431.4h4.6M450.5 429.1v4.6M446.0 433.9h4.6M448.3 431.6v4.6M443.2 431.9h4.6M445.5 429.6v4.6M441.8 428.5h4.6M444.1 426.2v4.6M455.9 422.6h4.6M458.2 420.3v4.6M445.0 435.8h4.6M447.3 433.5v4.6M442.4 436.8h4.6M444.7 434.5v4.6M446.5 432.9h4.6M448.8 430.6v4.6M445.0 433.9h4.6M447.3 431.6v4.6M444.2 435.8h4.6M446.5 433.5v4.6M443.1 431.4h4.6M445.4 429.1v4.6M460.3 426.0h4.6M462.6 423.7v4.6M443.2 418.2h4.6M445.5 415.9v4.6M448.5 431.9h4.6M450.8 429.6v4.6M441.9 437.3h4.6M444.2 435.0v4.6M452.4 433.9h4.6M454.7 431.6v4.6M440.9 434.8h4.6M443.2 432.5v4.6M446.8 432.4h4.6M449.1 430.1v4.6M442.4 431.4h4.6M444.7 429.1v4.6M444.0 408.8h4.6M446.3 406.5v4.6M453.8 427.0h4.6M456.1 424.7v4.6M445.1 435.3h4.6M447.4 433.0v4.6M443.9 435.3h4.6M446.2 433.0v4.6M441.4 436.3h4.6M443.7 434.0v4.6M456.4 427.5h4.6M458.7 425.2v4.6M441.2 435.8h4.6M443.5 433.5v4.6M443.8 434.8h4.6M446.1 432.5v4.6M447.8 434.8h4.6M450.1 432.5v4.6M448.1 434.4h4.6M450.4 432.1v4.6M441.9 434.4h4.6M444.2 432.1v4.6M446.4 429.9h4.6M448.7 427.6v4.6M446.1 434.4h4.6M448.4 432.1v4.6M450.1 420.1h4.6M452.4 417.8v4.6M445.3 434.4h4.6M447.6 432.1v4.6M443.7 434.8h4.6M446.0 432.5v4.6M448.5 433.4h4.6M450.8 431.1v4.6M461.8 426.0h4.6M464.1 423.7v4.6M442.4 436.3h4.6M444.7 434.0v4.6M454.7 424.0h4.6M457.0 421.7v4.6M450.5 427.5h4.6M452.8 425.2v4.6M448.7 428.5h4.6M451.0 426.2v4.6M455.7 427.5h4.6M458.0 425.2v4.6M459.5 425.5h4.6M461.8 423.2v4.6M447.7 426.0h4.6M450.0 423.7v4.6M442.1 434.8h4.6M444.4 432.5v4.6M442.0 436.8h4.6M444.3 434.5v4.6M449.3 418.2h4.6M451.6 415.9v4.6M485.0 402.9h4.6M487.3 400.6v4.6M445.1 432.4h4.6M447.4 430.1v4.6M444.1 436.8h4.6M446.4 434.5v4.6M455.9 424.5h4.6M458.2 422.2v4.6M454.1 421.6h4.6M456.4 419.3v4.6M441.6 436.3h4.6M443.9 434.0v4.6M445.0 431.4h4.6M447.3 429.1v4.6M444.1 433.4h4.6M446.4 431.1v4.6M457.4 432.4h4.6M459.7 430.1v4.6M459.6 425.5h4.6M461.9 423.2v4.6M446.0 433.4h4.6M448.3 431.1v4.6M443.7 436.3h4.6M446.0 434.0v4.6M442.0 431.9h4.6M444.3 429.6v4.6M443.8 428.0h4.6M446.1 425.7v4.6M453.3 430.4h4.6M455.6 428.1v4.6M445.0 434.4h4.6M447.3 432.1v4.6M445.1 436.3h4.6M447.4 434.0v4.6M445.3 429.0h4.6M447.6 426.7v4.6M442.8 437.3h4.6M445.1 435.0v4.6M443.3 435.3h4.6M445.6 433.0v4.6M444.5 433.9h4.6M446.8 431.6v4.6M447.3 432.9h4.6M449.6 430.6v4.6M441.7 436.8h4.6M444.0 434.5v4.6M445.4 428.5h4.6M447.7 426.2v4.6M445.0 434.8h4.6M447.3 432.5v4.6M444.1 437.3h4.6M446.4 435.0v4.6M441.3 434.8h4.6M443.6 432.5v4.6M442.0 435.3h4.6M444.3 433.0v4.6M448.2 431.4h4.6M450.5 429.1v4.6M443.4 436.8h4.6M445.7 434.5v4.6M448.6 432.9h4.6M450.9 430.6v4.6M467.3 429.4h4.6M469.6 427.1v4.6M441.4 430.9h4.6M443.7 428.6v4.6M442.1 436.3h4.6M444.4 434.0v4.6M444.2 433.4h4.6M446.5 431.1v4.6M452.6 418.2h4.6M454.9 415.9v4.6M444.6 431.4h4.6M446.9 429.1v4.6M445.2 430.4h4.6M447.5 428.1v4.6M443.0 432.9h4.6M445.3 430.6v4.6M445.8 435.8h4.6M448.1 433.5v4.6M441.8 434.4h4.6M444.1 432.1v4.6M441.7 435.8h4.6M444.0 433.5v4.6M440.3 435.3h4.6M442.6 433.0v4.6M440.5 437.3h4.6M442.8 435.0v4.6M444.3 433.9h4.6M446.6 431.6v4.6M449.3 430.9h4.6M451.6 428.6v4.6M446.3 431.9h4.6M448.6 429.6v4.6M444.9 435.8h4.6M447.2 433.5v4.6M446.1 433.4h4.6M448.4 431.1v4.6M466.5 424.0h4.6M468.8 421.7v4.6M444.3 431.9h4.6M446.6 429.6v4.6M441.3 435.8h4.6M443.6 433.5v4.6M443.1 436.3h4.6M445.4 434.0v4.6M449.6 433.4h4.6M451.9 431.1v4.6M441.7 436.8h4.6M444.0 434.5v4.6M445.8 430.9h4.6M448.1 428.6v4.6M442.4 433.4h4.6M444.7 431.1v4.6M441.9 437.3h4.6M444.2 435.0v4.6M447.4 433.9h4.6M449.7 431.6v4.6M446.7 429.4h4.6M449.0 427.1v4.6M445.5 430.9h4.6M447.8 428.6v4.6M443.2 434.4h4.6M445.5 432.1v4.6M449.5 430.4h4.6M451.8 428.1v4.6M444.8 435.3h4.6M447.1 433.0v4.6M442.3 436.3h4.6M444.6 434.0v4.6M444.6 430.9h4.6M446.9 428.6v4.6M460.4 426.0h4.6M462.7 423.7v4.6M443.8 436.3h4.6M446.1 434.0v4.6M449.1 431.9h4.6M451.4 429.6v4.6M441.9 433.9h4.6M444.2 431.6v4.6M443.8 434.4h4.6M446.1 432.1v4.6M450.5 430.4h4.6M452.8 428.1v4.6M444.3 433.9h4.6M446.6 431.6v4.6M441.5 436.8h4.6M443.8 434.5v4.6M443.4 433.4h4.6M445.7 431.1v4.6M452.3 431.9h4.6M454.6 429.6v4.6M441.9 435.8h4.6M444.2 433.5v4.6M472.2 422.6h4.6M474.5 420.3v4.6M447.7 432.4h4.6M450.0 430.1v4.6M444.3 424.0h4.6M446.6 421.7v4.6M443.2 430.9h4.6M445.5 428.6v4.6M443.1 436.8h4.6M445.4 434.5v4.6M460.0 433.4h4.6M462.3 431.1v4.6M444.2 434.4h4.6M446.5 432.1v4.6M450.9 434.8h4.6M453.2 432.5v4.6M441.7 434.8h4.6M444.0 432.5v4.6M444.3 425.5h4.6M446.6 423.2v4.6M441.8 436.3h4.6M444.1 434.0v4.6M441.7 435.8h4.6M444.0 433.5v4.6M443.4 435.3h4.6M445.7 433.0v4.6M444.9 434.8h4.6M447.2 432.5v4.6M444.2 432.9h4.6M446.5 430.6v4.6M444.5 430.9h4.6M446.8 428.6v4.6M448.8 432.4h4.6M451.1 430.1v4.6M450.5 432.4h4.6M452.8 430.1v4.6M447.9 432.4h4.6M450.2 430.1v4.6M463.2 425.5h4.6M465.5 423.2v4.6M469.8 418.6h4.6M472.1 416.3v4.6M459.6 425.5h4.6M461.9 423.2v4.6M441.6 435.3h4.6M443.9 433.0v4.6M441.8 434.8h4.6M444.1 432.5v4.6M444.8 436.3h4.6M447.1 434.0v4.6M447.3 432.9h4.6M449.6 430.6v4.6M445.8 434.8h4.6M448.1 432.5v4.6M443.0 433.9h4.6M445.3 431.6v4.6M454.2 420.1h4.6M456.5 417.8v4.6M440.3 434.4h4.6M442.6 432.1v4.6M445.9 434.4h4.6M448.2 432.1v4.6M459.1 428.0h4.6M461.4 425.7v4.6M443.4 431.4h4.6M445.7 429.1v4.6M446.4 432.4h4.6M448.7 430.1v4.6M445.9 432.4h4.6M448.2 430.1v4.6M443.8 431.4h4.6M446.1 429.1v4.6M446.0 434.8h4.6M448.3 432.5v4.6M446.8 431.9h4.6M449.1 429.6v4.6M445.6 435.3h4.6M447.9 433.0v4.6M482.8 418.2h4.6M485.1 415.9v4.6M445.0 430.9h4.6M447.3 428.6v4.6M470.1 423.6h4.6M472.4 421.3v4.6M443.5 436.3h4.6M445.8 434.0v4.6M447.0 434.4h4.6M449.3 432.1v4.6M442.9 431.9h4.6M445.2 429.6v4.6M442.0 425.5h4.6M444.3 423.2v4.6M444.7 433.4h4.6M447.0 431.1v4.6M444.5 433.9h4.6M446.8 431.6v4.6M446.4 433.9h4.6M448.7 431.6v4.6M443.1 435.8h4.6M445.4 433.5v4.6M451.1 432.9h4.6M453.4 430.6v4.6M457.2 424.5h4.6M459.5 422.2v4.6M458.1 430.4h4.6M460.4 428.1v4.6M446.1 436.3h4.6M448.4 434.0v4.6M449.7 433.4h4.6M452.0 431.1v4.6M450.9 423.6h4.6M453.2 421.3v4.6M442.0 435.8h4.6M444.3 433.5v4.6M443.2 431.9h4.6M445.5 429.6v4.6M464.8 424.5h4.6M467.1 422.2v4.6M443.1 436.8h4.6M445.4 434.5v4.6M444.1 430.9h4.6M446.4 428.6v4.6M458.7 429.0h4.6M461.0 426.7v4.6M441.2 437.3h4.6M443.5 435.0v4.6M448.1 424.5h4.6M450.4 422.2v4.6M443.6 434.4h4.6M445.9 432.1v4.6M447.2 430.9h4.6M449.5 428.6v4.6M448.4 435.3h4.6M450.7 433.0v4.6M482.9 407.4h4.6M485.2 405.1v4.6M442.2 436.8h4.6M444.5 434.5v4.6M441.5 435.8h4.6M443.8 433.5v4.6M441.4 436.3h4.6M443.7 434.0v4.6M440.9 435.8h4.6M443.2 433.5v4.6M445.2 432.4h4.6M447.5 430.1v4.6M443.1 435.3h4.6M445.4 433.0v4.6M450.5 433.9h4.6M452.8 431.6v4.6M442.8 434.8h4.6M445.1 432.5v4.6M445.0 427.0h4.6M447.3 424.7v4.6M443.7 435.3h4.6M446.0 433.0v4.6M444.7 431.9h4.6M447.0 429.6v4.6M451.8 431.4h4.6M454.1 429.1v4.6M441.6 432.9h4.6M443.9 430.6v4.6M441.4 432.9h4.6M443.7 430.6v4.6M448.2 429.4h4.6M450.5 427.1v4.6M442.7 436.8h4.6M445.0 434.5v4.6M467.6 419.1h4.6M469.9 416.8v4.6M445.0 432.9h4.6M447.3 430.6v4.6M448.9 433.4h4.6M451.2 431.1v4.6M448.5 428.0h4.6M450.8 425.7v4.6M446.3 434.8h4.6M448.6 432.5v4.6M444.6 432.9h4.6M446.9 430.6v4.6M440.7 437.3h4.6M443.0 435.0v4.6M456.4 429.9h4.6M458.7 427.6v4.6M478.7 415.2h4.6M481.0 412.9v4.6M449.3 430.9h4.6M451.6 428.6v4.6M449.7 431.9h4.6M452.0 429.6v4.6M441.4 436.8h4.6M443.7 434.5v4.6M442.0 437.3h4.6M444.3 435.0v4.6M444.9 436.8h4.6M447.2 434.5v4.6M441.5 433.9h4.6M443.8 431.6v4.6M446.5 433.9h4.6M448.8 431.6v4.6M444.9 433.9h4.6M447.2 431.6v4.6M451.8 429.9h4.6M454.1 427.6v4.6M481.5 418.2h4.6M483.8 415.9v4.6M445.4 435.8h4.6M447.7 433.5v4.6M452.9 431.9h4.6M455.2 429.6v4.6M448.0 428.0h4.6M450.3 425.7v4.6M445.1 435.8h4.6M447.4 433.5v4.6M484.7 425.5h4.6M487.0 423.2v4.6M479.2 424.0h4.6M481.5 421.7v4.6M454.1 430.9h4.6M456.4 428.6v4.6M455.0 431.9h4.6M457.3 429.6v4.6M451.4 428.5h4.6M453.7 426.2v4.6M442.4 430.9h4.6M444.7 428.6v4.6M446.0 429.9h4.6M448.3 427.6v4.6M440.8 437.3h4.6M443.1 435.0v4.6M443.4 435.8h4.6M445.7 433.5v4.6M447.9 428.5h4.6M450.2 426.2v4.6M445.9 433.4h4.6M448.2 431.1v4.6M442.1 428.5h4.6M444.4 426.2v4.6M463.6 432.4h4.6M465.9 430.1v4.6M452.6 433.4h4.6M454.9 431.1v4.6M445.5 434.8h4.6M447.8 432.5v4.6M442.0 435.3h4.6M444.3 433.0v4.6M451.0 427.5h4.6M453.3 425.2v4.6M446.4 432.9h4.6M448.7 430.6v4.6M443.5 433.9h4.6M445.8 431.6v4.6M467.2 420.6h4.6M469.5 418.3v4.6M460.5 426.5h4.6M462.8 424.2v4.6M484.0 420.1h4.6M486.3 417.8v4.6M447.8 434.8h4.6M450.1 432.5v4.6M447.7 433.9h4.6M450.0 431.6v4.6M446.6 424.5h4.6M448.9 422.2v4.6M448.7 431.4h4.6M451.0 429.1v4.6M440.8 436.3h4.6M443.1 434.0v4.6M442.0 435.8h4.6M444.3 433.5v4.6M457.4 429.9h4.6M459.7 427.6v4.6M441.2 436.3h4.6M443.5 434.0v4.6M443.9 434.4h4.6M446.2 432.1v4.6M448.3 432.4h4.6M450.6 430.1v4.6M452.7 434.4h4.6M455.0 432.1v4.6M442.3 436.8h4.6M444.6 434.5v4.6M443.7 432.9h4.6M446.0 430.6v4.6M444.6 421.1h4.6M446.9 418.8v4.6M457.1 427.0h4.6M459.4 424.7v4.6M450.4 432.9h4.6M452.7 430.6v4.6M441.4 436.3h4.6M443.7 434.0v4.6M446.3 432.9h4.6M448.6 430.6v4.6M443.2 433.9h4.6M445.5 431.6v4.6M451.8 433.9h4.6M454.1 431.6v4.6M444.4 436.3h4.6M446.7 434.0v4.6M444.0 434.4h4.6M446.3 432.1v4.6M445.1 435.8h4.6M447.4 433.5v4.6M449.2 435.8h4.6M451.5 433.5v4.6M445.3 437.3h4.6M447.6 435.0v4.6M444.4 436.3h4.6M446.7 434.0v4.6M447.7 423.6h4.6M450.0 421.3v4.6M442.3 436.8h4.6M444.6 434.5v4.6M450.5 430.9h4.6M452.8 428.6v4.6M441.6 436.8h4.6M443.9 434.5v4.6M445.9 433.9h4.6M448.2 431.6v4.6M440.9 436.8h4.6M443.2 434.5v4.6M442.1 429.0h4.6M444.4 426.7v4.6M444.3 433.9h4.6M446.6 431.6v4.6M440.6 437.3h4.6M442.9 435.0v4.6M441.5 436.8h4.6M443.8 434.5v4.6M442.0 435.8h4.6M444.3 433.5v4.6M455.5 427.5h4.6M457.8 425.2v4.6M441.4 434.8h4.6M443.7 432.5v4.6M442.3 429.4h4.6M444.6 427.1v4.6M441.8 435.3h4.6M444.1 433.0v4.6M448.4 434.4h4.6M450.7 432.1v4.6M442.6 436.3h4.6M444.9 434.0v4.6M448.4 432.9h4.6M450.7 430.6v4.6M448.6 433.4h4.6M450.9 431.1v4.6M443.7 436.3h4.6M446.0 434.0v4.6M452.2 432.4h4.6M454.5 430.1v4.6M444.6 435.8h4.6M446.9 433.5v4.6M446.4 434.8h4.6M448.7 432.5v4.6M441.9 434.8h4.6M444.2 432.5v4.6M444.9 428.5h4.6M447.2 426.2v4.6M442.4 436.8h4.6M444.7 434.5v4.6M449.3 428.0h4.6M451.6 425.7v4.6M460.5 421.6h4.6M462.8 419.3v4.6M442.5 434.8h4.6M444.8 432.5v4.6M443.3 436.3h4.6M445.6 434.0v4.6M443.5 434.4h4.6M445.8 432.1v4.6M442.3 434.4h4.6M444.6 432.1v4.6M451.2 431.4h4.6M453.5 429.1v4.6M446.0 435.3h4.6M448.3 433.0v4.6M444.5 429.9h4.6M446.8 427.6v4.6M442.4 429.0h4.6M444.7 426.7v4.6M446.4 435.8h4.6M448.7 433.5v4.6M441.5 434.8h4.6M443.8 432.5v4.6M444.2 426.5h4.6M446.5 424.2v4.6M443.6 434.8h4.6M445.9 432.5v4.6M450.0 430.9h4.6M452.3 428.6v4.6M440.7 433.4h4.6M443.0 431.1v4.6M456.1 430.9h4.6M458.4 428.6v4.6M447.8 431.4h4.6M450.1 429.1v4.6M446.0 436.8h4.6M448.3 434.5v4.6M459.1 418.6h4.6M461.4 416.3v4.6M445.5 430.4h4.6M447.8 428.1v4.6M441.4 437.3h4.6M443.7 435.0v4.6M448.9 431.4h4.6M451.2 429.1v4.6M443.5 430.4h4.6M445.8 428.1v4.6M451.9 427.0h4.6M454.2 424.7v4.6M466.1 410.3h4.6M468.4 408.0v4.6M444.9 425.0h4.6M447.2 422.7v4.6M442.1 435.8h4.6M444.4 433.5v4.6M442.9 437.3h4.6M445.2 435.0v4.6M442.1 436.8h4.6M444.4 434.5v4.6M447.0 436.3h4.6M449.3 434.0v4.6M440.9 432.9h4.6M443.2 430.6v4.6M441.6 436.3h4.6M443.9 434.0v4.6M448.1 430.9h4.6M450.4 428.6v4.6M441.2 437.3h4.6M443.5 435.0v4.6M463.5 412.8h4.6M465.8 410.5v4.6M444.8 434.8h4.6M447.1 432.5v4.6M448.7 434.4h4.6M451.0 432.1v4.6M448.2 428.5h4.6M450.5 426.2v4.6M454.1 432.4h4.6M456.4 430.1v4.6M472.8 425.5h4.6M475.1 423.2v4.6M449.8 431.9h4.6M452.1 429.6v4.6M440.8 435.3h4.6M443.1 433.0v4.6M449.3 431.4h4.6M451.6 429.1v4.6M443.3 425.5h4.6M445.6 423.2v4.6M441.9 436.3h4.6M444.2 434.0v4.6M447.4 435.8h4.6M449.7 433.5v4.6M476.3 421.1h4.6M478.6 418.8v4.6M448.2 427.0h4.6M450.5 424.7v4.6M470.0 422.6h4.6M472.3 420.3v4.6M448.4 427.0h4.6M450.7 424.7v4.6M454.0 430.4h4.6M456.3 428.1v4.6M441.7 436.8h4.6M444.0 434.5v4.6M446.2 433.9h4.6M448.5 431.6v4.6M444.2 424.0h4.6M446.5 421.7v4.6M447.9 433.4h4.6M450.2 431.1v4.6M456.1 425.5h4.6M458.4 423.2v4.6M442.2 430.9h4.6M444.5 428.6v4.6M446.8 429.4h4.6M449.1 427.1v4.6M451.4 427.5h4.6M453.7 425.2v4.6M442.6 437.3h4.6M444.9 435.0v4.6M442.4 434.4h4.6M444.7 432.1v4.6M448.3 433.9h4.6M450.6 431.6v4.6M445.9 434.8h4.6M448.2 432.5v4.6M442.5 437.3h4.6M444.8 435.0v4.6M444.0 432.4h4.6M446.3 430.1v4.6M442.6 436.3h4.6M444.9 434.0v4.6M442.1 434.8h4.6M444.4 432.5v4.6M447.4 434.8h4.6M449.7 432.5v4.6M454.5 423.6h4.6M456.8 421.3v4.6M448.2 431.9h4.6M450.5 429.6v4.6M445.8 428.5h4.6M448.1 426.2v4.6M451.1 425.5h4.6M453.4 423.2v4.6M441.2 436.3h4.6M443.5 434.0v4.6M442.7 437.3h4.6M445.0 435.0v4.6M446.5 431.9h4.6M448.8 429.6v4.6M447.3 430.9h4.6M449.6 428.6v4.6M471.0 426.5h4.6M473.3 424.2v4.6M441.1 436.3h4.6M443.4 434.0v4.6M443.4 434.4h4.6M445.7 432.1v4.6M444.7 432.9h4.6M447.0 430.6v4.6M443.2 435.3h4.6M445.5 433.0v4.6M458.8 429.4h4.6M461.1 427.1v4.6M445.1 433.4h4.6M447.4 431.1v4.6M442.3 436.3h4.6M444.6 434.0v4.6M445.7 434.4h4.6M448.0 432.1v4.6M440.7 436.8h4.6M443.0 434.5v4.6M445.2 434.8h4.6M447.5 432.5v4.6M442.9 433.4h4.6M445.2 431.1v4.6M445.4 435.3h4.6M447.7 433.0v4.6M441.4 436.8h4.6M443.7 434.5v4.6M451.7 425.0h4.6M454.0 422.7v4.6M443.7 436.8h4.6M446.0 434.5v4.6M441.2 432.4h4.6M443.5 430.1v4.6M448.6 434.8h4.6M450.9 432.5v4.6M447.4 431.4h4.6M449.7 429.1v4.6M443.5 435.3h4.6M445.8 433.0v4.6M448.9 429.9h4.6M451.2 427.6v4.6M451.7 429.9h4.6M454.0 427.6v4.6M451.4 429.0h4.6M453.7 426.7v4.6M444.8 434.8h4.6M447.1 432.5v4.6M448.0 430.9h4.6M450.3 428.6v4.6M446.2 431.4h4.6M448.5 429.1v4.6M447.7 430.9h4.6M450.0 428.6v4.6M443.6 436.3h4.6M445.9 434.0v4.6M453.5 427.5h4.6M455.8 425.2v4.6M446.9 429.0h4.6M449.2 426.7v4.6M442.1 435.3h4.6M444.4 433.0v4.6M444.9 430.4h4.6M447.2 428.1v4.6M459.1 429.4h4.6M461.4 427.1v4.6M447.4 433.9h4.6M449.7 431.6v4.6M448.1 431.9h4.6M450.4 429.6v4.6M444.9 434.8h4.6M447.2 432.5v4.6M447.5 432.9h4.6M449.8 430.6v4.6M444.1 431.4h4.6M446.4 429.1v4.6M443.0 435.3h4.6M445.3 433.0v4.6M444.7 434.8h4.6M447.0 432.5v4.6M440.5 437.3h4.6M442.8 435.0v4.6M445.7 435.3h4.6M448.0 433.0v4.6M456.2 428.5h4.6M458.5 426.2v4.6M443.2 436.8h4.6M445.5 434.5v4.6M468.0 425.5h4.6M470.3 423.2v4.6M453.5 431.4h4.6M455.8 429.1v4.6M456.5 428.5h4.6M458.8 426.2v4.6M442.3 436.8h4.6M444.6 434.5v4.6M444.3 433.9h4.6M446.6 431.6v4.6M441.2 432.9h4.6M443.5 430.6v4.6M446.0 434.8h4.6M448.3 432.5v4.6M441.3 437.3h4.6M443.6 435.0v4.6M460.4 434.4h4.6M462.7 432.1v4.6M449.1 434.4h4.6M451.4 432.1v4.6M442.1 436.8h4.6M444.4 434.5v4.6M444.1 425.0h4.6M446.4 422.7v4.6M445.7 433.9h4.6M448.0 431.6v4.6M445.2 432.9h4.6M447.5 430.6v4.6M447.8 435.3h4.6M450.1 433.0v4.6M449.8 435.8h4.6M452.1 433.5v4.6M464.3 424.0h4.6M466.6 421.7v4.6M444.9 430.9h4.6M447.2 428.6v4.6M442.7 434.8h4.6M445.0 432.5v4.6M457.1 425.5h4.6M459.4 423.2v4.6M442.2 435.3h4.6M444.5 433.0v4.6M443.4 433.4h4.6M445.7 431.1v4.6M454.9 428.5h4.6M457.2 426.2v4.6M444.7 435.3h4.6M447.0 433.0v4.6M442.6 432.9h4.6M444.9 430.6v4.6M459.3 429.4h4.6M461.6 427.1v4.6M441.1 434.4h4.6M443.4 432.1v4.6M440.7 436.3h4.6M443.0 434.0v4.6M442.9 431.9h4.6M445.2 429.6v4.6M447.4 436.3h4.6M449.7 434.0v4.6M444.7 433.9h4.6M447.0 431.6v4.6M450.4 429.9h4.6M452.7 427.6v4.6M458.2 430.4h4.6M460.5 428.1v4.6M443.6 431.9h4.6M445.9 429.6v4.6M444.5 436.3h4.6M446.8 434.0v4.6M444.2 428.5h4.6M446.5 426.2v4.6M442.7 436.3h4.6M445.0 434.0v4.6M443.8 435.8h4.6M446.1 433.5v4.6M442.6 431.4h4.6M444.9 429.1v4.6M442.7 436.3h4.6M445.0 434.0v4.6M440.7 437.3h4.6M443.0 435.0v4.6M442.4 437.3h4.6M444.7 435.0v4.6M460.3 430.4h4.6M462.6 428.1v4.6M442.5 433.9h4.6M444.8 431.6v4.6M449.7 433.4h4.6M452.0 431.1v4.6M441.5 436.8h4.6M443.8 434.5v4.6M443.3 434.8h4.6M445.6 432.5v4.6M455.7 429.4h4.6M458.0 427.1v4.6M443.4 429.4h4.6M445.7 427.1v4.6M441.8 436.8h4.6M444.1 434.5v4.6M447.4 434.4h4.6M449.7 432.1v4.6M445.3 434.4h4.6M447.6 432.1v4.6M445.5 435.3h4.6M447.8 433.0v4.6M455.2 429.4h4.6M457.5 427.1v4.6M441.4 434.8h4.6M443.7 432.5v4.6M440.8 434.4h4.6M443.1 432.1v4.6M455.0 427.5h4.6M457.3 425.2v4.6M446.9 432.9h4.6M449.2 430.6v4.6M443.5 436.8h4.6M445.8 434.5v4.6M449.6 429.9h4.6M451.9 427.6v4.6M443.3 436.8h4.6M445.6 434.5v4.6M448.7 429.4h4.6M451.0 427.1v4.6M443.6 436.3h4.6M445.9 434.0v4.6M442.0 430.4h4.6M444.3 428.1v4.6M440.7 436.8h4.6M443.0 434.5v4.6M446.1 435.8h4.6M448.4 433.5v4.6M445.6 434.4h4.6M447.9 432.1v4.6M441.2 434.8h4.6M443.5 432.5v4.6M453.2 429.4h4.6M455.5 427.1v4.6M457.2 429.4h4.6M459.5 427.1v4.6M442.8 436.3h4.6M445.1 434.0v4.6M441.4 434.4h4.6M443.7 432.1v4.6M447.8 431.9h4.6M450.1 429.6v4.6M443.0 435.8h4.6M445.3 433.5v4.6M446.2 430.9h4.6M448.5 428.6v4.6M443.1 434.8h4.6M445.4 432.5v4.6M445.8 430.9h4.6M448.1 428.6v4.6M445.8 433.9h4.6M448.1 431.6v4.6M442.7 432.4h4.6M445.0 430.1v4.6M451.7 431.9h4.6M454.0 429.6v4.6M445.6 435.8h4.6M447.9 433.5v4.6M442.7 436.3h4.6M445.0 434.0v4.6M441.7 433.9h4.6M444.0 431.6v4.6M445.6 435.8h4.6M447.9 433.5v4.6M459.8 426.5h4.6M462.1 424.2v4.6M440.9 436.3h4.6M443.2 434.0v4.6M441.7 435.8h4.6M444.0 433.5v4.6M451.9 433.9h4.6M454.2 431.6v4.6M450.5 434.4h4.6M452.8 432.1v4.6M442.3 429.4h4.6M444.6 427.1v4.6M453.2 427.5h4.6M455.5 425.2v4.6M442.6 435.3h4.6M444.9 433.0v4.6M441.6 431.4h4.6M443.9 429.1v4.6M453.8 424.0h4.6M456.1 421.7v4.6M449.7 429.0h4.6M452.0 426.7v4.6M444.7 434.4h4.6M447.0 432.1v4.6M450.2 431.4h4.6M452.5 429.1v4.6M445.2 431.9h4.6M447.5 429.6v4.6M443.2 433.9h4.6M445.5 431.6v4.6M442.9 432.9h4.6M445.2 430.6v4.6M444.5 435.3h4.6M446.8 433.0v4.6M444.4 420.6h4.6M446.7 418.3v4.6M445.9 431.9h4.6M448.2 429.6v4.6M465.1 420.1h4.6M467.4 417.8v4.6M444.2 436.8h4.6M446.5 434.5v4.6M447.6 433.4h4.6M449.9 431.1v4.6M443.5 432.4h4.6M445.8 430.1v4.6M471.1 429.0h4.6M473.4 426.7v4.6M442.0 433.4h4.6M444.3 431.1v4.6M444.0 435.8h4.6M446.3 433.5v4.6M441.1 432.9h4.6M443.4 430.6v4.6M449.1 424.0h4.6M451.4 421.7v4.6M447.5 432.4h4.6M449.8 430.1v4.6M470.2 420.6h4.6M472.5 418.3v4.6M445.3 433.4h4.6M447.6 431.1v4.6M443.9 434.4h4.6M446.2 432.1v4.6M461.7 420.6h4.6M464.0 418.3v4.6M440.9 437.3h4.6M443.2 435.0v4.6M455.2 430.9h4.6M457.5 428.6v4.6M456.5 429.9h4.6M458.8 427.6v4.6M445.2 435.3h4.6M447.5 433.0v4.6M447.2 434.8h4.6M449.5 432.5v4.6M443.0 435.8h4.6M445.3 433.5v4.6M442.0 435.8h4.6M444.3 433.5v4.6M441.2 436.8h4.6M443.5 434.5v4.6M442.8 436.3h4.6M445.1 434.0v4.6M442.2 434.4h4.6M444.5 432.1v4.6M443.8 436.3h4.6M446.1 434.0v4.6M442.2 434.4h4.6M444.5 432.1v4.6M441.7 436.8h4.6M444.0 434.5v4.6M451.6 429.9h4.6M453.9 427.6v4.6M442.6 437.3h4.6M444.9 435.0v4.6M445.7 433.4h4.6M448.0 431.1v4.6M449.8 432.4h4.6M452.1 430.1v4.6M467.2 418.2h4.6M469.5 415.9v4.6M441.9 436.8h4.6M444.2 434.5v4.6M450.9 428.5h4.6M453.2 426.2v4.6M446.6 434.8h4.6M448.9 432.5v4.6M441.9 436.3h4.6M444.2 434.0v4.6M443.0 435.3h4.6M445.3 433.0v4.6M450.7 430.4h4.6M453.0 428.1v4.6M440.6 435.8h4.6M442.9 433.5v4.6M447.6 431.9h4.6M449.9 429.6v4.6M461.2 415.2h4.6M463.5 412.9v4.6M441.3 436.8h4.6M443.6 434.5v4.6M441.2 436.8h4.6M443.5 434.5v4.6M442.1 436.8h4.6M444.4 434.5v4.6M452.1 431.9h4.6M454.4 429.6v4.6M451.1 433.4h4.6M453.4 431.1v4.6M440.9 436.8h4.6M443.2 434.5v4.6M464.7 418.2h4.6M467.0 415.9v4.6M442.6 435.8h4.6M444.9 433.5v4.6M445.2 433.9h4.6M447.5 431.6v4.6M452.7 430.4h4.6M455.0 428.1v4.6M442.9 431.4h4.6M445.2 429.1v4.6M443.2 436.8h4.6M445.5 434.5v4.6M442.5 437.3h4.6M444.8 435.0v4.6M442.6 435.8h4.6M444.9 433.5v4.6M442.9 435.3h4.6M445.2 433.0v4.6M447.4 429.0h4.6M449.7 426.7v4.6M455.5 432.9h4.6M457.8 430.6v4.6M441.9 435.8h4.6M444.2 433.5v4.6M455.3 430.4h4.6M457.6 428.1v4.6M442.5 433.9h4.6M444.8 431.6v4.6M440.7 436.3h4.6M443.0 434.0v4.6M456.1 426.0h4.6M458.4 423.7v4.6M442.0 436.3h4.6M444.3 434.0v4.6M453.5 429.4h4.6M455.8 427.1v4.6M445.1 429.9h4.6M447.4 427.6v4.6M448.1 432.9h4.6M450.4 430.6v4.6M448.1 431.4h4.6M450.4 429.1v4.6M452.4 432.4h4.6M454.7 430.1v4.6M472.1 415.2h4.6M474.4 412.9v4.6M441.0 436.3h4.6M443.3 434.0v4.6M442.3 435.8h4.6M444.6 433.5v4.6M448.3 427.5h4.6M450.6 425.2v4.6M445.8 435.3h4.6M448.1 433.0v4.6M440.7 436.8h4.6M443.0 434.5v4.6M451.9 432.9h4.6M454.2 430.6v4.6M445.3 433.9h4.6M447.6 431.6v4.6M446.3 433.9h4.6M448.6 431.6v4.6M441.1 436.8h4.6M443.4 434.5v4.6M443.1 434.8h4.6M445.4 432.5v4.6M440.8 436.8h4.6M443.1 434.5v4.6M449.8 429.0h4.6M452.1 426.7v4.6M441.6 436.8h4.6M443.9 434.5v4.6M449.6 432.4h4.6M451.9 430.1v4.6M443.0 435.3h4.6M445.3 433.0v4.6M441.5 433.4h4.6M443.8 431.1v4.6M447.8 431.4h4.6M450.1 429.1v4.6M443.0 433.9h4.6M445.3 431.6v4.6M442.0 435.3h4.6M444.3 433.0v4.6M444.2 434.4h4.6M446.5 432.1v4.6M459.3 428.0h4.6M461.6 425.7v4.6M443.9 427.0h4.6M446.2 424.7v4.6M443.7 435.3h4.6M446.0 433.0v4.6M447.5 431.9h4.6M449.8 429.6v4.6M455.8 427.5h4.6M458.1 425.2v4.6M442.1 434.4h4.6M444.4 432.1v4.6M444.4 433.4h4.6M446.7 431.1v4.6M443.3 434.4h4.6M445.6 432.1v4.6M443.1 436.3h4.6M445.4 434.0v4.6M445.8 433.9h4.6M448.1 431.6v4.6M441.8 432.4h4.6M444.1 430.1v4.6M448.5 433.4h4.6M450.8 431.1v4.6M440.3 435.8h4.6M442.6 433.5v4.6M472.4 422.1h4.6M474.7 419.8v4.6M442.0 437.3h4.6M444.3 435.0v4.6M442.6 434.8h4.6M444.9 432.5v4.6M446.4 433.9h4.6M448.7 431.6v4.6M446.4 434.8h4.6M448.7 432.5v4.6M442.7 436.8h4.6M445.0 434.5v4.6M451.3 432.4h4.6M453.6 430.1v4.6M441.8 436.8h4.6M444.1 434.5v4.6M446.1 434.4h4.6M448.4 432.1v4.6M450.9 432.9h4.6M453.2 430.6v4.6M446.5 431.9h4.6M448.8 429.6v4.6M472.8 427.5h4.6M475.1 425.2v4.6M443.7 432.9h4.6M446.0 430.6v4.6M470.3 414.7h4.6M472.6 412.4v4.6M455.6 430.4h4.6M457.9 428.1v4.6M444.0 434.4h4.6M446.3 432.1v4.6M483.3 415.7h4.6M485.6 413.4v4.6M456.3 427.0h4.6M458.6 424.7v4.6M441.2 436.3h4.6M443.5 434.0v4.6M440.9 435.8h4.6M443.2 433.5v4.6M460.0 424.5h4.6M462.3 422.2v4.6M441.4 434.8h4.6M443.7 432.5v4.6M472.4 417.2h4.6M474.7 414.9v4.6M440.6 436.8h4.6M442.9 434.5v4.6M445.2 436.3h4.6M447.5 434.0v4.6M443.3 433.9h4.6M445.6 431.6v4.6M444.6 434.8h4.6M446.9 432.5v4.6M446.8 433.9h4.6M449.1 431.6v4.6M441.6 435.3h4.6M443.9 433.0v4.6M454.2 434.8h4.6M456.5 432.5v4.6M443.7 432.4h4.6M446.0 430.1v4.6M443.3 436.3h4.6M445.6 434.0v4.6M441.9 436.8h4.6M444.2 434.5v4.6M442.1 434.8h4.6M444.4 432.5v4.6M442.1 437.3h4.6M444.4 435.0v4.6M442.7 432.4h4.6M445.0 430.1v4.6M440.9 434.4h4.6M443.2 432.1v4.6M447.1 431.9h4.6M449.4 429.6v4.6M442.3 434.4h4.6M444.6 432.1v4.6M441.9 435.8h4.6M444.2 433.5v4.6M449.8 435.3h4.6M452.1 433.0v4.6M445.8 431.9h4.6M448.1 429.6v4.6M445.1 434.4h4.6M447.4 432.1v4.6M454.2 430.9h4.6M456.5 428.6v4.6M445.2 429.4h4.6M447.5 427.1v4.6M442.8 436.8h4.6M445.1 434.5v4.6M450.6 423.6h4.6M452.9 421.3v4.6M447.0 435.8h4.6M449.3 433.5v4.6M455.2 429.0h4.6M457.5 426.7v4.6M445.7 425.0h4.6M448.0 422.7v4.6M441.4 436.8h4.6M443.7 434.5v4.6M447.6 429.9h4.6M449.9 427.6v4.6M442.3 437.3h4.6M444.6 435.0v4.6M449.2 433.9h4.6M451.5 431.6v4.6M445.2 435.8h4.6M447.5 433.5v4.6M447.6 435.8h4.6M449.9 433.5v4.6M446.2 429.4h4.6M448.5 427.1v4.6M444.7 432.9h4.6M447.0 430.6v4.6M445.5 431.9h4.6M447.8 429.6v4.6M441.6 434.8h4.6M443.9 432.5v4.6M441.9 434.8h4.6M444.2 432.5v4.6M451.6 428.5h4.6M453.9 426.2v4.6M446.5 434.4h4.6M448.8 432.1v4.6M442.3 435.8h4.6M444.6 433.5v4.6M445.7 432.4h4.6M448.0 430.1v4.6M450.8 427.5h4.6M453.1 425.2v4.6M443.3 437.3h4.6M445.6 435.0v4.6M441.5 431.9h4.6M443.8 429.6v4.6M442.4 436.3h4.6M444.7 434.0v4.6M444.2 435.8h4.6M446.5 433.5v4.6M448.1 432.4h4.6M450.4 430.1v4.6M444.1 435.8h4.6M446.4 433.5v4.6M441.1 436.8h4.6M443.4 434.5v4.6M448.5 435.8h4.6M450.8 433.5v4.6M443.6 430.9h4.6M445.9 428.6v4.6M449.9 433.9h4.6M452.2 431.6v4.6M444.8 433.9h4.6M447.1 431.6v4.6M466.7 417.7h4.6M469.0 415.4v4.6M446.9 429.9h4.6M449.2 427.6v4.6M442.9 435.3h4.6M445.2 433.0v4.6M459.0 430.4h4.6M461.3 428.1v4.6M449.3 422.1h4.6M451.6 419.8v4.6M447.4 433.4h4.6M449.7 431.1v4.6M442.1 437.3h4.6M444.4 435.0v4.6M447.6 434.4h4.6M449.9 432.1v4.6M442.0 434.8h4.6M444.3 432.5v4.6M450.0 431.4h4.6M452.3 429.1v4.6M449.9 433.9h4.6M452.2 431.6v4.6M446.5 432.9h4.6M448.8 430.6v4.6M443.9 434.8h4.6M446.2 432.5v4.6M443.3 433.4h4.6M445.6 431.1v4.6M442.1 433.9h4.6M444.4 431.6v4.6M441.8 433.4h4.6M444.1 431.1v4.6M444.2 434.4h4.6M446.5 432.1v4.6M446.6 416.2h4.6M448.9 413.9v4.6M445.6 434.4h4.6M447.9 432.1v4.6M445.4 432.4h4.6M447.7 430.1v4.6M441.8 436.3h4.6M444.1 434.0v4.6M454.6 410.8h4.6M456.9 408.5v4.6M445.4 434.8h4.6M447.7 432.5v4.6M460.4 431.4h4.6M462.7 429.1v4.6M443.4 437.3h4.6M445.7 435.0v4.6M454.4 434.4h4.6M456.7 432.1v4.6M449.7 430.4h4.6M452.0 428.1v4.6M449.6 424.0h4.6M451.9 421.7v4.6M442.2 435.3h4.6M444.5 433.0v4.6M442.9 433.9h4.6M445.2 431.6v4.6M448.6 434.8h4.6M450.9 432.5v4.6M444.7 434.8h4.6M447.0 432.5v4.6M443.8 436.3h4.6M446.1 434.0v4.6M441.9 436.8h4.6M444.2 434.5v4.6M467.2 421.1h4.6M469.5 418.8v4.6M468.7 421.1h4.6M471.0 418.8v4.6M450.9 421.6h4.6M453.2 419.3v4.6M445.6 435.3h4.6M447.9 433.0v4.6M445.1 436.3h4.6M447.4 434.0v4.6M448.4 427.0h4.6M450.7 424.7v4.6M442.8 434.4h4.6M445.1 432.1v4.6M440.9 435.8h4.6M443.2 433.5v4.6M465.6 417.2h4.6M467.9 414.9v4.6M455.5 422.1h4.6M457.8 419.8v4.6M442.6 434.4h4.6M444.9 432.1v4.6M455.3 427.0h4.6M457.6 424.7v4.6M445.2 433.9h4.6M447.5 431.6v4.6M442.1 435.8h4.6M444.4 433.5v4.6M444.5 435.8h4.6M446.8 433.5v4.6M449.6 431.4h4.6M451.9 429.1v4.6M458.6 428.0h4.6M460.9 425.7v4.6M440.9 437.3h4.6M443.2 435.0v4.6M441.4 432.9h4.6M443.7 430.6v4.6M445.1 435.8h4.6M447.4 433.5v4.6M443.7 425.5h4.6M446.0 423.2v4.6M447.6 430.9h4.6M449.9 428.6v4.6M444.8 433.4h4.6M447.1 431.1v4.6M442.3 435.3h4.6M444.6 433.0v4.6M440.7 432.4h4.6M443.0 430.1v4.6M441.4 435.3h4.6M443.7 433.0v4.6M446.6 433.9h4.6M448.9 431.6v4.6M471.9 411.8h4.6M474.2 409.5v4.6M447.9 433.9h4.6M450.2 431.6v4.6M444.6 429.4h4.6M446.9 427.1v4.6M442.5 436.8h4.6M444.8 434.5v4.6M441.8 436.3h4.6M444.1 434.0v4.6M444.4 434.4h4.6M446.7 432.1v4.6M440.5 436.8h4.6M442.8 434.5v4.6M441.5 436.3h4.6M443.8 434.0v4.6M456.2 430.4h4.6M458.5 428.1v4.6M451.4 429.4h4.6M453.7 427.1v4.6M450.7 434.4h4.6M453.0 432.1v4.6M448.5 429.9h4.6M450.8 427.6v4.6M449.8 432.9h4.6M452.1 430.6v4.6M448.6 432.4h4.6M450.9 430.1v4.6M445.0 429.0h4.6M447.3 426.7v4.6M449.9 433.9h4.6M452.2 431.6v4.6M442.5 436.3h4.6M444.8 434.0v4.6M461.1 425.5h4.6M463.4 423.2v4.6M442.7 437.3h4.6M445.0 435.0v4.6M444.8 429.4h4.6M447.1 427.1v4.6M441.7 436.8h4.6M444.0 434.5v4.6M442.5 433.9h4.6M444.8 431.6v4.6M442.2 433.4h4.6M444.5 431.1v4.6M447.6 433.4h4.6M449.9 431.1v4.6M451.8 431.9h4.6M454.1 429.6v4.6M443.7 432.4h4.6M446.0 430.1v4.6M441.5 437.3h4.6M443.8 435.0v4.6M449.4 434.4h4.6M451.7 432.1v4.6M442.6 436.3h4.6M444.9 434.0v4.6M442.8 435.8h4.6M445.1 433.5v4.6M445.2 433.9h4.6M447.5 431.6v4.6M441.7 437.3h4.6M444.0 435.0v4.6M445.1 434.8h4.6M447.4 432.5v4.6M448.0 435.8h4.6M450.3 433.5v4.6M444.1 434.4h4.6M446.4 432.1v4.6M471.0 413.2h4.6M473.3 410.9v4.6M460.0 429.0h4.6M462.3 426.7v4.6M446.6 433.9h4.6M448.9 431.6v4.6M443.2 434.8h4.6M445.5 432.5v4.6M441.6 436.8h4.6M443.9 434.5v4.6M447.5 434.8h4.6M449.8 432.5v4.6M453.7 429.0h4.6M456.0 426.7v4.6M442.8 431.9h4.6M445.1 429.6v4.6M458.6 428.0h4.6M460.9 425.7v4.6M453.0 429.4h4.6M455.3 427.1v4.6M450.5 429.9h4.6M452.8 427.6v4.6M443.1 435.8h4.6M445.4 433.5v4.6M453.8 431.9h4.6M456.1 429.6v4.6M443.3 436.8h4.6M445.6 434.5v4.6M443.3 434.4h4.6M445.6 432.1v4.6M441.3 436.8h4.6M443.6 434.5v4.6M467.8 423.6h4.6M470.1 421.3v4.6M442.5 435.8h4.6M444.8 433.5v4.6M440.8 429.9h4.6M443.1 427.6v4.6M441.8 435.8h4.6M444.1 433.5v4.6M447.0 431.9h4.6M449.3 429.6v4.6M443.8 434.8h4.6M446.1 432.5v4.6M450.1 430.4h4.6M452.4 428.1v4.6M458.5 430.9h4.6M460.8 428.6v4.6M463.4 429.9h4.6M465.7 427.6v4.6M441.8 436.8h4.6M444.1 434.5v4.6M459.6 426.0h4.6M461.9 423.7v4.6M443.3 436.8h4.6M445.6 434.5v4.6M448.3 434.4h4.6M450.6 432.1v4.6M461.7 433.4h4.6M464.0 431.1v4.6M444.7 435.8h4.6M447.0 433.5v4.6M465.2 431.4h4.6M467.5 429.1v4.6M446.0 430.9h4.6M448.3 428.6v4.6M442.6 435.3h4.6M444.9 433.0v4.6M455.0 433.4h4.6M457.3 431.1v4.6M446.3 429.0h4.6M448.6 426.7v4.6M442.7 436.3h4.6M445.0 434.0v4.6M442.2 429.9h4.6M444.5 427.6v4.6M440.7 436.8h4.6M443.0 434.5v4.6M450.6 433.9h4.6M452.9 431.6v4.6M446.8 434.4h4.6M449.1 432.1v4.6M446.0 432.4h4.6M448.3 430.1v4.6M442.8 419.6h4.6M445.1 417.3v4.6M443.7 436.8h4.6M446.0 434.5v4.6M444.3 433.9h4.6M446.6 431.6v4.6M443.4 436.8h4.6M445.7 434.5v4.6M441.0 437.3h4.6M443.3 435.0v4.6M446.9 433.4h4.6M449.2 431.1v4.6M447.4 432.4h4.6M449.7 430.1v4.6M453.1 427.5h4.6M455.4 425.2v4.6M441.8 437.3h4.6M444.1 435.0v4.6M444.7 427.0h4.6M447.0 424.7v4.6M446.2 434.8h4.6M448.5 432.5v4.6M448.2 431.9h4.6M450.5 429.6v4.6M445.0 434.8h4.6M447.3 432.5v4.6M442.1 436.8h4.6M444.4 434.5v4.6M456.9 420.1h4.6M459.2 417.8v4.6M440.7 437.3h4.6M443.0 435.0v4.6M443.4 436.8h4.6M445.7 434.5v4.6M445.5 435.8h4.6M447.8 433.5v4.6M460.2 425.0h4.6M462.5 422.7v4.6M443.1 432.9h4.6M445.4 430.6v4.6M443.6 429.9h4.6M445.9 427.6v4.6M446.1 429.4h4.6M448.4 427.1v4.6M449.2 433.4h4.6M451.5 431.1v4.6M442.5 437.3h4.6M444.8 435.0v4.6M448.4 435.8h4.6M450.7 433.5v4.6M450.4 434.4h4.6M452.7 432.1v4.6M442.4 434.8h4.6M444.7 432.5v4.6M442.3 435.8h4.6M444.6 433.5v4.6M442.4 432.4h4.6M444.7 430.1v4.6M446.7 433.4h4.6M449.0 431.1v4.6M443.8 434.8h4.6M446.1 432.5v4.6M459.2 428.5h4.6M461.5 426.2v4.6M440.9 435.8h4.6M443.2 433.5v4.6M444.3 434.8h4.6M446.6 432.5v4.6M441.7 436.3h4.6M444.0 434.0v4.6M444.7 434.8h4.6M447.0 432.5v4.6M444.8 435.8h4.6M447.1 433.5v4.6M449.3 431.9h4.6M451.6 429.6v4.6M440.9 436.8h4.6M443.2 434.5v4.6M445.8 436.3h4.6M448.1 434.0v4.6M449.1 435.8h4.6M451.4 433.5v4.6M449.1 421.1h4.6M451.4 418.8v4.6M441.5 434.4h4.6M443.8 432.1v4.6M448.6 430.4h4.6M450.9 428.1v4.6M450.2 435.3h4.6M452.5 433.0v4.6M440.6 436.8h4.6M442.9 434.5v4.6M441.0 436.8h4.6M443.3 434.5v4.6M444.3 435.8h4.6M446.6 433.5v4.6M443.6 431.4h4.6M445.9 429.1v4.6M442.4 434.4h4.6M444.7 432.1v4.6M448.2 430.9h4.6M450.5 428.6v4.6M442.1 433.4h4.6M444.4 431.1v4.6M442.3 435.8h4.6M444.6 433.5v4.6M444.2 433.4h4.6M446.5 431.1v4.6M442.6 433.9h4.6M444.9 431.6v4.6M442.8 429.9h4.6M445.1 427.6v4.6M465.3 419.1h4.6M467.6 416.8v4.6M443.9 434.8h4.6M446.2 432.5v4.6M453.8 432.9h4.6M456.1 430.6v4.6M446.0 433.4h4.6M448.3 431.1v4.6M456.5 429.4h4.6M458.8 427.1v4.6M445.8 430.4h4.6M448.1 428.1v4.6M446.1 430.4h4.6M448.4 428.1v4.6M442.7 436.3h4.6M445.0 434.0v4.6M442.3 435.8h4.6M444.6 433.5v4.6M446.9 432.9h4.6M449.2 430.6v4.6M442.7 437.3h4.6M445.0 435.0v4.6M441.2 436.3h4.6M443.5 434.0v4.6M445.5 435.3h4.6M447.8 433.0v4.6M445.3 433.9h4.6M447.6 431.6v4.6M447.9 430.9h4.6M450.2 428.6v4.6M443.2 436.8h4.6M445.5 434.5v4.6M441.4 436.3h4.6M443.7 434.0v4.6M449.8 429.9h4.6M452.1 427.6v4.6M444.3 434.4h4.6M446.6 432.1v4.6M441.4 437.3h4.6M443.7 435.0v4.6M441.5 435.3h4.6M443.8 433.0v4.6M441.5 436.3h4.6M443.8 434.0v4.6M446.8 430.4h4.6M449.1 428.1v4.6M455.8 430.9h4.6M458.1 428.6v4.6M443.0 435.8h4.6M445.3 433.5v4.6M449.7 430.4h4.6M452.0 428.1v4.6M455.8 428.0h4.6M458.1 425.7v4.6M443.7 435.8h4.6M446.0 433.5v4.6M441.2 437.3h4.6M443.5 435.0v4.6M459.6 424.5h4.6M461.9 422.2v4.6M444.4 435.3h4.6M446.7 433.0v4.6M443.4 432.4h4.6M445.7 430.1v4.6M444.4 433.4h4.6M446.7 431.1v4.6M443.0 433.4h4.6M445.3 431.1v4.6M449.6 432.9h4.6M451.9 430.6v4.6M445.2 436.8h4.6M447.5 434.5v4.6M446.0 422.6h4.6M448.3 420.3v4.6M447.5 424.0h4.6M449.8 421.7v4.6M445.2 436.3h4.6M447.5 434.0v4.6M448.0 429.0h4.6M450.3 426.7v4.6M456.8 423.6h4.6M459.1 421.3v4.6M448.1 432.9h4.6M450.4 430.6v4.6M444.6 434.4h4.6M446.9 432.1v4.6M451.0 433.9h4.6M453.3 431.6v4.6M457.9 424.0h4.6M460.2 421.7v4.6M462.8 423.1h4.6M465.1 420.8v4.6M447.4 428.0h4.6M449.7 425.7v4.6M442.9 436.8h4.6M445.2 434.5v4.6M442.7 434.4h4.6M445.0 432.1v4.6M442.5 436.8h4.6M444.8 434.5v4.6M456.3 431.4h4.6M458.6 429.1v4.6M442.4 431.9h4.6M444.7 429.6v4.6M456.8 431.4h4.6M459.1 429.1v4.6M445.8 431.9h4.6M448.1 429.6v4.6M443.4 433.9h4.6M445.7 431.6v4.6M445.4 435.8h4.6M447.7 433.5v4.6M444.9 435.3h4.6M447.2 433.0v4.6M443.5 436.8h4.6M445.8 434.5v4.6M444.4 435.8h4.6M446.7 433.5v4.6M441.7 437.3h4.6M444.0 435.0v4.6M442.5 435.3h4.6M444.8 433.0v4.6M444.0 433.9h4.6M446.3 431.6v4.6M445.3 433.9h4.6M447.6 431.6v4.6M465.5 420.1h4.6M467.8 417.8v4.6M447.5 429.0h4.6M449.8 426.7v4.6M447.0 432.9h4.6M449.3 430.6v4.6M451.8 421.1h4.6M454.1 418.8v4.6M450.2 427.0h4.6M452.5 424.7v4.6M441.8 436.3h4.6M444.1 434.0v4.6M442.7 436.3h4.6M445.0 434.0v4.6M487.8 407.8h4.6M490.1 405.5v4.6M459.6 428.0h4.6M461.9 425.7v4.6M442.7 435.3h4.6M445.0 433.0v4.6M441.4 434.8h4.6M443.7 432.5v4.6M442.5 433.9h4.6M444.8 431.6v4.6M447.3 434.8h4.6M449.6 432.5v4.6M441.9 435.3h4.6M444.2 433.0v4.6M447.8 432.4h4.6M450.1 430.1v4.6M445.2 432.4h4.6M447.5 430.1v4.6M444.0 435.3h4.6M446.3 433.0v4.6M451.8 432.4h4.6M454.1 430.1v4.6M440.6 435.8h4.6M442.9 433.5v4.6M442.8 434.8h4.6M445.1 432.5v4.6M444.5 431.4h4.6M446.8 429.1v4.6M449.1 429.4h4.6M451.4 427.1v4.6M444.2 435.8h4.6M446.5 433.5v4.6M451.2 433.4h4.6M453.5 431.1v4.6M443.0 435.3h4.6M445.3 433.0v4.6M460.0 425.0h4.6M462.3 422.7v4.6M452.2 430.9h4.6M454.5 428.6v4.6M445.9 430.9h4.6M448.2 428.6v4.6M447.1 434.8h4.6M449.4 432.5v4.6M443.0 433.4h4.6M445.3 431.1v4.6M442.1 437.3h4.6M444.4 435.0v4.6M445.8 428.5h4.6M448.1 426.2v4.6M445.7 436.3h4.6M448.0 434.0v4.6M441.7 433.9h4.6M444.0 431.6v4.6M461.6 425.5h4.6M463.9 423.2v4.6M442.6 436.8h4.6M444.9 434.5v4.6M441.4 437.3h4.6M443.7 435.0v4.6M446.9 435.8h4.6M449.2 433.5v4.6M474.1 410.3h4.6M476.4 408.0v4.6M442.1 435.8h4.6M444.4 433.5v4.6M443.8 435.3h4.6M446.1 433.0v4.6M442.7 436.3h4.6M445.0 434.0v4.6M445.9 432.9h4.6M448.2 430.6v4.6M443.3 436.8h4.6M445.6 434.5v4.6M458.9 433.4h4.6M461.2 431.1v4.6M442.0 436.8h4.6M444.3 434.5v4.6M447.7 419.6h4.6M450.0 417.3v4.6M448.4 434.4h4.6M450.7 432.1v4.6M440.9 434.4h4.6M443.2 432.1v4.6M441.4 434.4h4.6M443.7 432.1v4.6M452.7 428.0h4.6M455.0 425.7v4.6M441.1 437.3h4.6M443.4 435.0v4.6M448.5 433.4h4.6M450.8 431.1v4.6M447.3 422.6h4.6M449.6 420.3v4.6M467.8 421.1h4.6M470.1 418.8v4.6M464.7 430.9h4.6M467.0 428.6v4.6M448.5 432.4h4.6M450.8 430.1v4.6M442.8 436.8h4.6M445.1 434.5v4.6M444.7 435.3h4.6M447.0 433.0v4.6M442.4 432.4h4.6M444.7 430.1v4.6M445.6 435.3h4.6M447.9 433.0v4.6M445.6 435.3h4.6M447.9 433.0v4.6M441.2 435.8h4.6M443.5 433.5v4.6M442.3 429.0h4.6M444.6 426.7v4.6M460.1 432.4h4.6M462.4 430.1v4.6M443.7 435.3h4.6M446.0 433.0v4.6M446.4 434.8h4.6M448.7 432.5v4.6M446.2 433.9h4.6M448.5 431.6v4.6M441.2 437.3h4.6M443.5 435.0v4.6M444.1 432.9h4.6M446.4 430.6v4.6M445.4 431.9h4.6M447.7 429.6v4.6M449.3 431.9h4.6M451.6 429.6v4.6M442.4 436.8h4.6M444.7 434.5v4.6M443.4 435.3h4.6M445.7 433.0v4.6M448.7 431.4h4.6M451.0 429.1v4.6M440.9 434.4h4.6M443.2 432.1v4.6M442.2 432.9h4.6M444.5 430.6v4.6M450.3 430.4h4.6M452.6 428.1v4.6M444.9 436.3h4.6M447.2 434.0v4.6M442.6 437.3h4.6M444.9 435.0v4.6M440.6 437.3h4.6M442.9 435.0v4.6M444.3 434.8h4.6M446.6 432.5v4.6M443.2 431.4h4.6M445.5 429.1v4.6M451.3 434.4h4.6M453.6 432.1v4.6M442.3 436.3h4.6M444.6 434.0v4.6M442.7 434.4h4.6M445.0 432.1v4.6M457.2 431.4h4.6M459.5 429.1v4.6M447.3 431.4h4.6M449.6 429.1v4.6M447.2 435.3h4.6M449.5 433.0v4.6M456.8 430.4h4.6M459.1 428.1v4.6M443.7 434.4h4.6M446.0 432.1v4.6M451.0 429.4h4.6M453.3 427.1v4.6M479.9 410.3h4.6M482.2 408.0v4.6M441.3 435.8h4.6M443.6 433.5v4.6M444.0 432.4h4.6M446.3 430.1v4.6M443.5 432.9h4.6M445.8 430.6v4.6M443.6 434.4h4.6M445.9 432.1v4.6M448.7 429.9h4.6M451.0 427.6v4.6M444.3 435.8h4.6M446.6 433.5v4.6M453.5 431.4h4.6M455.8 429.1v4.6M448.8 430.9h4.6M451.1 428.6v4.6M449.4 431.9h4.6M451.7 429.6v4.6M443.4 434.8h4.6M445.7 432.5v4.6M443.7 429.9h4.6M446.0 427.6v4.6M445.3 432.9h4.6M447.6 430.6v4.6M441.8 435.8h4.6M444.1 433.5v4.6M455.0 429.0h4.6M457.3 426.7v4.6M445.8 429.4h4.6M448.1 427.1v4.6M451.0 423.1h4.6M453.3 420.8v4.6M442.4 434.4h4.6M444.7 432.1v4.6M442.7 436.8h4.6M445.0 434.5v4.6M447.6 433.4h4.6M449.9 431.1v4.6M447.9 427.0h4.6M450.2 424.7v4.6M444.3 435.3h4.6M446.6 433.0v4.6M442.0 436.8h4.6M444.3 434.5v4.6M443.2 432.4h4.6M445.5 430.1v4.6M446.7 434.8h4.6M449.0 432.5v4.6M441.6 437.3h4.6M443.9 435.0v4.6M448.9 431.9h4.6M451.2 429.6v4.6M441.9 435.3h4.6M444.2 433.0v4.6M443.3 431.4h4.6M445.6 429.1v4.6M442.3 435.8h4.6M444.6 433.5v4.6M443.6 436.3h4.6M445.9 434.0v4.6M481.4 418.2h4.6M483.7 415.9v4.6M447.3 425.5h4.6M449.6 423.2v4.6M442.5 431.9h4.6M444.8 429.6v4.6M446.1 430.4h4.6M448.4 428.1v4.6M479.5 411.8h4.6M481.8 409.5v4.6M442.1 435.8h4.6M444.4 433.5v4.6M452.5 432.9h4.6M454.8 430.6v4.6M446.3 434.8h4.6M448.6 432.5v4.6M441.3 436.3h4.6M443.6 434.0v4.6M445.8 428.0h4.6M448.1 425.7v4.6M445.2 434.8h4.6M447.5 432.5v4.6M443.7 434.8h4.6M446.0 432.5v4.6M463.9 415.7h4.6M466.2 413.4v4.6M445.7 434.8h4.6M448.0 432.5v4.6M446.4 429.4h4.6M448.7 427.1v4.6M447.3 428.0h4.6M449.6 425.7v4.6M443.0 436.8h4.6M445.3 434.5v4.6M448.6 435.8h4.6M450.9 433.5v4.6M443.1 435.3h4.6M445.4 433.0v4.6M443.2 435.8h4.6M445.5 433.5v4.6M443.3 434.8h4.6M445.6 432.5v4.6M440.9 437.3h4.6M443.2 435.0v4.6M445.3 434.4h4.6M447.6 432.1v4.6M440.9 434.4h4.6M443.2 432.1v4.6M442.0 430.4h4.6M444.3 428.1v4.6M454.4 429.4h4.6M456.7 427.1v4.6M442.4 437.3h4.6M444.7 435.0v4.6M445.6 433.9h4.6M447.9 431.6v4.6M443.2 431.4h4.6M445.5 429.1v4.6M443.4 435.8h4.6M445.7 433.5v4.6M441.4 435.3h4.6M443.7 433.0v4.6M449.6 431.4h4.6M451.9 429.1v4.6M447.3 430.4h4.6M449.6 428.1v4.6M446.5 432.4h4.6M448.8 430.1v4.6M445.1 436.3h4.6M447.4 434.0v4.6M443.7 435.3h4.6M446.0 433.0v4.6M445.8 426.5h4.6M448.1 424.2v4.6M441.4 435.8h4.6M443.7 433.5v4.6M445.5 436.8h4.6M447.8 434.5v4.6M463.1 430.9h4.6M465.4 428.6v4.6M450.9 432.4h4.6M453.2 430.1v4.6M442.6 436.8h4.6M444.9 434.5v4.6M449.8 431.9h4.6M452.1 429.6v4.6M441.1 436.3h4.6M443.4 434.0v4.6M453.0 424.0h4.6M455.3 421.7v4.6M443.3 433.9h4.6M445.6 431.6v4.6M441.2 437.3h4.6M443.5 435.0v4.6M450.2 432.4h4.6M452.5 430.1v4.6M444.6 432.4h4.6M446.9 430.1v4.6M441.3 434.4h4.6M443.6 432.1v4.6M445.2 435.8h4.6M447.5 433.5v4.6M445.1 435.3h4.6M447.4 433.0v4.6M469.1 415.2h4.6M471.4 412.9v4.6M441.6 437.3h4.6M443.9 435.0v4.6M461.4 418.2h4.6M463.7 415.9v4.6M445.0 436.3h4.6M447.3 434.0v4.6M443.8 432.4h4.6M446.1 430.1v4.6M443.4 433.9h4.6M445.7 431.6v4.6M447.2 435.8h4.6M449.5 433.5v4.6M441.1 431.9h4.6M443.4 429.6v4.6M442.8 435.3h4.6M445.1 433.0v4.6M440.9 437.3h4.6M443.2 435.0v4.6M452.5 420.6h4.6M454.8 418.3v4.6M447.1 433.9h4.6M449.4 431.6v4.6M443.8 437.3h4.6M446.1 435.0v4.6M442.2 437.3h4.6M444.5 435.0v4.6M441.5 434.8h4.6M443.8 432.5v4.6M453.7 429.0h4.6M456.0 426.7v4.6M450.6 432.4h4.6M452.9 430.1v4.6M444.2 427.5h4.6M446.5 425.2v4.6M447.6 433.9h4.6M449.9 431.6v4.6M455.0 429.9h4.6M457.3 427.6v4.6M443.1 431.9h4.6M445.4 429.6v4.6M442.2 435.3h4.6M444.5 433.0v4.6M443.3 430.4h4.6M445.6 428.1v4.6M447.6 434.8h4.6M449.9 432.5v4.6M442.9 431.9h4.6M445.2 429.6v4.6M446.4 434.4h4.6M448.7 432.1v4.6M445.6 434.8h4.6M447.9 432.5v4.6M443.4 436.8h4.6M445.7 434.5v4.6M444.2 435.8h4.6M446.5 433.5v4.6M441.4 433.4h4.6M443.7 431.1v4.6M441.5 435.3h4.6M443.8 433.0v4.6M448.9 430.4h4.6M451.2 428.1v4.6M445.1 434.4h4.6M447.4 432.1v4.6M442.0 435.3h4.6M444.3 433.0v4.6M443.4 434.8h4.6M445.7 432.5v4.6M446.5 435.3h4.6M448.8 433.0v4.6M444.4 433.9h4.6M446.7 431.6v4.6M466.5 432.9h4.6M468.8 430.6v4.6M444.6 435.3h4.6M446.9 433.0v4.6M446.1 434.8h4.6M448.4 432.5v4.6M450.5 431.4h4.6M452.8 429.1v4.6M441.7 436.8h4.6M444.0 434.5v4.6M445.1 429.4h4.6M447.4 427.1v4.6M450.7 431.4h4.6M453.0 429.1v4.6M443.3 434.8h4.6M445.6 432.5v4.6M441.9 432.9h4.6M444.2 430.6v4.6M443.9 432.9h4.6M446.2 430.6v4.6M445.0 434.4h4.6M447.3 432.1v4.6M442.7 434.8h4.6M445.0 432.5v4.6M445.6 431.9h4.6M447.9 429.6v4.6M443.7 432.4h4.6M446.0 430.1v4.6M441.1 434.8h4.6M443.4 432.5v4.6M444.5 435.3h4.6M446.8 433.0v4.6M452.5 432.4h4.6M454.8 430.1v4.6M451.2 430.4h4.6M453.5 428.1v4.6M449.5 430.4h4.6M451.8 428.1v4.6M441.6 434.4h4.6M443.9 432.1v4.6M447.9 429.0h4.6M450.2 426.7v4.6M442.4 434.8h4.6M444.7 432.5v4.6M449.5 431.9h4.6M451.8 429.6v4.6M463.1 423.6h4.6M465.4 421.3v4.6M442.7 436.3h4.6M445.0 434.0v4.6M444.1 434.8h4.6M446.4 432.5v4.6M443.5 431.4h4.6M445.8 429.1v4.6M456.6 427.0h4.6M458.9 424.7v4.6M462.8 430.4h4.6M465.1 428.1v4.6M451.8 432.9h4.6M454.1 430.6v4.6M483.9 415.7h4.6M486.2 413.4v4.6M443.2 436.8h4.6M445.5 434.5v4.6M462.4 423.6h4.6M464.7 421.3v4.6M449.0 426.0h4.6M451.3 423.7v4.6M443.0 434.8h4.6M445.3 432.5v4.6M455.3 429.9h4.6M457.6 427.6v4.6M445.3 428.0h4.6M447.6 425.7v4.6M444.9 434.4h4.6M447.2 432.1v4.6M444.0 435.3h4.6M446.3 433.0v4.6M441.5 435.3h4.6M443.8 433.0v4.6M441.0 437.3h4.6M443.3 435.0v4.6M442.9 431.4h4.6M445.2 429.1v4.6M444.5 431.9h4.6M446.8 429.6v4.6M451.7 429.4h4.6M454.0 427.1v4.6M443.8 436.3h4.6M446.1 434.0v4.6M445.6 432.9h4.6M447.9 430.6v4.6M472.6 424.5h4.6M474.9 422.2v4.6M443.3 429.4h4.6M445.6 427.1v4.6M448.1 432.4h4.6M450.4 430.1v4.6M446.2 433.9h4.6M448.5 431.6v4.6M444.8 429.4h4.6M447.1 427.1v4.6M474.9 417.2h4.6M477.2 414.9v4.6M452.8 427.0h4.6M455.1 424.7v4.6M441.1 436.3h4.6M443.4 434.0v4.6M446.9 432.4h4.6M449.2 430.1v4.6M452.8 426.5h4.6M455.1 424.2v4.6M481.8 412.8h4.6M484.1 410.5v4.6M448.3 433.9h4.6M450.6 431.6v4.6M452.7 428.0h4.6M455.0 425.7v4.6M443.1 434.8h4.6M445.4 432.5v4.6M456.6 430.4h4.6M458.9 428.1v4.6M454.7 427.5h4.6M457.0 425.2v4.6M458.8 431.4h4.6M461.1 429.1v4.6M442.0 436.8h4.6M444.3 434.5v4.6M444.8 433.4h4.6M447.1 431.1v4.6M443.3 435.8h4.6M445.6 433.5v4.6M443.4 432.9h4.6M445.7 430.6v4.6M445.0 435.3h4.6M447.3 433.0v4.6M448.3 428.5h4.6M450.6 426.2v4.6M453.9 431.4h4.6M456.2 429.1v4.6M444.6 435.8h4.6M446.9 433.5v4.6M444.6 433.4h4.6M446.9 431.1v4.6M453.7 430.4h4.6M456.0 428.1v4.6M464.3 410.8h4.6M466.6 408.5v4.6M450.9 429.9h4.6M453.2 427.6v4.6M442.8 431.9h4.6M445.1 429.6v4.6M443.5 434.8h4.6M445.8 432.5v4.6M444.4 434.8h4.6M446.7 432.5v4.6M442.4 436.8h4.6M444.7 434.5v4.6M452.8 431.9h4.6M455.1 429.6v4.6M445.2 430.9h4.6M447.5 428.6v4.6M441.2 433.9h4.6M443.5 431.6v4.6M445.2 430.9h4.6M447.5 428.6v4.6M456.3 426.0h4.6M458.6 423.7v4.6M442.0 435.3h4.6M444.3 433.0v4.6M444.5 430.4h4.6M446.8 428.1v4.6M442.3 428.5h4.6M444.6 426.2v4.6M449.1 433.9h4.6M451.4 431.6v4.6M451.4 431.4h4.6M453.7 429.1v4.6M441.3 434.8h4.6M443.6 432.5v4.6M447.5 433.9h4.6M449.8 431.6v4.6M451.2 427.5h4.6M453.5 425.2v4.6M445.4 434.8h4.6M447.7 432.5v4.6M443.9 430.9h4.6M446.2 428.6v4.6M443.8 433.4h4.6M446.1 431.1v4.6M444.4 433.4h4.6M446.7 431.1v4.6M450.1 434.4h4.6M452.4 432.1v4.6M447.7 431.4h4.6M450.0 429.1v4.6M440.9 436.8h4.6M443.2 434.5v4.6M442.9 434.8h4.6M445.2 432.5v4.6M442.6 433.4h4.6M444.9 431.1v4.6M441.0 436.3h4.6M443.3 434.0v4.6M441.5 436.8h4.6M443.8 434.5v4.6M441.7 435.8h4.6M444.0 433.5v4.6M462.8 418.6h4.6M465.1 416.3v4.6M450.6 424.0h4.6M452.9 421.7v4.6M446.6 426.5h4.6M448.9 424.2v4.6M442.2 434.8h4.6M444.5 432.5v4.6M471.3 418.6h4.6M473.6 416.3v4.6M482.7 405.9h4.6M485.0 403.6v4.6M441.9 435.8h4.6M444.2 433.5v4.6M441.4 436.3h4.6M443.7 434.0v4.6M463.2 426.0h4.6M465.5 423.7v4.6M450.5 431.9h4.6M452.8 429.6v4.6M446.1 434.4h4.6M448.4 432.1v4.6M450.1 431.9h4.6M452.4 429.6v4.6M445.5 436.3h4.6M447.8 434.0v4.6M448.3 435.8h4.6M450.6 433.5v4.6M452.4 433.9h4.6M454.7 431.6v4.6M442.1 435.8h4.6M444.4 433.5v4.6M440.8 436.8h4.6M443.1 434.5v4.6M448.7 430.9h4.6M451.0 428.6v4.6M443.1 435.3h4.6M445.4 433.0v4.6M441.8 432.4h4.6M444.1 430.1v4.6M440.9 435.8h4.6M443.2 433.5v4.6M458.4 431.4h4.6M460.7 429.1v4.6M446.8 432.9h4.6M449.1 430.6v4.6M459.6 421.6h4.6M461.9 419.3v4.6M453.9 426.0h4.6M456.2 423.7v4.6M459.6 429.4h4.6M461.9 427.1v4.6M445.9 433.9h4.6M448.2 431.6v4.6M447.2 433.9h4.6M449.5 431.6v4.6M444.6 435.3h4.6M446.9 433.0v4.6M443.3 436.3h4.6M445.6 434.0v4.6M443.2 435.3h4.6M445.5 433.0v4.6M444.3 430.9h4.6M446.6 428.6v4.6M441.2 428.0h4.6M443.5 425.7v4.6M441.3 432.9h4.6M443.6 430.6v4.6M443.9 436.8h4.6M446.2 434.5v4.6M452.5 429.9h4.6M454.8 427.6v4.6M445.9 426.0h4.6M448.2 423.7v4.6M443.3 436.3h4.6M445.6 434.0v4.6M441.0 433.9h4.6M443.3 431.6v4.6M461.4 426.5h4.6M463.7 424.2v4.6M443.3 433.9h4.6M445.6 431.6v4.6M468.4 420.6h4.6M470.7 418.3v4.6M441.3 437.3h4.6M443.6 435.0v4.6M452.6 427.0h4.6M454.9 424.7v4.6M442.9 437.3h4.6M445.2 435.0v4.6M453.3 424.0h4.6M455.6 421.7v4.6M448.2 424.5h4.6M450.5 422.2v4.6M441.9 436.3h4.6M444.2 434.0v4.6M442.1 435.8h4.6M444.4 433.5v4.6M443.9 435.8h4.6M446.2 433.5v4.6M444.8 429.0h4.6M447.1 426.7v4.6M445.9 425.0h4.6M448.2 422.7v4.6M445.0 435.3h4.6M447.3 433.0v4.6M465.9 418.6h4.6M468.2 416.3v4.6M454.4 422.1h4.6M456.7 419.8v4.6M442.7 436.3h4.6M445.0 434.0v4.6M446.9 427.0h4.6M449.2 424.7v4.6M444.8 433.4h4.6M447.1 431.1v4.6M440.4 436.3h4.6M442.7 434.0v4.6M448.5 434.4h4.6M450.8 432.1v4.6M451.7 430.9h4.6M454.0 428.6v4.6M442.8 434.4h4.6M445.1 432.1v4.6M461.4 429.9h4.6M463.7 427.6v4.6M445.8 429.0h4.6M448.1 426.7v4.6M444.6 432.4h4.6M446.9 430.1v4.6M443.4 435.3h4.6M445.7 433.0v4.6M450.8 421.6h4.6M453.1 419.3v4.6M442.9 435.8h4.6M445.2 433.5v4.6M454.8 433.9h4.6M457.1 431.6v4.6M443.7 436.3h4.6M446.0 434.0v4.6M441.9 434.8h4.6M444.2 432.5v4.6M449.7 433.9h4.6M452.0 431.6v4.6M450.1 430.9h4.6M452.4 428.6v4.6M446.0 435.8h4.6M448.3 433.5v4.6M445.1 433.9h4.6M447.4 431.6v4.6M450.0 431.4h4.6M452.3 429.1v4.6M450.6 427.0h4.6M452.9 424.7v4.6M450.8 429.0h4.6M453.1 426.7v4.6M446.3 434.4h4.6M448.6 432.1v4.6M441.2 434.8h4.6M443.5 432.5v4.6M444.0 431.4h4.6M446.3 429.1v4.6M444.5 434.4h4.6M446.8 432.1v4.6M442.1 436.3h4.6M444.4 434.0v4.6M442.3 436.8h4.6M444.6 434.5v4.6M442.8 434.8h4.6M445.1 432.5v4.6M441.4 435.8h4.6M443.7 433.5v4.6M441.3 422.6h4.6M443.6 420.3v4.6M444.7 430.4h4.6M447.0 428.1v4.6M451.9 426.5h4.6M454.2 424.2v4.6M443.2 434.4h4.6M445.5 432.1v4.6M444.4 431.4h4.6M446.7 429.1v4.6M448.3 433.9h4.6M450.6 431.6v4.6M442.4 436.3h4.6M444.7 434.0v4.6M456.1 429.0h4.6M458.4 426.7v4.6M447.9 434.4h4.6M450.2 432.1v4.6M455.3 427.0h4.6M457.6 424.7v4.6M445.9 432.9h4.6M448.2 430.6v4.6M441.8 428.0h4.6M444.1 425.7v4.6M444.7 435.3h4.6M447.0 433.0v4.6M444.3 433.9h4.6M446.6 431.6v4.6M442.2 437.3h4.6M444.5 435.0v4.6M441.1 435.8h4.6M443.4 433.5v4.6M450.4 432.9h4.6M452.7 430.6v4.6M453.1 430.4h4.6M455.4 428.1v4.6M440.8 436.8h4.6M443.1 434.5v4.6M443.3 436.8h4.6M445.6 434.5v4.6M455.1 433.4h4.6M457.4 431.1v4.6M444.0 429.9h4.6M446.3 427.6v4.6M446.2 436.3h4.6M448.5 434.0v4.6M442.7 433.4h4.6M445.0 431.1v4.6M450.7 431.9h4.6M453.0 429.6v4.6M444.4 436.3h4.6M446.7 434.0v4.6M443.6 436.3h4.6M445.9 434.0v4.6M444.5 434.8h4.6M446.8 432.5v4.6M442.4 437.3h4.6M444.7 435.0v4.6M446.3 434.4h4.6M448.6 432.1v4.6M443.3 436.8h4.6M445.6 434.5v4.6M441.8 435.8h4.6M444.1 433.5v4.6M445.8 436.8h4.6M448.1 434.5v4.6M458.8 419.6h4.6M461.1 417.3v4.6M444.6 431.9h4.6M446.9 429.6v4.6M457.9 428.0h4.6M460.2 425.7v4.6M442.7 433.4h4.6M445.0 431.1v4.6M448.0 432.4h4.6M450.3 430.1v4.6M448.4 433.9h4.6M450.7 431.6v4.6M447.9 430.4h4.6M450.2 428.1v4.6M443.4 436.8h4.6M445.7 434.5v4.6M447.9 432.4h4.6M450.2 430.1v4.6M441.6 432.9h4.6M443.9 430.6v4.6M464.0 427.5h4.6M466.3 425.2v4.6M441.3 436.8h4.6M443.6 434.5v4.6M447.2 435.3h4.6M449.5 433.0v4.6M442.4 435.3h4.6M444.7 433.0v4.6M440.6 436.8h4.6M442.9 434.5v4.6M443.0 435.3h4.6M445.3 433.0v4.6M440.8 436.8h4.6M443.1 434.5v4.6M443.2 431.9h4.6M445.5 429.6v4.6M451.8 432.9h4.6M454.1 430.6v4.6M448.0 434.8h4.6M450.3 432.5v4.6M445.6 435.8h4.6M447.9 433.5v4.6M459.7 426.5h4.6M462.0 424.2v4.6M443.3 432.9h4.6M445.6 430.6v4.6M443.8 435.8h4.6M446.1 433.5v4.6M444.1 435.8h4.6M446.4 433.5v4.6M446.6 428.5h4.6M448.9 426.2v4.6M445.0 433.4h4.6M447.3 431.1v4.6M441.0 436.8h4.6M443.3 434.5v4.6M452.5 429.4h4.6M454.8 427.1v4.6M441.3 429.0h4.6M443.6 426.7v4.6M454.3 421.6h4.6M456.6 419.3v4.6M441.2 435.8h4.6M443.5 433.5v4.6M452.1 431.4h4.6M454.4 429.1v4.6M450.6 433.9h4.6M452.9 431.6v4.6M440.9 435.8h4.6M443.2 433.5v4.6M443.2 434.8h4.6M445.5 432.5v4.6M445.5 434.4h4.6M447.8 432.1v4.6M443.2 436.8h4.6M445.5 434.5v4.6M463.1 429.9h4.6M465.4 427.6v4.6M451.7 432.9h4.6M454.0 430.6v4.6M463.3 425.0h4.6M465.6 422.7v4.6M441.8 431.9h4.6M444.1 429.6v4.6M447.0 430.4h4.6M449.3 428.1v4.6M466.7 425.0h4.6M469.0 422.7v4.6M443.7 432.9h4.6M446.0 430.6v4.6M442.0 436.3h4.6M444.3 434.0v4.6M444.6 432.9h4.6M446.9 430.6v4.6M456.0 422.6h4.6M458.3 420.3v4.6M446.0 435.8h4.6M448.3 433.5v4.6M442.6 432.9h4.6M444.9 430.6v4.6M451.3 428.0h4.6M453.6 425.7v4.6M448.5 430.9h4.6M450.8 428.6v4.6M442.5 434.8h4.6M444.8 432.5v4.6M453.7 426.5h4.6M456.0 424.2v4.6M444.5 435.3h4.6M446.8 433.0v4.6M440.9 437.3h4.6M443.2 435.0v4.6M443.2 436.3h4.6M445.5 434.0v4.6M440.4 437.3h4.6M442.7 435.0v4.6M453.0 430.4h4.6M455.3 428.1v4.6M443.5 433.4h4.6M445.8 431.1v4.6M447.1 434.4h4.6M449.4 432.1v4.6M446.0 433.9h4.6M448.3 431.6v4.6M452.6 433.4h4.6M454.9 431.1v4.6M442.8 436.3h4.6M445.1 434.0v4.6M443.8 434.8h4.6M446.1 432.5v4.6M453.1 435.8h4.6M455.4 433.5v4.6M447.6 435.8h4.6M449.9 433.5v4.6M443.9 434.4h4.6M446.2 432.1v4.6M449.6 434.4h4.6M451.9 432.1v4.6M441.9 434.4h4.6M444.2 432.1v4.6M443.7 436.8h4.6M446.0 434.5v4.6M445.3 436.8h4.6M447.6 434.5v4.6M459.5 426.5h4.6M461.8 424.2v4.6M450.2 429.0h4.6M452.5 426.7v4.6M450.0 427.0h4.6M452.3 424.7v4.6M446.3 435.3h4.6M448.6 433.0v4.6M443.5 436.3h4.6M445.8 434.0v4.6M447.7 433.4h4.6M450.0 431.1v4.6M446.5 433.4h4.6M448.8 431.1v4.6M458.9 424.0h4.6M461.2 421.7v4.6M441.8 433.9h4.6M444.1 431.6v4.6M453.4 426.0h4.6M455.7 423.7v4.6M443.8 431.4h4.6M446.1 429.1v4.6M444.1 435.3h4.6M446.4 433.0v4.6M441.0 433.4h4.6M443.3 431.1v4.6M443.9 434.8h4.6M446.2 432.5v4.6M443.1 431.4h4.6M445.4 429.1v4.6M440.9 436.3h4.6M443.2 434.0v4.6M458.8 427.0h4.6M461.1 424.7v4.6M444.8 433.9h4.6M447.1 431.6v4.6M450.7 434.4h4.6M453.0 432.1v4.6M449.2 429.0h4.6M451.5 426.7v4.6M456.4 431.9h4.6M458.7 429.6v4.6M441.0 437.3h4.6M443.3 435.0v4.6M452.2 430.9h4.6M454.5 428.6v4.6M444.8 434.4h4.6M447.1 432.1v4.6M443.9 434.8h4.6M446.2 432.5v4.6M441.5 436.3h4.6M443.8 434.0v4.6M454.1 424.0h4.6M456.4 421.7v4.6M441.0 429.0h4.6M443.3 426.7v4.6M443.5 436.3h4.6M445.8 434.0v4.6M443.7 434.4h4.6M446.0 432.1v4.6M446.2 434.8h4.6M448.5 432.5v4.6M440.7 436.8h4.6M443.0 434.5v4.6M447.1 433.4h4.6M449.4 431.1v4.6M446.0 434.4h4.6M448.3 432.1v4.6M442.3 435.8h4.6M444.6 433.5v4.6M456.2 427.0h4.6M458.5 424.7v4.6M468.9 422.6h4.6M471.2 420.3v4.6M451.2 431.9h4.6M453.5 429.6v4.6M444.7 432.9h4.6M447.0 430.6v4.6M446.9 435.3h4.6M449.2 433.0v4.6M442.1 436.8h4.6M444.4 434.5v4.6M441.0 435.3h4.6M443.3 433.0v4.6M441.8 436.3h4.6M444.1 434.0v4.6M441.8 436.3h4.6M444.1 434.0v4.6M442.2 434.8h4.6M444.5 432.5v4.6M442.4 436.3h4.6M444.7 434.0v4.6M442.5 436.8h4.6M444.8 434.5v4.6M444.4 430.9h4.6M446.7 428.6v4.6M461.2 429.4h4.6M463.5 427.1v4.6M444.2 434.4h4.6M446.5 432.1v4.6M442.3 435.8h4.6M444.6 433.5v4.6M449.6 433.4h4.6M451.9 431.1v4.6M443.8 432.9h4.6M446.1 430.6v4.6M455.2 425.5h4.6M457.5 423.2v4.6M487.4 414.2h4.6M489.7 411.9v4.6M443.4 434.8h4.6M445.7 432.5v4.6M449.3 434.4h4.6M451.6 432.1v4.6M476.4 419.6h4.6M478.7 417.3v4.6M444.6 434.8h4.6M446.9 432.5v4.6M442.9 433.4h4.6M445.2 431.1v4.6M448.2 433.9h4.6M450.5 431.6v4.6M448.7 433.9h4.6M451.0 431.6v4.6M454.3 435.3h4.6M456.6 433.0v4.6M444.4 433.4h4.6M446.7 431.1v4.6M451.4 430.9h4.6M453.7 428.6v4.6M463.8 427.5h4.6M466.1 425.2v4.6M444.3 435.3h4.6M446.6 433.0v4.6M452.6 429.4h4.6M454.9 427.1v4.6M443.5 437.3h4.6M445.8 435.0v4.6M443.3 437.3h4.6M445.6 435.0v4.6M451.4 434.4h4.6M453.7 432.1v4.6M447.4 434.4h4.6M449.7 432.1v4.6M444.8 434.4h4.6M447.1 432.1v4.6M454.9 424.0h4.6M457.2 421.7v4.6M446.1 433.4h4.6M448.4 431.1v4.6M453.4 431.4h4.6M455.7 429.1v4.6M462.6 425.5h4.6M464.9 423.2v4.6M470.1 425.0h4.6M472.4 422.7v4.6M445.7 436.3h4.6M448.0 434.0v4.6M446.8 434.4h4.6M449.1 432.1v4.6M441.7 433.9h4.6M444.0 431.6v4.6M443.3 433.9h4.6M445.6 431.6v4.6M451.3 427.0h4.6M453.6 424.7v4.6M453.1 431.9h4.6M455.4 429.6v4.6M451.9 432.4h4.6M454.2 430.1v4.6M443.6 433.9h4.6M445.9 431.6v4.6M448.3 434.4h4.6M450.6 432.1v4.6M442.3 436.3h4.6M444.6 434.0v4.6M445.2 427.5h4.6M447.5 425.2v4.6M444.7 435.3h4.6M447.0 433.0v4.6M441.9 435.8h4.6M444.2 433.5v4.6M464.9 408.8h4.6M467.2 406.5v4.6M442.0 433.9h4.6M444.3 431.6v4.6M444.2 432.9h4.6M446.5 430.6v4.6M442.4 436.3h4.6M444.7 434.0v4.6M456.2 433.9h4.6M458.5 431.6v4.6M450.0 427.5h4.6M452.3 425.2v4.6M448.7 434.8h4.6M451.0 432.5v4.6M444.9 434.4h4.6M447.2 432.1v4.6M443.0 437.3h4.6M445.3 435.0v4.6M441.6 434.8h4.6M443.9 432.5v4.6M445.5 428.5h4.6M447.8 426.2v4.6M443.5 423.1h4.6M445.8 420.8v4.6M445.4 430.9h4.6M447.7 428.6v4.6M443.4 436.8h4.6M445.7 434.5v4.6M444.7 432.4h4.6M447.0 430.1v4.6M442.6 436.3h4.6M444.9 434.0v4.6M450.5 429.9h4.6M452.8 427.6v4.6M458.1 419.1h4.6M460.4 416.8v4.6M441.9 434.4h4.6M444.2 432.1v4.6M441.9 433.9h4.6M444.2 431.6v4.6M444.0 434.8h4.6M446.3 432.5v4.6M445.7 434.8h4.6M448.0 432.5v4.6M445.2 436.3h4.6M447.5 434.0v4.6M446.0 420.1h4.6M448.3 417.8v4.6M449.3 430.4h4.6M451.6 428.1v4.6M442.0 436.3h4.6M444.3 434.0v4.6M443.2 434.8h4.6M445.5 432.5v4.6M441.5 435.3h4.6M443.8 433.0v4.6M444.4 430.4h4.6M446.7 428.1v4.6M442.1 434.8h4.6M444.4 432.5v4.6M442.9 436.8h4.6M445.2 434.5v4.6M464.3 425.0h4.6M466.6 422.7v4.6M464.6 430.9h4.6M466.9 428.6v4.6M462.1 423.6h4.6M464.4 421.3v4.6M452.5 429.4h4.6M454.8 427.1v4.6M456.8 432.9h4.6M459.1 430.6v4.6M442.0 436.3h4.6M444.3 434.0v4.6M442.4 436.3h4.6M444.7 434.0v4.6M449.4 429.0h4.6M451.7 426.7v4.6M450.5 426.5h4.6M452.8 424.2v4.6M442.2 435.8h4.6M444.5 433.5v4.6M454.5 431.9h4.6M456.8 429.6v4.6M444.9 433.4h4.6M447.2 431.1v4.6M442.4 436.3h4.6M444.7 434.0v4.6M456.1 426.5h4.6M458.4 424.2v4.6M472.6 419.1h4.6M474.9 416.8v4.6M450.6 431.9h4.6M452.9 429.6v4.6M443.8 435.8h4.6M446.1 433.5v4.6M443.2 436.8h4.6M445.5 434.5v4.6M467.9 420.1h4.6M470.2 417.8v4.6M454.5 427.5h4.6M456.8 425.2v4.6M456.1 411.3h4.6M458.4 409.0v4.6M446.5 430.9h4.6M448.8 428.6v4.6M441.2 436.3h4.6M443.5 434.0v4.6M442.6 435.8h4.6M444.9 433.5v4.6M442.4 435.3h4.6M444.7 433.0v4.6M446.8 435.3h4.6M449.1 433.0v4.6M446.7 435.3h4.6M449.0 433.0v4.6M450.4 428.5h4.6M452.7 426.2v4.6M447.6 427.5h4.6M449.9 425.2v4.6M446.3 434.4h4.6M448.6 432.1v4.6M451.6 427.0h4.6M453.9 424.7v4.6M454.9 434.8h4.6M457.2 432.5v4.6M441.6 436.3h4.6M443.9 434.0v4.6M452.9 428.0h4.6M455.2 425.7v4.6M468.1 427.5h4.6M470.4 425.2v4.6M444.2 433.9h4.6M446.5 431.6v4.6M441.6 437.3h4.6M443.9 435.0v4.6M447.0 434.4h4.6M449.3 432.1v4.6M443.9 431.9h4.6M446.2 429.6v4.6M446.2 433.9h4.6M448.5 431.6v4.6M464.7 424.0h4.6M467.0 421.7v4.6M441.3 436.8h4.6M443.6 434.5v4.6M441.3 437.3h4.6M443.6 435.0v4.6M441.3 436.3h4.6M443.6 434.0v4.6M445.8 433.9h4.6M448.1 431.6v4.6M440.9 437.3h4.6M443.2 435.0v4.6M447.7 434.4h4.6M450.0 432.1v4.6M447.5 433.4h4.6M449.8 431.1v4.6M443.0 436.3h4.6M445.3 434.0v4.6M442.3 437.3h4.6M444.6 435.0v4.6M442.3 437.3h4.6M444.6 435.0v4.6M451.3 431.4h4.6M453.6 429.1v4.6M442.5 436.3h4.6M444.8 434.0v4.6M449.5 430.9h4.6M451.8 428.6v4.6M451.5 429.9h4.6M453.8 427.6v4.6M443.1 432.9h4.6M445.4 430.6v4.6M449.8 431.4h4.6M452.1 429.1v4.6M448.8 433.9h4.6M451.1 431.6v4.6M444.2 435.3h4.6M446.5 433.0v4.6M445.8 432.9h4.6M448.1 430.6v4.6M448.4 431.4h4.6M450.7 429.1v4.6M452.1 434.8h4.6M454.4 432.5v4.6M442.6 436.8h4.6M444.9 434.5v4.6M442.0 436.3h4.6M444.3 434.0v4.6M452.9 432.4h4.6M455.2 430.1v4.6M442.1 431.9h4.6M444.4 429.6v4.6M441.5 430.9h4.6M443.8 428.6v4.6M442.0 434.8h4.6M444.3 432.5v4.6M444.8 435.8h4.6M447.1 433.5v4.6M462.9 427.0h4.6M465.2 424.7v4.6M449.0 429.4h4.6M451.3 427.1v4.6M442.0 435.3h4.6M444.3 433.0v4.6M442.6 436.8h4.6M444.9 434.5v4.6M442.7 434.8h4.6M445.0 432.5v4.6M455.6 425.0h4.6M457.9 422.7v4.6M445.2 432.9h4.6M447.5 430.6v4.6M440.7 437.3h4.6M443.0 435.0v4.6M441.4 434.4h4.6M443.7 432.1v4.6M456.0 427.5h4.6M458.3 425.2v4.6M442.1 435.8h4.6M444.4 433.5v4.6M441.2 437.3h4.6M443.5 435.0v4.6M446.4 434.4h4.6M448.7 432.1v4.6M445.7 427.5h4.6M448.0 425.2v4.6M443.2 436.3h4.6M445.5 434.0v4.6M443.5 432.4h4.6M445.8 430.1v4.6M452.9 432.9h4.6M455.2 430.6v4.6M444.4 436.8h4.6M446.7 434.5v4.6M443.6 435.3h4.6M445.9 433.0v4.6M445.7 436.8h4.6M448.0 434.5v4.6M446.8 433.4h4.6M449.1 431.1v4.6M444.0 432.9h4.6M446.3 430.6v4.6M453.4 431.9h4.6M455.7 429.6v4.6M445.4 432.4h4.6M447.7 430.1v4.6M458.9 426.5h4.6M461.2 424.2v4.6M454.6 431.9h4.6M456.9 429.6v4.6M445.2 434.4h4.6M447.5 432.1v4.6M456.7 430.9h4.6M459.0 428.6v4.6M441.9 434.4h4.6M444.2 432.1v4.6M454.5 429.0h4.6M456.8 426.7v4.6M443.5 435.8h4.6M445.8 433.5v4.6M444.9 436.3h4.6M447.2 434.0v4.6M463.4 429.4h4.6M465.7 427.1v4.6M441.5 436.8h4.6M443.8 434.5v4.6M442.0 434.4h4.6M444.3 432.1v4.6M442.3 435.3h4.6M444.6 433.0v4.6M459.1 428.0h4.6M461.4 425.7v4.6M457.3 424.5h4.6M459.6 422.2v4.6M448.0 431.9h4.6M450.3 429.6v4.6M444.3 434.8h4.6M446.6 432.5v4.6M441.7 432.4h4.6M444.0 430.1v4.6M442.2 433.4h4.6M444.5 431.1v4.6M444.9 431.4h4.6M447.2 429.1v4.6M443.9 430.9h4.6M446.2 428.6v4.6M452.4 431.4h4.6M454.7 429.1v4.6M444.8 433.4h4.6M447.1 431.1v4.6M456.4 432.9h4.6M458.7 430.6v4.6M441.9 435.3h4.6M444.2 433.0v4.6M442.3 435.8h4.6M444.6 433.5v4.6M451.8 423.6h4.6M454.1 421.3v4.6M447.5 427.0h4.6M449.8 424.7v4.6M460.5 428.5h4.6M462.8 426.2v4.6M449.3 426.5h4.6M451.6 424.2v4.6M444.7 431.4h4.6M447.0 429.1v4.6M450.6 430.4h4.6M452.9 428.1v4.6M444.7 436.3h4.6M447.0 434.0v4.6M448.2 432.4h4.6M450.5 430.1v4.6M442.0 433.9h4.6M444.3 431.6v4.6M451.3 429.4h4.6M453.6 427.1v4.6M444.9 433.4h4.6M447.2 431.1v4.6M443.0 433.9h4.6M445.3 431.6v4.6M443.8 435.3h4.6M446.1 433.0v4.6M443.3 435.3h4.6M445.6 433.0v4.6M441.6 435.8h4.6M443.9 433.5v4.6M444.8 432.9h4.6M447.1 430.6v4.6M463.3 425.5h4.6M465.6 423.2v4.6M452.1 431.4h4.6M454.4 429.1v4.6M444.7 433.9h4.6M447.0 431.6v4.6M445.4 429.4h4.6M447.7 427.1v4.6M445.8 435.8h4.6M448.1 433.5v4.6M456.7 422.6h4.6M459.0 420.3v4.6M443.2 432.9h4.6M445.5 430.6v4.6M441.1 436.8h4.6M443.4 434.5v4.6M441.7 435.3h4.6M444.0 433.0v4.6M473.3 425.5h4.6M475.6 423.2v4.6M444.4 430.9h4.6M446.7 428.6v4.6M442.5 435.3h4.6M444.8 433.0v4.6M445.2 433.4h4.6M447.5 431.1v4.6M444.0 433.9h4.6M446.3 431.6v4.6M450.3 431.9h4.6M452.6 429.6v4.6M445.3 436.3h4.6M447.6 434.0v4.6M444.5 432.9h4.6M446.8 430.6v4.6M454.7 424.5h4.6M457.0 422.2v4.6M442.3 434.4h4.6M444.6 432.1v4.6M447.9 429.9h4.6M450.2 427.6v4.6M441.9 436.8h4.6M444.2 434.5v4.6M474.7 429.4h4.6M477.0 427.1v4.6M442.7 435.8h4.6M445.0 433.5v4.6M442.5 435.3h4.6M444.8 433.0v4.6M451.5 432.4h4.6M453.8 430.1v4.6M442.2 434.8h4.6M444.5 432.5v4.6M446.5 433.4h4.6M448.8 431.1v4.6M441.1 433.9h4.6M443.4 431.6v4.6M441.3 429.4h4.6M443.6 427.1v4.6M449.5 433.4h4.6M451.8 431.1v4.6M448.5 432.9h4.6M450.8 430.6v4.6M445.2 419.1h4.6M447.5 416.8v4.6M450.1 431.9h4.6M452.4 429.6v4.6M453.9 431.9h4.6M456.2 429.6v4.6M443.2 435.3h4.6M445.5 433.0v4.6M440.8 437.3h4.6M443.1 435.0v4.6M460.2 426.0h4.6M462.5 423.7v4.6M459.0 427.5h4.6M461.3 425.2v4.6M442.9 433.4h4.6M445.2 431.1v4.6M441.5 435.8h4.6M443.8 433.5v4.6M444.5 435.8h4.6M446.8 433.5v4.6M443.5 435.3h4.6M445.8 433.0v4.6M442.6 433.4h4.6M444.9 431.1v4.6M444.9 434.4h4.6M447.2 432.1v4.6M449.4 432.9h4.6M451.7 430.6v4.6M445.7 433.4h4.6M448.0 431.1v4.6M451.8 429.0h4.6M454.1 426.7v4.6M449.4 432.9h4.6M451.7 430.6v4.6M442.2 433.9h4.6M444.5 431.6v4.6M441.9 436.3h4.6M444.2 434.0v4.6M442.8 436.8h4.6M445.1 434.5v4.6M442.8 436.3h4.6M445.1 434.0v4.6M449.2 430.9h4.6M451.5 428.6v4.6M460.7 420.6h4.6M463.0 418.3v4.6M442.8 436.3h4.6M445.1 434.0v4.6M442.8 437.3h4.6M445.1 435.0v4.6M441.4 436.8h4.6M443.7 434.5v4.6M450.0 431.4h4.6M452.3 429.1v4.6M444.1 434.8h4.6M446.4 432.5v4.6M441.6 433.4h4.6M443.9 431.1v4.6M443.4 436.8h4.6M445.7 434.5v4.6M441.1 437.3h4.6M443.4 435.0v4.6M474.0 422.6h4.6M476.3 420.3v4.6M479.8 426.0h4.6M482.1 423.7v4.6M442.5 432.4h4.6M444.8 430.1v4.6M442.1 436.3h4.6M444.4 434.0v4.6M440.7 433.9h4.6M443.0 431.6v4.6M442.5 433.4h4.6M444.8 431.1v4.6M446.0 434.8h4.6M448.3 432.5v4.6M455.3 430.9h4.6M457.6 428.6v4.6M441.7 432.4h4.6M444.0 430.1v4.6M449.8 430.4h4.6M452.1 428.1v4.6M461.3 419.1h4.6M463.6 416.8v4.6M441.2 429.9h4.6M443.5 427.6v4.6M442.6 434.4h4.6M444.9 432.1v4.6M442.9 436.3h4.6M445.2 434.0v4.6M441.2 435.3h4.6M443.5 433.0v4.6M449.2 435.3h4.6M451.5 433.0v4.6M442.7 433.4h4.6M445.0 431.1v4.6M447.1 433.4h4.6M449.4 431.1v4.6M440.9 435.8h4.6M443.2 433.5v4.6M471.0 420.6h4.6M473.3 418.3v4.6M452.4 433.9h4.6M454.7 431.6v4.6M450.8 432.4h4.6M453.1 430.1v4.6M441.6 437.3h4.6M443.9 435.0v4.6M442.9 433.4h4.6M445.2 431.1v4.6M443.3 435.8h4.6M445.6 433.5v4.6M443.0 432.9h4.6M445.3 430.6v4.6M443.8 433.4h4.6M446.1 431.1v4.6M452.9 417.2h4.6M455.2 414.9v4.6M442.7 428.0h4.6M445.0 425.7v4.6M447.2 430.4h4.6M449.5 428.1v4.6M443.9 431.9h4.6M446.2 429.6v4.6M443.2 432.9h4.6M445.5 430.6v4.6M446.0 431.4h4.6M448.3 429.1v4.6M451.3 430.4h4.6M453.6 428.1v4.6M445.2 435.8h4.6M447.5 433.5v4.6M444.3 435.3h4.6M446.6 433.0v4.6M441.6 436.3h4.6M443.9 434.0v4.6M442.5 434.8h4.6M444.8 432.5v4.6M451.4 431.9h4.6M453.7 429.6v4.6M441.4 435.8h4.6M443.7 433.5v4.6M442.2 433.4h4.6M444.5 431.1v4.6M441.6 436.8h4.6M443.9 434.5v4.6M441.9 431.4h4.6M444.2 429.1v4.6M441.9 436.8h4.6M444.2 434.5v4.6M445.5 429.0h4.6M447.8 426.7v4.6M446.4 433.4h4.6M448.7 431.1v4.6M446.2 433.9h4.6M448.5 431.6v4.6M442.3 435.3h4.6M444.6 433.0v4.6M442.2 436.8h4.6M444.5 434.5v4.6M454.7 431.4h4.6M457.0 429.1v4.6M444.6 434.4h4.6M446.9 432.1v4.6M448.9 431.4h4.6M451.2 429.1v4.6M443.3 435.8h4.6M445.6 433.5v4.6M444.7 434.8h4.6M447.0 432.5v4.6M442.3 435.8h4.6M444.6 433.5v4.6M455.1 433.9h4.6M457.4 431.6v4.6M440.7 427.5h4.6M443.0 425.2v4.6M457.3 434.4h4.6M459.6 432.1v4.6M443.1 436.8h4.6M445.4 434.5v4.6M447.1 434.4h4.6M449.4 432.1v4.6M443.0 432.9h4.6M445.3 430.6v4.6M461.6 427.5h4.6M463.9 425.2v4.6M444.4 433.4h4.6M446.7 431.1v4.6M442.1 434.8h4.6M444.4 432.5v4.6M441.9 435.3h4.6M444.2 433.0v4.6M445.4 433.9h4.6M447.7 431.6v4.6M449.9 434.4h4.6M452.2 432.1v4.6M446.0 431.4h4.6M448.3 429.1v4.6M443.1 436.3h4.6M445.4 434.0v4.6M442.0 436.8h4.6M444.3 434.5v4.6M447.9 431.4h4.6M450.2 429.1v4.6M451.1 429.4h4.6M453.4 427.1v4.6M442.4 432.4h4.6M444.7 430.1v4.6M444.9 432.9h4.6M447.2 430.6v4.6M444.1 434.4h4.6M446.4 432.1v4.6M440.6 437.3h4.6M442.9 435.0v4.6M474.2 417.2h4.6M476.5 414.9v4.6M463.5 424.0h4.6M465.8 421.7v4.6M443.5 435.3h4.6M445.8 433.0v4.6M448.7 433.9h4.6M451.0 431.6v4.6M441.2 437.3h4.6M443.5 435.0v4.6M442.3 436.3h4.6M444.6 434.0v4.6M442.3 435.8h4.6M444.6 433.5v4.6M460.9 428.0h4.6M463.2 425.7v4.6M447.0 430.9h4.6M449.3 428.6v4.6M441.1 432.9h4.6M443.4 430.6v4.6M446.1 436.3h4.6M448.4 434.0v4.6M445.8 436.8h4.6M448.1 434.5v4.6M445.4 433.9h4.6M447.7 431.6v4.6M446.4 432.9h4.6M448.7 430.6v4.6M462.2 428.5h4.6M464.5 426.2v4.6M447.1 427.0h4.6M449.4 424.7v4.6M476.9 421.1h4.6M479.2 418.8v4.6M446.5 431.9h4.6M448.8 429.6v4.6M444.7 433.9h4.6M447.0 431.6v4.6M440.9 437.3h4.6M443.2 435.0v4.6M443.8 436.3h4.6M446.1 434.0v4.6M458.2 432.4h4.6M460.5 430.1v4.6M447.0 433.4h4.6M449.3 431.1v4.6M443.0 431.9h4.6M445.3 429.6v4.6M452.0 428.5h4.6M454.3 426.2v4.6M444.3 433.9h4.6M446.6 431.6v4.6M445.8 432.4h4.6M448.1 430.1v4.6M442.6 434.8h4.6M444.9 432.5v4.6M441.0 436.8h4.6M443.3 434.5v4.6M441.5 436.3h4.6M443.8 434.0v4.6M447.7 433.9h4.6M450.0 431.6v4.6M446.1 434.4h4.6M448.4 432.1v4.6M454.7 425.0h4.6M457.0 422.7v4.6M453.6 431.4h4.6M455.9 429.1v4.6M443.4 433.9h4.6M445.7 431.6v4.6M447.8 430.9h4.6M450.1 428.6v4.6M443.5 430.9h4.6M445.8 428.6v4.6M443.4 431.9h4.6M445.7 429.6v4.6M450.3 432.9h4.6M452.6 430.6v4.6M443.9 435.3h4.6M446.2 433.0v4.6M450.4 435.3h4.6M452.7 433.0v4.6M445.3 434.4h4.6M447.6 432.1v4.6M441.0 432.4h4.6M443.3 430.1v4.6M450.3 432.9h4.6M452.6 430.6v4.6M445.2 433.4h4.6M447.5 431.1v4.6M446.8 434.8h4.6M449.1 432.5v4.6M468.0 425.5h4.6M470.3 423.2v4.6M454.2 426.5h4.6M456.5 424.2v4.6M463.0 427.5h4.6M465.3 425.2v4.6M441.7 436.3h4.6M444.0 434.0v4.6M442.6 434.8h4.6M444.9 432.5v4.6M447.3 433.4h4.6M449.6 431.1v4.6M443.4 437.3h4.6M445.7 435.0v4.6M441.3 436.8h4.6M443.6 434.5v4.6M441.4 436.3h4.6M443.7 434.0v4.6M442.5 435.3h4.6M444.8 433.0v4.6M444.6 432.4h4.6M446.9 430.1v4.6M451.6 432.4h4.6M453.9 430.1v4.6M440.8 435.3h4.6M443.1 433.0v4.6M441.5 434.8h4.6M443.8 432.5v4.6M441.6 436.8h4.6M443.9 434.5v4.6M442.2 435.8h4.6M444.5 433.5v4.6M458.7 427.5h4.6M461.0 425.2v4.6M447.1 434.4h4.6M449.4 432.1v4.6M441.9 433.9h4.6M444.2 431.6v4.6M441.7 436.8h4.6M444.0 434.5v4.6M446.4 435.3h4.6M448.7 433.0v4.6M457.2 427.0h4.6M459.5 424.7v4.6M447.8 433.9h4.6M450.1 431.6v4.6M453.7 433.4h4.6M456.0 431.1v4.6M445.3 430.4h4.6M447.6 428.1v4.6M441.1 436.8h4.6M443.4 434.5v4.6M443.0 434.8h4.6M445.3 432.5v4.6M447.7 432.9h4.6M450.0 430.6v4.6M449.6 431.9h4.6M451.9 429.6v4.6M447.0 427.0h4.6M449.3 424.7v4.6M447.4 435.8h4.6M449.7 433.5v4.6M460.4 432.4h4.6M462.7 430.1v4.6M440.7 437.3h4.6M443.0 435.0v4.6M441.3 434.4h4.6M443.6 432.1v4.6M450.0 430.4h4.6M452.3 428.1v4.6M441.2 437.3h4.6M443.5 435.0v4.6M442.5 435.3h4.6M444.8 433.0v4.6M442.1 436.3h4.6M444.4 434.0v4.6M456.6 433.4h4.6M458.9 431.1v4.6M442.4 435.3h4.6M444.7 433.0v4.6M450.6 434.4h4.6M452.9 432.1v4.6M441.8 436.8h4.6M444.1 434.5v4.6M461.1 429.0h4.6M463.4 426.7v4.6M450.3 430.9h4.6M452.6 428.6v4.6M451.1 421.6h4.6M453.4 419.3v4.6M446.4 432.9h4.6M448.7 430.6v4.6M451.9 427.5h4.6M454.2 425.2v4.6M451.3 430.9h4.6M453.6 428.6v4.6M443.4 437.3h4.6M445.7 435.0v4.6M444.9 434.8h4.6M447.2 432.5v4.6M442.6 434.4h4.6M444.9 432.1v4.6M455.9 426.5h4.6M458.2 424.2v4.6M446.2 428.5h4.6M448.5 426.2v4.6M466.8 425.0h4.6M469.1 422.7v4.6M443.5 435.8h4.6M445.8 433.5v4.6M443.1 436.8h4.6M445.4 434.5v4.6M442.8 435.8h4.6M445.1 433.5v4.6M443.7 432.4h4.6M446.0 430.1v4.6M447.8 434.8h4.6M450.1 432.5v4.6M445.7 431.4h4.6M448.0 429.1v4.6M441.6 429.0h4.6M443.9 426.7v4.6M447.6 430.4h4.6M449.9 428.1v4.6M449.9 433.4h4.6M452.2 431.1v4.6M442.5 436.8h4.6M444.8 434.5v4.6M476.5 409.8h4.6M478.8 407.5v4.6M448.1 430.9h4.6M450.4 428.6v4.6M466.8 426.0h4.6M469.1 423.7v4.6M446.0 430.4h4.6M448.3 428.1v4.6M445.8 436.8h4.6M448.1 434.5v4.6M448.4 431.4h4.6M450.7 429.1v4.6M454.5 425.0h4.6M456.8 422.7v4.6M445.2 430.9h4.6M447.5 428.6v4.6M445.0 431.9h4.6M447.3 429.6v4.6M443.1 434.8h4.6M445.4 432.5v4.6M443.0 436.8h4.6M445.3 434.5v4.6M453.8 432.4h4.6M456.1 430.1v4.6M440.8 437.3h4.6M443.1 435.0v4.6M446.3 432.9h4.6M448.6 430.6v4.6M475.8 413.2h4.6M478.1 410.9v4.6M441.2 436.8h4.6M443.5 434.5v4.6M446.5 431.9h4.6M448.8 429.6v4.6M482.9 416.7h4.6M485.2 414.4v4.6M451.8 430.9h4.6M454.1 428.6v4.6M457.0 421.6h4.6M459.3 419.3v4.6M442.4 433.9h4.6M444.7 431.6v4.6M441.4 436.3h4.6M443.7 434.0v4.6M446.9 432.4h4.6M449.2 430.1v4.6M459.3 426.0h4.6M461.6 423.7v4.6M445.9 435.8h4.6M448.2 433.5v4.6M441.9 435.3h4.6M444.2 433.0v4.6M451.0 435.3h4.6M453.3 433.0v4.6M441.5 436.3h4.6M443.8 434.0v4.6M447.1 427.5h4.6M449.4 425.2v4.6M484.2 411.8h4.6M486.5 409.5v4.6M441.7 436.8h4.6M444.0 434.5v4.6M443.7 435.8h4.6M446.0 433.5v4.6M443.9 434.4h4.6M446.2 432.1v4.6M442.7 435.3h4.6M445.0 433.0v4.6M452.1 434.4h4.6M454.4 432.1v4.6M447.9 431.9h4.6M450.2 429.6v4.6M443.8 436.3h4.6M446.1 434.0v4.6M455.2 429.0h4.6M457.5 426.7v4.6M440.8 433.9h4.6M443.1 431.6v4.6M444.1 436.3h4.6M446.4 434.0v4.6M443.4 433.9h4.6M445.7 431.6v4.6M454.3 422.6h4.6M456.6 420.3v4.6M447.4 435.3h4.6M449.7 433.0v4.6M442.2 435.8h4.6M444.5 433.5v4.6M443.3 437.3h4.6M445.6 435.0v4.6M441.2 434.4h4.6M443.5 432.1v4.6M464.1 412.8h4.6M466.4 410.5v4.6M441.5 424.0h4.6M443.8 421.7v4.6M442.0 432.9h4.6M444.3 430.6v4.6M448.6 435.3h4.6M450.9 433.0v4.6M443.8 434.8h4.6M446.1 432.5v4.6M441.4 434.8h4.6M443.7 432.5v4.6M473.3 421.6h4.6M475.6 419.3v4.6M486.4 422.6h4.6M488.7 420.3v4.6M441.9 436.3h4.6M444.2 434.0v4.6M444.5 429.4h4.6M446.8 427.1v4.6M445.6 435.8h4.6M447.9 433.5v4.6M444.3 434.4h4.6M446.6 432.1v4.6M457.0 425.5h4.6M459.3 423.2v4.6M447.3 429.0h4.6M449.6 426.7v4.6M444.4 436.8h4.6M446.7 434.5v4.6M445.1 431.9h4.6M447.4 429.6v4.6M448.4 431.9h4.6M450.7 429.6v4.6M452.3 432.4h4.6M454.6 430.1v4.6M443.0 436.8h4.6M445.3 434.5v4.6M444.1 432.9h4.6M446.4 430.6v4.6M444.8 436.3h4.6M447.1 434.0v4.6M442.1 436.8h4.6M444.4 434.5v4.6M445.7 434.8h4.6M448.0 432.5v4.6M442.6 436.3h4.6M444.9 434.0v4.6M448.2 434.4h4.6M450.5 432.1v4.6M444.3 435.8h4.6M446.6 433.5v4.6M443.7 436.3h4.6M446.0 434.0v4.6M446.4 434.4h4.6M448.7 432.1v4.6M444.7 436.3h4.6M447.0 434.0v4.6M455.5 432.4h4.6M457.8 430.1v4.6M454.5 429.0h4.6M456.8 426.7v4.6M445.1 432.4h4.6M447.4 430.1v4.6M449.3 432.9h4.6M451.6 430.6v4.6M458.8 423.6h4.6M461.1 421.3v4.6M444.9 430.9h4.6M447.2 428.6v4.6M449.7 428.0h4.6M452.0 425.7v4.6M450.7 431.4h4.6M453.0 429.1v4.6M450.2 423.1h4.6M452.5 420.8v4.6M442.8 433.9h4.6M445.1 431.6v4.6M460.0 426.5h4.6M462.3 424.2v4.6M459.4 432.4h4.6M461.7 430.1v4.6M442.0 433.9h4.6M444.3 431.6v4.6M458.7 427.5h4.6M461.0 425.2v4.6M441.6 430.4h4.6M443.9 428.1v4.6M446.5 436.3h4.6M448.8 434.0v4.6M451.4 429.9h4.6M453.7 427.6v4.6M442.6 431.9h4.6M444.9 429.6v4.6M443.2 434.8h4.6M445.5 432.5v4.6M443.4 436.3h4.6M445.7 434.0v4.6M441.6 436.8h4.6M443.9 434.5v4.6M440.6 437.3h4.6M442.9 435.0v4.6M441.0 436.8h4.6M443.3 434.5v4.6M442.4 436.8h4.6M444.7 434.5v4.6M440.7 436.8h4.6M443.0 434.5v4.6M447.5 433.4h4.6M449.8 431.1v4.6M443.6 429.9h4.6M445.9 427.6v4.6M442.3 432.4h4.6M444.6 430.1v4.6M456.4 429.9h4.6M458.7 427.6v4.6M447.3 433.4h4.6M449.6 431.1v4.6M442.1 435.8h4.6M444.4 433.5v4.6M442.5 435.8h4.6M444.8 433.5v4.6M448.1 431.4h4.6M450.4 429.1v4.6M444.9 434.8h4.6M447.2 432.5v4.6M448.8 428.5h4.6M451.1 426.2v4.6M442.0 431.4h4.6M444.3 429.1v4.6M445.0 433.4h4.6M447.3 431.1v4.6M441.3 430.4h4.6M443.6 428.1v4.6M441.7 436.3h4.6M444.0 434.0v4.6M443.5 434.4h4.6M445.8 432.1v4.6M442.3 435.8h4.6M444.6 433.5v4.6M441.5 436.3h4.6M443.8 434.0v4.6M448.7 432.9h4.6M451.0 430.6v4.6M443.2 434.4h4.6M445.5 432.1v4.6M442.5 435.3h4.6M444.8 433.0v4.6M442.4 436.3h4.6M444.7 434.0v4.6M450.3 426.5h4.6M452.6 424.2v4.6M442.4 433.9h4.6M444.7 431.6v4.6M452.0 429.4h4.6M454.3 427.1v4.6M448.6 428.5h4.6M450.9 426.2v4.6M444.2 433.9h4.6M446.5 431.6v4.6M462.2 429.9h4.6M464.5 427.6v4.6M443.2 436.3h4.6M445.5 434.0v4.6M469.4 427.5h4.6M471.7 425.2v4.6M451.5 426.5h4.6M453.8 424.2v4.6M473.2 422.6h4.6M475.5 420.3v4.6M454.9 432.9h4.6M457.2 430.6v4.6M441.9 436.8h4.6M444.2 434.5v4.6M445.1 434.8h4.6M447.4 432.5v4.6M449.7 419.6h4.6M452.0 417.3v4.6M450.7 430.9h4.6M453.0 428.6v4.6M446.3 425.0h4.6M448.6 422.7v4.6M456.3 430.9h4.6M458.6 428.6v4.6M443.8 436.3h4.6M446.1 434.0v4.6M443.2 430.4h4.6M445.5 428.1v4.6M444.3 437.3h4.6M446.6 435.0v4.6M443.5 434.4h4.6M445.8 432.1v4.6M441.9 431.4h4.6M444.2 429.1v4.6M442.3 434.8h4.6M444.6 432.5v4.6M447.6 432.9h4.6M449.9 430.6v4.6M447.9 433.9h4.6M450.2 431.6v4.6M448.4 432.9h4.6M450.7 430.6v4.6M445.8 431.4h4.6M448.1 429.1v4.6M445.4 423.6h4.6M447.7 421.3v4.6M449.4 431.4h4.6M451.7 429.1v4.6M444.6 434.8h4.6M446.9 432.5v4.6M450.3 431.9h4.6M452.6 429.6v4.6M443.5 436.3h4.6M445.8 434.0v4.6M442.8 431.4h4.6M445.1 429.1v4.6M444.0 433.9h4.6M446.3 431.6v4.6M441.1 437.3h4.6M443.4 435.0v4.6M448.4 433.9h4.6M450.7 431.6v4.6M442.4 435.8h4.6M444.7 433.5v4.6M447.5 430.9h4.6M449.8 428.6v4.6M444.2 435.3h4.6M446.5 433.0v4.6M443.0 437.3h4.6M445.3 435.0v4.6M442.4 430.4h4.6M444.7 428.1v4.6M442.3 433.9h4.6M444.6 431.6v4.6M457.6 430.4h4.6M459.9 428.1v4.6M445.1 435.8h4.6M447.4 433.5v4.6M447.4 434.4h4.6M449.7 432.1v4.6M440.4 436.3h4.6M442.7 434.0v4.6M443.6 431.9h4.6M445.9 429.6v4.6M441.2 435.8h4.6M443.5 433.5v4.6M447.3 432.4h4.6M449.6 430.1v4.6M441.1 436.3h4.6M443.4 434.0v4.6M446.1 432.4h4.6M448.4 430.1v4.6M442.5 434.4h4.6M444.8 432.1v4.6M467.3 419.1h4.6M469.6 416.8v4.6M446.2 432.4h4.6M448.5 430.1v4.6M444.2 435.8h4.6M446.5 433.5v4.6M448.7 425.5h4.6M451.0 423.2v4.6M445.6 434.8h4.6M447.9 432.5v4.6M463.7 425.0h4.6M466.0 422.7v4.6M447.2 435.3h4.6M449.5 433.0v4.6M444.3 435.3h4.6M446.6 433.0v4.6M457.0 423.1h4.6M459.3 420.8v4.6M466.0 422.6h4.6M468.3 420.3v4.6M455.1 426.0h4.6M457.4 423.7v4.6M447.1 435.3h4.6M449.4 433.0v4.6M444.5 433.9h4.6M446.8 431.6v4.6M456.8 427.0h4.6M459.1 424.7v4.6M450.9 434.4h4.6M453.2 432.1v4.6M446.6 434.8h4.6M448.9 432.5v4.6M452.2 426.5h4.6M454.5 424.2v4.6M442.5 436.3h4.6M444.8 434.0v4.6M443.2 430.9h4.6M445.5 428.6v4.6M443.7 426.0h4.6M446.0 423.7v4.6M444.9 430.4h4.6M447.2 428.1v4.6M444.7 434.8h4.6M447.0 432.5v4.6M452.1 425.0h4.6M454.4 422.7v4.6M441.2 436.8h4.6M443.5 434.5v4.6M463.3 427.0h4.6M465.6 424.7v4.6M443.8 434.8h4.6M446.1 432.5v4.6M443.5 431.9h4.6M445.8 429.6v4.6M449.5 433.4h4.6M451.8 431.1v4.6M459.4 423.1h4.6M461.7 420.8v4.6M451.6 432.4h4.6M453.9 430.1v4.6M448.7 432.9h4.6M451.0 430.6v4.6M443.0 437.3h4.6M445.3 435.0v4.6M448.7 432.9h4.6M451.0 430.6v4.6M442.3 430.4h4.6M444.6 428.1v4.6M442.4 437.3h4.6M444.7 435.0v4.6M445.0 435.8h4.6M447.3 433.5v4.6M448.4 431.9h4.6M450.7 429.6v4.6M442.3 434.8h4.6M444.6 432.5v4.6M488.0 408.8h4.6M490.3 406.5v4.6M445.8 436.8h4.6M448.1 434.5v4.6M453.5 424.5h4.6M455.8 422.2v4.6M441.1 437.3h4.6M443.4 435.0v4.6M454.8 431.4h4.6M457.1 429.1v4.6M472.5 420.6h4.6M474.8 418.3v4.6M440.5 437.3h4.6M442.8 435.0v4.6M442.5 428.5h4.6M444.8 426.2v4.6M454.6 432.9h4.6M456.9 430.6v4.6M473.5 418.6h4.6M475.8 416.3v4.6M444.3 431.9h4.6M446.6 429.6v4.6M445.4 433.4h4.6M447.7 431.1v4.6M446.1 431.4h4.6M448.4 429.1v4.6M449.4 429.0h4.6M451.7 426.7v4.6M442.3 432.4h4.6M444.6 430.1v4.6M447.8 429.9h4.6M450.1 427.6v4.6M446.1 430.9h4.6M448.4 428.6v4.6M445.2 434.4h4.6M447.5 432.1v4.6M451.0 429.9h4.6M453.3 427.6v4.6M459.6 419.1h4.6M461.9 416.8v4.6M463.4 419.1h4.6M465.7 416.8v4.6M449.5 420.6h4.6M451.8 418.3v4.6M442.4 432.4h4.6M444.7 430.1v4.6M443.2 435.8h4.6M445.5 433.5v4.6M454.1 430.9h4.6M456.4 428.6v4.6M449.1 430.9h4.6M451.4 428.6v4.6M448.1 429.4h4.6M450.4 427.1v4.6M448.9 429.0h4.6M451.2 426.7v4.6M449.3 432.9h4.6M451.6 430.6v4.6M452.1 430.9h4.6M454.4 428.6v4.6M445.2 430.9h4.6M447.5 428.6v4.6M468.7 420.6h4.6M471.0 418.3v4.6M441.4 435.8h4.6M443.7 433.5v4.6M443.6 434.4h4.6M445.9 432.1v4.6M447.0 430.4h4.6M449.3 428.1v4.6M447.9 433.9h4.6M450.2 431.6v4.6M444.7 436.3h4.6M447.0 434.0v4.6M447.5 430.9h4.6M449.8 428.6v4.6M442.1 436.3h4.6M444.4 434.0v4.6M448.2 433.4h4.6M450.5 431.1v4.6M447.8 431.9h4.6M450.1 429.6v4.6M447.5 434.4h4.6M449.8 432.1v4.6M457.5 431.4h4.6M459.8 429.1v4.6M444.0 434.8h4.6M446.3 432.5v4.6M445.2 429.9h4.6M447.5 427.6v4.6M459.5 423.6h4.6M461.8 421.3v4.6M446.6 433.9h4.6M448.9 431.6v4.6M444.3 430.9h4.6M446.6 428.6v4.6M446.3 433.4h4.6M448.6 431.1v4.6M442.3 434.8h4.6M444.6 432.5v4.6M447.5 428.0h4.6M449.8 425.7v4.6M442.9 436.8h4.6M445.2 434.5v4.6M444.0 431.9h4.6M446.3 429.6v4.6M459.7 427.5h4.6M462.0 425.2v4.6M460.7 428.5h4.6M463.0 426.2v4.6M441.8 435.8h4.6M444.1 433.5v4.6M445.3 434.4h4.6M447.6 432.1v4.6M442.2 437.3h4.6M444.5 435.0v4.6M443.7 431.4h4.6M446.0 429.1v4.6M448.8 426.5h4.6M451.1 424.2v4.6M443.3 435.3h4.6M445.6 433.0v4.6M441.5 432.9h4.6M443.8 430.6v4.6M447.7 430.9h4.6M450.0 428.6v4.6M442.4 434.8h4.6M444.7 432.5v4.6M451.9 428.5h4.6M454.2 426.2v4.6M456.8 430.4h4.6M459.1 428.1v4.6M447.9 430.9h4.6M450.2 428.6v4.6M448.0 433.4h4.6M450.3 431.1v4.6M453.8 426.5h4.6M456.1 424.2v4.6M446.3 434.8h4.6M448.6 432.5v4.6M444.8 433.4h4.6M447.1 431.1v4.6M470.0 431.4h4.6M472.3 429.1v4.6M440.8 436.8h4.6M443.1 434.5v4.6M446.5 434.8h4.6M448.8 432.5v4.6M443.4 434.8h4.6M445.7 432.5v4.6M457.3 431.4h4.6M459.6 429.1v4.6M441.6 433.9h4.6M443.9 431.6v4.6M445.0 435.3h4.6M447.3 433.0v4.6M446.3 434.4h4.6M448.6 432.1v4.6M445.3 435.3h4.6M447.6 433.0v4.6M449.2 434.8h4.6M451.5 432.5v4.6M442.3 437.3h4.6M444.6 435.0v4.6M444.4 431.9h4.6M446.7 429.6v4.6M443.7 430.9h4.6M446.0 428.6v4.6M451.0 426.5h4.6M453.3 424.2v4.6M441.4 436.3h4.6M443.7 434.0v4.6M440.6 436.8h4.6M442.9 434.5v4.6M440.2 432.9h4.6M442.5 430.6v4.6M441.0 429.4h4.6M443.3 427.1v4.6M440.8 432.4h4.6M443.1 430.1v4.6M440.1 436.3h4.6M442.4 434.0v4.6M440.5 431.9h4.6M442.8 429.6v4.6M440.1 432.4h4.6M442.4 430.1v4.6M440.0 434.8h4.6M442.3 432.5v4.6M440.1 433.9h4.6M442.4 431.6v4.6M440.3 416.2h4.6M442.6 413.9v4.6M440.3 435.8h4.6M442.6 433.5v4.6M440.2 436.3h4.6M442.5 434.0v4.6M440.3 428.0h4.6M442.6 425.7v4.6M440.1 433.4h4.6M442.4 431.1v4.6M440.3 420.1h4.6M442.6 417.8v4.6M440.1 420.1h4.6M442.4 417.8v4.6M440.6 435.8h4.6M442.9 433.5v4.6M440.3 398.0h4.6M442.6 395.7v4.6M440.1 431.9h4.6M442.4 429.6v4.6M440.1 435.8h4.6M442.4 433.5v4.6M440.1 425.5h4.6M442.4 423.2v4.6M440.6 424.0h4.6M442.9 421.7v4.6M440.1 433.4h4.6M442.4 431.1v4.6M440.2 435.8h4.6M442.5 433.5v4.6M440.1 426.5h4.6M442.4 424.2v4.6M440.5 427.5h4.6M442.8 425.2v4.6M440.2 415.2h4.6M442.5 412.9v4.6M440.5 429.9h4.6M442.8 427.6v4.6M440.1 433.9h4.6M442.4 431.6v4.6M440.1 432.4h4.6M442.4 430.1v4.6M440.3 436.8h4.6M442.6 434.5v4.6M440.2 430.4h4.6M442.5 428.1v4.6M440.0 435.3h4.6M442.3 433.0v4.6M440.2 429.0h4.6M442.5 426.7v4.6M440.1 437.3h4.6M442.4 435.0v4.6M440.1 432.9h4.6M442.4 430.6v4.6M440.1 435.3h4.6M442.4 433.0v4.6M440.2 431.4h4.6M442.5 429.1v4.6M440.2 433.4h4.6M442.5 431.1v4.6M440.6 427.5h4.6M442.9 425.2v4.6M440.5 426.5h4.6M442.8 424.2v4.6M440.0 432.4h4.6M442.3 430.1v4.6M440.0 434.8h4.6M442.3 432.5v4.6M440.4 435.3h4.6M442.7 433.0v4.6M440.1 436.8h4.6M442.4 434.5v4.6M440.3 426.5h4.6M442.6 424.2v4.6M440.5 429.0h4.6M442.8 426.7v4.6M440.2 434.8h4.6M442.5 432.5v4.6M440.3 429.4h4.6M442.6 427.1v4.6M440.7 426.5h4.6M443.0 424.2v4.6M440.2 430.4h4.6M442.5 428.1v4.6M440.1 430.9h4.6M442.4 428.6v4.6M440.0 436.3h4.6M442.3 434.0v4.6M440.3 431.4h4.6M442.6 429.1v4.6M440.3 436.3h4.6M442.6 434.0v4.6M440.6 426.0h4.6M442.9 423.7v4.6M440.1 429.0h4.6M442.4 426.7v4.6M440.2 437.3h4.6M442.5 435.0v4.6M440.0 430.9h4.6M442.3 428.6v4.6M440.1 437.3h4.6M442.4 435.0v4.6M440.5 434.8h4.6M442.8 432.5v4.6M440.7 434.4h4.6M443.0 432.1v4.6M440.1 436.8h4.6M442.4 434.5v4.6M440.1 408.8h4.6M442.4 406.5v4.6M440.3 433.4h4.6M442.6 431.1v4.6M440.2 437.3h4.6M442.5 435.0v4.6M440.7 422.6h4.6M443.0 420.3v4.6M440.4 429.4h4.6M442.7 427.1v4.6M440.3 430.9h4.6M442.6 428.6v4.6M440.2 436.8h4.6M442.5 434.5v4.6M440.0 435.8h4.6M442.3 433.5v4.6M440.0 431.4h4.6M442.3 429.1v4.6M440.0 433.4h4.6M442.3 431.1v4.6M440.1 433.4h4.6M442.4 431.1v4.6M440.0 420.6h4.6M442.3 418.3v4.6M440.6 435.8h4.6M442.9 433.5v4.6M440.5 434.8h4.6M442.8 432.5v4.6M440.4 434.4h4.6M442.7 432.1v4.6M440.4 430.9h4.6M442.7 428.6v4.6M440.3 429.9h4.6M442.6 427.6v4.6M440.1 418.2h4.6M442.4 415.9v4.6M440.4 437.3h4.6M442.7 435.0v4.6M440.8 435.3h4.6M443.1 433.0v4.6M440.2 434.4h4.6M442.5 432.1v4.6M440.8 432.4h4.6M443.1 430.1v4.6M440.2 429.9h4.6M442.5 427.6v4.6M440.3 431.9h4.6M442.6 429.6v4.6M440.0 437.3h4.6M442.3 435.0v4.6M440.0 435.8h4.6M442.3 433.5v4.6M440.1 436.8h4.6M442.4 434.5v4.6M440.3 433.4h4.6M442.6 431.1v4.6M440.2 424.5h4.6M442.5 422.2v4.6M440.1 431.4h4.6M442.4 429.1v4.6M440.2 429.9h4.6M442.5 427.6v4.6M440.0 435.8h4.6M442.3 433.5v4.6M440.1 435.8h4.6M442.4 433.5v4.6M440.0 437.3h4.6M442.3 435.0v4.6M440.1 434.4h4.6M442.4 432.1v4.6M440.3 427.0h4.6M442.6 424.7v4.6M440.1 425.0h4.6M442.4 422.7v4.6M440.0 433.4h4.6M442.3 431.1v4.6M440.0 428.0h4.6M442.3 425.7v4.6M440.8 425.0h4.6M443.1 422.7v4.6M440.1 430.9h4.6M442.4 428.6v4.6M440.5 433.9h4.6M442.8 431.6v4.6M440.3 431.9h4.6M442.6 429.6v4.6M440.1 426.0h4.6M442.4 423.7v4.6M440.3 433.4h4.6M442.6 431.1v4.6M440.4 414.2h4.6M442.7 411.9v4.6M440.1 430.9h4.6M442.4 428.6v4.6M440.0 437.3h4.6M442.3 435.0v4.6M440.0 433.4h4.6M442.3 431.1v4.6M440.8 433.4h4.6M443.1 431.1v4.6M440.1 430.9h4.6M442.4 428.6v4.6M440.2 434.4h4.6M442.5 432.1v4.6M440.2 426.0h4.6M442.5 423.7v4.6M440.1 436.3h4.6M442.4 434.0v4.6M440.8 429.9h4.6M443.1 427.6v4.6M440.1 435.3h4.6M442.4 433.0v4.6M440.1 433.4h4.6M442.4 431.1v4.6M440.1 434.8h4.6M442.4 432.5v4.6M440.6 432.9h4.6M442.9 430.6v4.6M440.5 434.8h4.6M442.8 432.5v4.6M440.3 436.3h4.6M442.6 434.0v4.6M440.5 436.3h4.6M442.8 434.0v4.6M440.2 432.9h4.6M442.5 430.6v4.6M440.3 434.4h4.6M442.6 432.1v4.6M440.2 434.8h4.6M442.5 432.5v4.6M440.1 432.9h4.6M442.4 430.6v4.6M440.6 435.8h4.6M442.9 433.5v4.6M440.3 433.9h4.6M442.6 431.6v4.6M440.1 420.6h4.6M442.4 418.3v4.6M440.1 426.5h4.6M442.4 424.2v4.6M441.0 422.6h4.6M443.3 420.3v4.6M440.2 436.3h4.6M442.5 434.0v4.6M440.1 437.3h4.6M442.4 435.0v4.6M440.3 431.9h4.6M442.6 429.6v4.6M440.2 433.4h4.6M442.5 431.1v4.6M440.4 433.4h4.6M442.7 431.1v4.6M440.0 432.4h4.6M442.3 430.1v4.6M440.1 435.8h4.6M442.4 433.5v4.6M440.2 435.3h4.6M442.5 433.0v4.6M441.1 436.3h4.6M443.4 434.0v4.6M440.1 433.9h4.6M442.4 431.6v4.6M440.5 399.0h4.6M442.8 396.7v4.6M440.2 432.4h4.6M442.5 430.1v4.6M440.3 436.8h4.6M442.6 434.5v4.6M440.2 437.3h4.6M442.5 435.0v4.6M440.0 431.9h4.6M442.3 429.6v4.6M440.5 415.2h4.6M442.8 412.9v4.6M440.2 436.3h4.6M442.5 434.0v4.6M577.0 330.7h4.6M579.3 328.4v4.6M578.6 330.7h4.6M580.9 328.4v4.6M589.9 327.6h4.6M592.2 325.3v4.6M589.9 339.3h4.6M592.2 337.0v4.6M533.5 364.6h4.6M535.8 362.3v4.6M507.8 382.1h4.6M510.1 379.8v4.6M514.6 380.3h4.6M516.9 378.0v4.6M523.6 381.0h4.6M525.9 378.7v4.6M527.4 384.8h4.6M529.7 382.5v4.6M524.1 389.4h4.6M526.4 387.1v4.6M518.4 386.6h4.6M520.7 384.3v4.6M519.1 393.9h4.6M521.4 391.6v4.6M514.4 396.8h4.6M516.7 394.5v4.6M510.5 390.7h4.6M512.8 388.4v4.6M506.0 393.9h4.6M508.3 391.6v4.6M503.7 394.5h4.6M506.0 392.2v4.6M497.0 400.2h4.6M499.3 397.9v4.6M493.6 401.3h4.6M495.9 399.0v4.6M501.5 402.4h4.6M503.8 400.1v4.6M495.9 413.7h4.6M498.2 411.4v4.6M485.7 404.7h4.6M488.0 402.4v4.6M668.2 291.2h4.6M670.5 288.9v4.6M439.5 372.0h4.6M441.8 369.7v4.6M450.1 401.0h4.6M452.4 398.7v4.6M456.5 399.1h4.6M458.8 396.8v4.6M447.2 405.9h4.6M449.5 403.6v4.6M455.2 405.5h4.6M457.5 403.2v4.6M441.5 406.7h4.6M443.8 404.4v4.6M438.6 408.0h4.6M440.9 405.7v4.6M455.4 407.5h4.6M457.7 405.2v4.6M450.1 412.0h4.6M452.4 409.7v4.6M469.4 405.0h4.6M471.7 402.7v4.6M469.7 407.0h4.6M472.0 404.7v4.6M477.1 408.0h4.6M479.4 405.7v4.6M464.4 410.4h4.6M466.7 408.1v4.6" stroke="#2c6f8d" stroke-width="1.05" fill="none"/>
<line x1="442.5" y1="437.3" x2="669.7" y2="289.2" stroke="#5a1a70" stroke-width="1.1"/>
<path d="M442.5 265.5 H681.5 V437.3 H442.5 Z" fill="none" stroke="#5a5a5a" stroke-width="1"/>
<text x="0.00" y="0.00" font-size="9.0" text-anchor="end" textLength="5.51" lengthAdjust="spacingAndGlyphs" transform="translate(448.20 445.30) rotate(-45)">0</text>
<text x="0.00" y="0.00" font-size="9.0" text-anchor="end" textLength="30.28" lengthAdjust="spacingAndGlyphs" transform="translate(486.53 445.30) rotate(-45)">20,000</text>
<text x="0.00" y="0.00" font-size="9.0" text-anchor="end" textLength="30.28" lengthAdjust="spacingAndGlyphs" transform="translate(526.37 445.30) rotate(-45)">40,000</text>
<text x="0.00" y="0.00" font-size="9.0" text-anchor="end" textLength="30.28" lengthAdjust="spacingAndGlyphs" transform="translate(566.20 445.30) rotate(-45)">60,000</text>
<text x="0.00" y="0.00" font-size="9.0" text-anchor="end" textLength="30.28" lengthAdjust="spacingAndGlyphs" transform="translate(606.03 445.30) rotate(-45)">80,000</text>
<text x="0.00" y="0.00" font-size="9.0" text-anchor="end" textLength="35.78" lengthAdjust="spacingAndGlyphs" transform="translate(645.87 445.30) rotate(-45)">100,000</text>
<text x="0.00" y="0.00" font-size="9.0" text-anchor="end" textLength="35.78" lengthAdjust="spacingAndGlyphs" transform="translate(685.70 445.30) rotate(-45)">120,000</text>
<text x="437.40" y="440.60" font-size="9.2" text-anchor="end" textLength="5.12" lengthAdjust="spacingAndGlyphs">0</text>
<text x="437.40" y="416.06" font-size="9.2" text-anchor="end" textLength="10.23" lengthAdjust="spacingAndGlyphs">50</text>
<text x="437.40" y="391.51" font-size="9.2" text-anchor="end" textLength="15.35" lengthAdjust="spacingAndGlyphs">100</text>
<text x="437.40" y="366.97" font-size="9.2" text-anchor="end" textLength="15.35" lengthAdjust="spacingAndGlyphs">150</text>
<text x="437.40" y="342.43" font-size="9.2" text-anchor="end" textLength="15.35" lengthAdjust="spacingAndGlyphs">200</text>
<text x="437.40" y="317.89" font-size="9.2" text-anchor="end" textLength="15.35" lengthAdjust="spacingAndGlyphs">250</text>
<text x="437.40" y="293.34" font-size="9.2" text-anchor="end" textLength="15.35" lengthAdjust="spacingAndGlyphs">300</text>
<text x="437.40" y="268.80" font-size="9.2" text-anchor="end" textLength="15.35" lengthAdjust="spacingAndGlyphs">350</text>
<text x="0.00" y="0.00" font-size="10.1" text-anchor="middle" textLength="110.20" lengthAdjust="spacingAndGlyphs" transform="translate(401.40 351.30) rotate(-90)">Number of Col reads in</text>
<text x="0.00" y="0.00" font-size="10.1" text-anchor="middle" textLength="58.10" lengthAdjust="spacingAndGlyphs" transform="translate(412.80 351.45) rotate(-90)">the Ped root</text>
<text x="469.20" y="485.70" font-size="10.2" textLength="184.80" lengthAdjust="spacingAndGlyphs">Number of Col reads in the Col rosette</text>
<path d="M450.3 275.8h4M452.3 273.8v4" stroke="#2c6f8d" stroke-width="1.1"/>
<line x1="448.00" y1="288.50" x2="457.00" y2="288.50" stroke="#7a3a90" stroke-width="1"/>
<text x="462.20" y="279.20" font-size="9.9" textLength="21.00" lengthAdjust="spacingAndGlyphs">Data</text>
<text x="462.20" y="291.60" font-size="9.9" textLength="40.60" lengthAdjust="spacingAndGlyphs">Linear fit</text>
</svg></body></html>
